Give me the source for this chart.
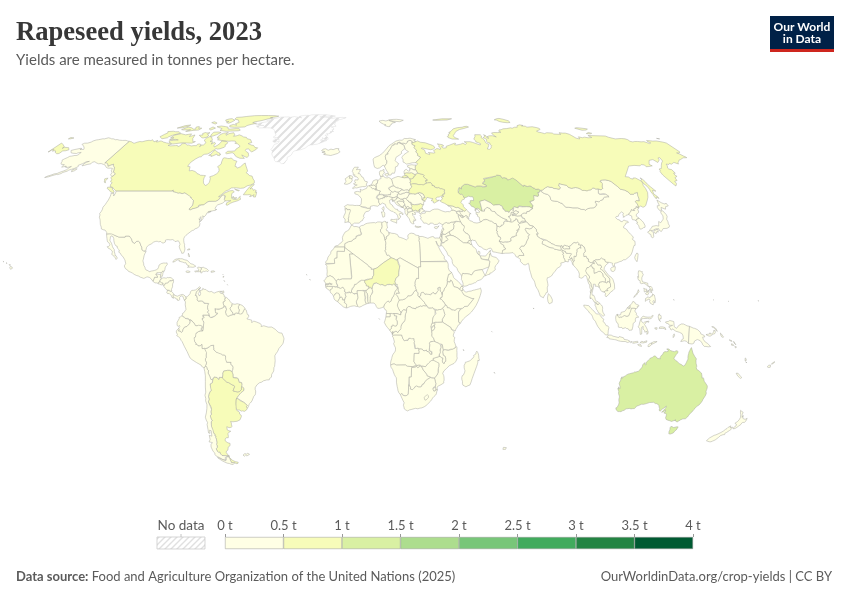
<!DOCTYPE html>
<html><head><meta charset="utf-8">
<script src="https://cdn.jsdelivr.net/npm/echarts@6/dist/echarts.min.js"></script>
<style>html,body{margin:0;background:#fff}#c{width:850px;height:600px}</style></head>
<body><div id="c"></div>
<script>
const legendTicks=[0,0.5,1,1.5,2,2.5,3,3.5,4];
const legendColors=['#ffffe5','#f7fcb9','#d9f0a3','#addd8e','#78c679','#41ab5d','#238443','#005a32'];
const yieldHalfToOne=['Canada','Russia','Argentina','Paraguay','Uruguay','Niger','Belarus','Ukraine','Lithuania','Bulgaria'];
const yieldOneToOneHalf=['Kazakhstan','Australia'];
const noDataCountries=['Greenland'];
const yieldValues={low:0.3,half:0.75,one:1.25};
const G={
"Afghanistan":"61.2,35.65 62.23,35.27 62.98,35.4 63.19,35.86 63.98,36.01 64.55,36.31 64.75,37.11 65.59,37.31 65.75,37.66 66.22,37.39 66.52,37.36 67.08,37.36 67.83,37.14 68.14,37.02 68.86,37.34 69.2,37.15 69.52,37.61 70.12,37.59 70.27,37.74 70.38,38.14 70.81,38.49 71.35,38.26 71.24,37.95 71.54,37.91 71.45,37.07 71.84,36.74 72.19,36.95 72.64,37.05 73.26,37.5 73.95,37.42 74.98,37.42 75.16,37.13 74.58,37.02 72.92,36.72 71.85,36.51 71.26,36.07 71.5,35.65 71.61,35.15 71.12,34.73 71.16,34.35 70.88,33.99 69.93,34.02 70.32,33.36 69.69,33.11 69.26,32.5 69.32,31.9 68.93,31.62 68.56,31.71 67.79,31.58 67.68,31.3 66.94,31.3 66.38,30.74 66.35,29.89 65.05,29.47 64.35,29.56 64.15,29.34 63.55,29.47 62.55,29.32 60.87,29.83 61.78,30.74 61.7,31.38 60.94,31.55 60.86,32.18 60.54,33.0 60.96,33.53 60.53,33.68 60.8,34.4 61.21,35.65",
"Angola":"16.33,-5.88 16.86,-7.22 17.47,-8.07 18.13,-7.99 18.46,-7.85 19.02,-7.99 19.17,-7.74 19.42,-7.16 20.04,-7.12 20.09,-6.94 20.6,-6.94 20.51,-7.3 21.73,-7.29 21.75,-7.92 21.95,-8.31 21.8,-8.91 21.88,-9.52 22.21,-9.89 22.16,-11.08 22.4,-10.99 22.84,-11.02 23.46,-10.87 23.91,-10.93 24.02,-11.24 23.9,-11.72 24.08,-12.19 23.93,-12.57 24.02,-12.91 21.93,-12.9 21.89,-16.08 22.56,-16.9 23.22,-17.52 21.38,-17.93 18.96,-17.79 18.26,-17.31 14.21,-17.35 13.46,-16.97 12.81,-16.94 12.22,-17.11 11.73,-17.3 11.64,-16.67 11.78,-15.79 12.12,-14.88 12.18,-14.45 12.5,-13.55 12.74,-13.14 13.31,-12.48 13.63,-12.04 13.74,-11.3 13.69,-10.73 13.39,-10.37 13.12,-9.77 12.88,-9.17 12.93,-8.96 13.24,-8.56 12.93,-7.6 12.73,-6.93 12.23,-6.29 12.32,-6.1 12.73,-5.97 13.02,-5.98 13.38,-5.86 16.33,-5.88;12.44,-5.68 12.18,-5.79 11.91,-5.04 12.32,-4.61 12.62,-4.44 12.44,-5.68",
"Albania":"20.59,41.86 20.46,41.52 20.61,41.09 21.02,40.84 20.67,40.43 20.15,39.62 19.98,39.69 19.4,40.25 19.32,40.73 19.4,41.41 19.54,41.72 19.37,41.88 19.3,42.2 19.74,42.69 19.8,42.5 20.07,42.59 20.28,42.32 20.52,42.22 20.59,41.86",
"United Arab Emirates":"51.58,24.25 51.76,24.29 51.79,24.02 52.58,24.18 53.4,24.15 54.01,24.12 54.69,24.8 55.44,25.44 56.07,26.06 56.26,25.71 56.4,24.92 55.89,24.92 55.8,24.27 55.98,24.13 55.53,23.93 55.53,23.52 55.23,23.11 55.21,22.71 55.01,22.5 52.0,23.0 51.62,24.01 51.58,24.25",
"Argentina":"-65.5,-55.2 -66.45,-55.25 -66.96,-54.9 -67.56,-54.87 -68.63,-54.87 -68.63,-52.64 -68.25,-53.1 -67.75,-53.85 -66.45,-54.45 -65.05,-54.7 -65.5,-55.2;-64.96,-22.08 -64.38,-22.8 -63.99,-21.99 -62.85,-22.03 -62.69,-22.25 -60.85,-23.88 -60.03,-24.03 -58.81,-24.77 -57.78,-25.16 -57.63,-25.6 -58.62,-27.12 -57.61,-27.4 -56.49,-27.55 -55.7,-27.39 -54.79,-26.62 -54.63,-25.74 -54.13,-25.55 -53.63,-26.12 -53.65,-26.92 -54.49,-27.47 -55.16,-27.88 -56.29,-28.85 -57.63,-30.22 -57.87,-31.02 -58.14,-32.04 -58.13,-33.04 -58.35,-33.26 -58.5,-34.43 -57.23,-35.29 -57.36,-35.98 -56.74,-36.41 -56.79,-36.9 -57.75,-38.18 -59.23,-38.72 -61.24,-38.93 -62.34,-38.83 -62.13,-39.42 -62.33,-40.17 -62.15,-40.68 -62.75,-41.03 -63.77,-41.17 -64.73,-40.8 -65.12,-41.06 -64.98,-42.06 -64.3,-42.36 -63.76,-42.04 -63.46,-42.56 -64.38,-42.87 -65.18,-43.5 -65.33,-44.5 -65.57,-45.04 -66.51,-45.04 -67.29,-45.55 -67.58,-46.3 -66.6,-47.03 -65.64,-47.24 -65.99,-48.13 -67.17,-48.7 -67.82,-49.87 -68.73,-50.26 -69.14,-50.73 -68.82,-51.77 -68.15,-52.35 -68.57,-52.3 -69.5,-52.14 -71.91,-52.01 -72.33,-51.43 -72.31,-50.68 -72.98,-50.74 -73.33,-50.38 -73.42,-49.32 -72.65,-48.88 -72.33,-48.24 -72.45,-47.74 -71.92,-46.88 -71.55,-45.56 -71.66,-44.97 -71.22,-44.78 -71.33,-44.41 -71.79,-44.21 -71.46,-43.79 -71.92,-43.41 -72.15,-42.25 -71.75,-42.05 -71.92,-40.83 -71.68,-39.81 -71.41,-38.92 -70.81,-38.55 -71.12,-37.58 -71.12,-36.66 -70.36,-36.01 -70.39,-35.17 -69.82,-34.19 -69.81,-33.27 -70.07,-33.09 -70.54,-31.37 -69.92,-30.34 -70.01,-29.37 -69.66,-28.46 -69.0,-27.52 -68.3,-26.9 -68.59,-26.51 -68.39,-26.19 -68.42,-24.52 -67.33,-24.03 -66.99,-22.99 -67.11,-22.74 -66.27,-21.83 -64.96,-22.08",
"Armenia":"43.58,41.09 44.97,41.25 45.18,40.99 45.56,40.81 45.36,40.56 45.89,40.22 45.61,39.9 46.03,39.63 46.48,39.46 46.51,38.77 46.14,38.74 45.74,39.32 45.74,39.47 45.3,39.47 45.0,39.74 44.79,39.71 44.4,40.01 43.66,40.25 43.75,40.74 43.58,41.09",
"Australia":"142.51,-10.67 143.52,-12.83 144.56,-14.17 145.37,-14.98 145.27,-15.43 145.49,-16.29 145.64,-16.78 145.89,-16.91 146.16,-17.76 146.06,-18.28 146.39,-18.96 147.47,-19.48 148.18,-19.96 148.85,-20.39 148.72,-20.63 149.29,-21.26 149.68,-22.34 150.08,-22.12 150.48,-22.56 150.73,-22.4 150.9,-23.46 151.61,-24.08 152.07,-24.46 152.86,-25.27 153.14,-26.07 153.16,-26.64 153.09,-27.26 153.57,-28.11 153.51,-28.99 153.34,-29.46 153.07,-30.35 153.09,-30.92 152.89,-31.64 152.45,-32.55 151.71,-33.04 151.34,-33.82 151.01,-34.31 150.71,-35.17 150.33,-35.67 150.08,-36.42 149.95,-37.11 149.99,-37.43 149.42,-37.77 148.3,-37.81 147.38,-38.22 146.92,-38.61 146.32,-39.04 145.49,-38.59 144.88,-38.42 145.32,-38.21 144.88,-37.9 143.61,-38.81 142.75,-38.54 142.18,-38.38 141.61,-38.31 140.64,-38.02 139.99,-37.4 139.81,-36.64 139.57,-36.14 139.08,-35.73 138.12,-35.61 138.45,-35.13 138.21,-34.38 137.72,-35.08 136.83,-35.26 137.35,-34.71 137.5,-34.13 137.89,-33.64 137.81,-32.9 136.99,-33.75 136.37,-34.09 135.99,-34.89 135.21,-34.48 135.24,-33.95 134.61,-33.22 134.09,-32.85 134.27,-32.62 132.99,-32.01 132.29,-31.98 131.33,-31.5 129.54,-31.59 128.24,-32.0 127.1,-32.28 126.15,-32.22 125.09,-32.73 124.22,-32.96 124.03,-33.48 123.66,-33.89 122.81,-33.91 122.18,-34.0 121.3,-33.82 120.58,-33.93 119.89,-33.98 119.3,-34.51 119.01,-34.46 118.51,-34.75 118.03,-35.06 117.3,-35.03 116.63,-35.03 115.56,-34.39 115.03,-34.2 115.05,-33.62 115.55,-33.49 115.71,-33.26 115.68,-32.9 115.8,-32.21 115.69,-31.61 115.16,-30.6 115.0,-30.03 115.04,-29.46 114.64,-28.81 114.62,-28.52 114.17,-28.12 114.05,-27.33 113.48,-26.54 113.34,-26.12 113.78,-26.55 113.44,-25.62 113.94,-25.91 114.23,-26.3 114.22,-25.79 113.72,-25.0 113.63,-24.68 113.39,-24.38 113.5,-23.81 113.71,-23.56 113.84,-23.06 113.74,-22.48 114.15,-21.76 114.23,-22.52 114.65,-21.83 115.46,-21.5 115.95,-21.07 116.71,-20.7 117.17,-20.62 117.44,-20.75 118.23,-20.37 118.84,-20.26 119.25,-19.95 119.81,-19.98 120.86,-19.68 121.4,-19.24 121.66,-18.71 122.24,-18.2 122.29,-17.8 122.31,-17.25 123.01,-16.41 123.43,-17.27 123.86,-17.07 123.5,-16.6 123.82,-16.11 124.26,-16.33 124.38,-15.57 124.93,-15.08 125.17,-14.68 125.67,-14.51 125.69,-14.23 126.13,-14.35 126.14,-14.1 126.58,-13.95 127.07,-13.82 127.8,-14.28 128.36,-14.87 128.99,-14.88 129.62,-14.97 129.41,-14.42 129.89,-13.62 130.34,-13.36 130.18,-13.11 130.62,-12.54 131.22,-12.18 131.74,-12.29 132.58,-12.11 132.56,-11.6 131.82,-11.27 132.36,-11.13 133.02,-11.38 133.55,-11.79 134.39,-12.04 134.68,-11.94 135.3,-12.25 135.88,-11.96 136.26,-12.05 136.49,-11.86 136.95,-12.35 136.69,-12.89 136.31,-13.29 135.96,-13.32 136.08,-13.72 135.78,-14.22 135.43,-14.72 135.5,-15.0 136.3,-15.55 137.07,-15.87 137.58,-16.22 138.3,-16.81 138.59,-16.81 139.11,-17.06 139.26,-17.37 140.22,-17.71 140.88,-17.37 141.07,-16.83 141.27,-16.39 141.4,-15.84 141.7,-15.04 141.56,-14.56 141.64,-14.27 141.52,-13.7 141.65,-12.94 141.84,-12.74 141.69,-12.41 141.93,-11.88 142.12,-11.33 142.14,-11.04 142.51,-10.67;145.4,-40.79 146.36,-41.14 146.91,-41.0 147.69,-40.81 148.29,-40.88 148.36,-42.06 148.02,-42.41 147.91,-43.21 147.56,-42.94 146.87,-43.63 146.66,-43.58 146.05,-43.55 145.43,-42.69 145.3,-42.03 144.72,-41.16 144.74,-40.7 145.4,-40.79",
"Austria":"16.98,48.12 16.9,47.71 16.34,47.71 16.53,47.5 16.2,46.85 16.01,46.68 15.14,46.66 14.63,46.43 13.81,46.51 12.38,46.77 12.15,47.12 11.16,46.94 11.05,46.75 10.44,46.89 9.93,46.92 9.48,47.1 9.63,47.35 9.59,47.53 9.9,47.58 10.4,47.3 10.54,47.57 11.43,47.52 12.14,47.7 12.62,47.67 12.93,47.47 13.03,47.64 12.88,48.29 13.24,48.42 13.6,48.88 14.34,48.56 14.9,48.96 15.25,49.04 16.03,48.73 16.5,48.79 16.96,48.6 16.88,48.47 16.98,48.12",
"Azerbaijan":"45.0,39.74 45.3,39.47 45.74,39.47 45.74,39.32 46.14,38.74 45.46,38.87 44.95,39.34 44.79,39.71 45,39.74;47.37,41.22 47.82,41.15 47.99,41.41 48.58,41.81 49.11,41.28 49.62,40.57 50.08,40.53 50.39,40.26 49.57,40.18 49.4,39.4 49.22,39.05 48.86,38.82 48.88,38.32 48.63,38.27 48.01,38.79 48.36,39.29 48.06,39.58 47.69,39.51 46.51,38.77 46.48,39.46 46.03,39.63 45.61,39.9 45.89,40.22 45.36,40.56 45.56,40.81 45.18,40.99 44.97,41.25 45.18,41.41 45.96,41.12 46.5,41.06 46.64,41.18 46.15,41.72 46.4,41.86 46.69,41.83 47.37,41.22",
"Burundi":"29.34,-4.5 29.28,-3.29 29.02,-2.92 29.63,-2.92 29.94,-2.35 30.47,-2.41 30.53,-2.81 30.74,-3.03 30.75,-3.36 30.51,-3.57 30.12,-4.09 29.75,-4.45 29.34,-4.5",
"Belgium":"3.31,51.35 4.05,51.27 4.97,51.48 5.61,51.04 6.16,50.8 6.04,50.13 5.78,50.09 5.67,49.53 4.8,50.0 4.29,49.91 3.59,50.38 3.12,50.78 2.66,50.8 2.51,51.15 3.31,51.35",
"Benin":"2.69,6.26 1.87,6.14 1.62,6.83 1.66,9.13 1.46,9.33 1.43,9.83 0.77,10.47 0.9,11.0 1.24,11.11 1.45,11.55 1.94,11.64 2.15,11.94 2.49,12.23 2.85,12.24 3.61,11.66 3.57,11.33 3.8,10.73 3.6,10.33 3.71,10.06 3.22,9.44 2.91,9.14 2.72,8.51 2.75,7.87 2.69,6.26",
"Burkina Faso":"-2.83,9.64 -3.51,9.9 -3.98,9.86 -4.33,9.61 -4.78,9.82 -4.95,10.15 -5.4,10.37 -5.47,10.95 -5.2,11.38 -5.22,11.71 -4.43,12.54 -4.28,13.23 -4.01,13.47 -3.52,13.34 -3.1,13.54 -2.97,13.8 -2.19,14.25 -2.0,14.56 -1.07,14.97 -0.52,15.12 -0.27,14.92 0.37,14.93 0.3,14.44 0.43,14.0 0.99,13.34 1.02,12.85 2.18,12.63 2.15,11.94 1.94,11.64 1.45,11.55 1.24,11.11 0.9,11.0 0.02,11.02 -0.44,11.1 -0.76,10.94 -1.2,11.01 -2.94,10.96 -2.96,10.4 -2.83,9.64",
"Bangladesh":"92.67,22.04 92.65,21.32 92.3,21.48 92.37,20.67 92.08,21.19 92.03,21.7 91.83,22.18 91.42,22.77 90.5,22.81 90.59,22.39 90.27,21.84 89.85,22.04 89.7,21.86 89.42,21.97 89.03,22.06 88.88,22.88 88.53,23.63 88.7,24.23 88.08,24.5 88.31,24.87 88.93,25.24 88.21,25.77 88.56,26.45 89.36,26.01 89.83,25.97 89.92,25.27 90.87,25.13 91.8,25.15 92.38,24.98 91.92,24.13 91.47,24.07 91.16,23.5 91.71,22.99 91.87,23.62 92.15,23.63 92.67,22.04",
"Bulgaria":"22.66,44.23 22.94,43.82 23.33,43.9 24.1,43.74 25.57,43.69 26.07,43.94 27.24,44.18 27.97,43.81 28.56,43.71 28.04,43.29 27.67,42.58 27.99,42.01 27.14,42.14 26.12,41.83 26.11,41.33 25.2,41.23 24.49,41.58 23.69,41.31 22.95,41.34 22.88,41.99 22.38,42.32 22.55,42.46 22.44,42.58 22.6,42.9 22.99,43.12 22.5,43.64 22.41,44.01 22.66,44.23",
"Bahamas":"-77.53,23.76 -77.78,23.71 -78.03,24.29 -78.41,24.58 -78.19,25.21 -77.89,25.17 -77.54,24.34 -77.53,23.76;-77.82,26.58 -78.91,26.42 -78.98,26.79 -78.51,26.87 -77.85,26.84 -77.82,26.58",
"Bosnia and Herzegovina":"19.01,44.86 19.37,44.86 19.12,44.42 19.6,44.04 19.45,43.57 19.22,43.52 18.71,43.2 18.56,42.65 17.67,43.03 17.3,43.45 16.92,43.67 16.46,44.04 16.24,44.35 15.75,44.82 15.96,45.23 16.32,45.0 16.53,45.21 17.0,45.23 17.86,45.07 18.55,45.08 19.01,44.86",
"Belarus":"23.48,53.91 24.45,53.91 25.54,54.28 25.77,54.85 26.59,55.17 26.49,55.62 27.1,55.78 28.18,56.17 29.23,55.92 29.37,55.67 29.9,55.79 30.87,55.55 31.38,55.18 30.76,54.81 31.38,54.16 31.79,53.97 31.73,53.79 32.41,53.62 32.69,53.35 32.3,53.13 31.5,53.17 31.31,53.07 31.54,52.74 31.79,52.1 30.93,52.04 30.62,51.82 30.56,51.32 30.16,51.42 29.25,51.37 28.99,51.6 28.62,51.43 28.24,51.57 27.45,51.59 26.34,51.83 25.33,51.91 24.55,51.89 24.01,51.62 23.53,51.58 23.51,52.02 23.2,52.49 23.8,52.69 23.8,53.09 23.53,53.47 23.48,53.91",
"Belize":"-89.14,17.81 -89.15,17.96 -89.03,18.0 -88.85,17.88 -88.49,18.49 -88.3,18.5 -88.11,18.35 -88.12,18.08 -88.29,17.64 -88.2,17.49 -88.3,17.13 -88.24,17.04 -88.36,16.53 -88.55,16.27 -88.73,16.23 -88.93,15.89 -89.23,15.89 -89.15,17.02 -89.14,17.81",
"Bolivia":"-62.85,-22.03 -63.99,-21.99 -64.38,-22.8 -64.96,-22.08 -66.27,-21.83 -67.11,-22.74 -67.83,-22.87 -68.22,-21.49 -68.76,-20.37 -68.44,-19.41 -68.97,-18.98 -69.1,-18.26 -69.59,-17.58 -68.96,-16.5 -69.39,-15.66 -69.16,-15.32 -69.34,-14.95 -68.95,-14.45 -68.93,-13.6 -68.88,-12.9 -68.67,-12.56 -69.53,-10.95 -68.79,-11.04 -68.27,-11.01 -68.05,-10.71 -67.17,-10.31 -66.65,-9.93 -65.34,-9.76 -65.44,-10.51 -65.32,-10.9 -65.4,-11.57 -64.32,-12.46 -63.2,-12.63 -62.8,-13.0 -62.13,-13.2 -61.71,-13.49 -61.08,-13.48 -60.5,-13.78 -60.46,-14.35 -60.26,-15.08 -60.54,-15.09 -60.16,-16.26 -58.24,-16.3 -58.39,-16.88 -58.28,-17.27 -57.73,-17.55 -57.5,-18.17 -57.68,-18.96 -57.95,-19.4 -57.85,-19.97 -58.17,-20.18 -58.18,-19.87 -59.12,-19.36 -60.04,-19.34 -61.79,-19.63 -62.27,-20.51 -62.29,-21.05 -62.69,-22.25 -62.85,-22.03",
"Brazil":"-57.63,-30.22 -56.29,-28.85 -55.16,-27.88 -54.49,-27.47 -53.65,-26.92 -53.63,-26.12 -54.13,-25.55 -54.63,-25.74 -54.43,-25.16 -54.29,-24.57 -54.29,-24.02 -54.65,-23.84 -55.03,-24.0 -55.4,-23.96 -55.52,-23.57 -55.61,-22.66 -55.8,-22.36 -56.47,-22.09 -56.88,-22.28 -57.94,-22.09 -57.87,-20.73 -58.17,-20.18 -57.85,-19.97 -57.95,-19.4 -57.68,-18.96 -57.5,-18.17 -57.73,-17.55 -58.28,-17.27 -58.39,-16.88 -58.24,-16.3 -60.16,-16.26 -60.54,-15.09 -60.26,-15.08 -60.46,-14.35 -60.5,-13.78 -61.08,-13.48 -61.71,-13.49 -62.13,-13.2 -62.8,-13.0 -63.2,-12.63 -64.32,-12.46 -65.4,-11.57 -65.32,-10.9 -65.44,-10.51 -65.34,-9.76 -66.65,-9.93 -67.17,-10.31 -68.05,-10.71 -68.27,-11.01 -68.79,-11.04 -69.53,-10.95 -70.09,-11.12 -70.55,-11.01 -70.48,-9.49 -71.3,-10.08 -72.18,-10.05 -72.56,-9.52 -73.23,-9.46 -73.02,-9.03 -73.57,-8.42 -73.99,-7.52 -73.72,-7.34 -73.72,-6.92 -73.12,-6.63 -73.22,-6.09 -72.96,-5.74 -72.89,-5.27 -71.75,-4.59 -70.93,-4.4 -70.79,-4.25 -69.89,-4.3 -69.44,-1.56 -69.42,-1.12 -69.58,-0.55 -70.02,-0.19 -70.02,0.54 -69.45,0.71 -69.25,0.6 -69.22,0.99 -69.8,1.09 -69.82,1.71 -67.87,1.69 -67.54,2.04 -67.26,1.72 -67.07,1.13 -66.88,1.25 -66.33,0.72 -65.55,0.79 -65.35,1.1 -64.61,1.33 -64.2,1.49 -64.08,1.92 -63.37,2.2 -63.42,2.41 -64.27,2.5 -64.41,3.13 -64.37,3.8 -64.82,4.06 -64.63,4.15 -63.89,4.02 -63.09,3.77 -62.8,4.01 -62.09,4.16 -60.97,4.54 -60.6,4.92 -60.73,5.2 -60.21,5.24 -59.98,5.01 -60.11,4.57 -59.77,4.42 -59.54,3.96 -59.82,3.61 -59.97,2.76 -59.72,2.25 -59.65,1.79 -59.03,1.32 -58.54,1.27 -58.43,1.46 -58.11,1.51 -57.66,1.68 -57.34,1.95 -56.78,1.86 -56.54,1.9 -55.99,1.82 -55.91,2.02 -56.07,2.22 -55.97,2.51 -55.57,2.42 -55.1,2.52 -54.52,2.31 -54.09,2.11 -53.78,2.38 -53.55,2.33 -53.42,2.05 -52.94,2.12 -52.56,2.5 -52.25,3.24 -51.66,4.16 -51.32,4.2 -51.07,3.65 -50.51,1.9 -49.97,1.74 -49.95,1.05 -50.7,0.22 -50.39,-0.08 -48.62,-0.24 -48.58,-1.24 -47.82,-0.58 -46.57,-0.94 -44.91,-1.55 -44.42,-2.14 -44.58,-2.69 -43.42,-2.38 -41.47,-2.91 -39.98,-2.87 -38.5,-3.7 -37.22,-4.82 -36.45,-5.11 -35.6,-5.15 -35.24,-5.46 -34.9,-6.74 -34.73,-7.34 -35.13,-8.99 -35.64,-9.65 -37.05,-11.04 -37.68,-12.17 -38.42,-13.04 -38.67,-13.06 -38.95,-13.79 -38.88,-15.67 -39.16,-17.21 -39.27,-17.87 -39.58,-18.26 -39.76,-19.6 -40.77,-20.9 -40.94,-21.94 -41.75,-22.37 -41.99,-22.97 -43.07,-22.97 -44.65,-23.35 -45.35,-23.8 -46.47,-24.09 -47.65,-24.89 -48.5,-25.88 -48.64,-26.62 -48.47,-27.18 -48.66,-28.19 -48.89,-28.67 -49.59,-29.22 -50.7,-30.98 -51.58,-31.78 -52.26,-32.25 -52.71,-33.2 -53.37,-33.77 -53.65,-33.2 -53.21,-32.73 -53.79,-32.05 -54.57,-31.49 -55.6,-30.85 -55.97,-30.88 -56.98,-30.11 -57.63,-30.22",
"Brunei":"114.2,4.53 114.6,4.9 115.45,5.45 115.4,4.96 115.35,4.32 114.87,4.35 114.66,4.01 114.2,4.53",
"Bhutan":"91.7,27.77 92.1,27.45 92.03,26.84 91.22,26.81 90.37,26.88 89.74,26.72 88.84,27.1 88.81,27.3 89.48,28.04 90.02,28.3 90.73,28.06 91.26,28.04 91.7,27.77",
"Botswana":"25.65,-18.54 25.85,-18.71 26.16,-19.29 27.3,-20.39 27.72,-20.5 27.73,-20.85 28.02,-21.49 28.79,-21.64 29.43,-22.09 28.02,-22.83 27.12,-23.57 26.79,-24.24 26.49,-24.62 25.94,-24.7 25.77,-25.17 25.66,-25.49 25.03,-25.72 24.21,-25.67 23.73,-25.39 23.31,-25.27 22.82,-25.5 22.58,-25.98 22.11,-26.28 21.61,-26.73 20.89,-26.83 20.67,-26.48 20.76,-25.87 20.17,-24.92 19.9,-24.77 19.9,-21.85 20.88,-21.81 20.91,-18.25 21.65,-18.22 23.2,-17.87 23.58,-18.28 24.22,-17.89 24.52,-17.89 25.08,-17.66 25.26,-17.74 25.65,-18.54",
"Central African Republic":"15.28,7.42 16.11,7.5 16.29,7.75 16.46,7.73 16.71,7.51 17.96,7.89 18.39,8.28 18.91,8.63 18.81,8.98 19.09,9.07 20.06,9.01 21.0,9.48 21.72,10.57 22.23,10.97 22.86,11.14 22.98,10.71 23.55,10.09 23.56,9.68 23.39,9.27 23.46,8.95 23.81,8.67 24.57,8.23 25.11,7.83 25.12,7.5 25.8,6.98 26.21,6.55 26.47,5.95 27.21,5.55 27.37,5.23 27.04,5.13 26.4,5.15 25.65,5.26 25.28,5.17 25.13,4.93 24.81,5.09 24.41,5.11 23.3,4.61 22.84,4.71 22.7,4.63 22.41,4.03 21.66,4.22 20.93,4.32 20.29,4.69 19.47,5.03 18.93,4.71 18.54,4.2 18.45,3.5 17.81,3.56 17.13,3.73 16.54,3.2 16.01,2.27 15.91,2.56 15.86,3.01 15.41,3.34 15.04,4.03 14.95,4.21 14.48,4.73 14.56,5.03 14.46,5.45 14.54,6.23 14.78,6.41 15.28,7.42",
"Canada":"-122.84,49.0 -122.97,49.0 -124.91,49.98 -125.62,50.42 -127.44,50.83 -127.99,51.72 -127.85,52.33 -129.13,52.76 -129.31,53.56 -130.51,54.29 -130.54,54.8 -129.98,55.28 -130.01,55.92 -131.71,56.55 -132.73,57.69 -133.36,58.41 -134.27,58.86 -134.95,59.27 -135.48,59.79 -136.48,59.46 -137.45,58.91 -138.34,59.56 -139.04,60.0 -140.01,60.28 -141.0,60.31 -141.0,69.71 -139.12,69.47 -137.55,68.99 -136.5,68.9 -135.63,69.32 -134.41,69.63 -132.93,69.51 -131.43,69.94 -129.79,70.19 -129.11,69.78 -128.36,70.01 -128.14,70.48 -127.45,70.38 -125.76,69.48 -124.42,70.16 -124.29,69.4 -123.06,69.56 -122.68,69.86 -121.47,69.8 -119.94,69.38 -117.6,69.01 -116.23,68.84 -115.25,68.91 -113.9,68.4 -115.3,67.9 -113.5,67.69 -110.8,67.81 -109.95,67.98 -108.88,67.38 -107.79,67.89 -108.81,68.31 -108.17,68.65 -106.95,68.7 -106.15,68.8 -105.34,68.56 -104.34,68.02 -103.22,68.1 -101.45,67.65 -99.9,67.81 -98.44,67.78 -98.56,68.4 -97.67,68.58 -96.12,68.24 -96.13,67.29 -95.49,68.09 -94.69,68.06 -94.23,69.07 -95.3,69.69 -96.47,70.09 -96.39,71.19 -95.21,71.92 -93.89,71.76 -92.88,71.32 -91.52,70.19 -92.41,69.7 -90.55,69.5 -90.55,68.47 -89.22,69.26 -88.02,68.62 -88.32,67.87 -87.35,67.2 -86.31,67.92 -85.58,68.78 -85.52,69.88 -84.1,69.81 -82.62,69.66 -81.28,69.16 -81.22,68.67 -81.96,68.13 -81.26,67.6 -81.39,67.11 -83.34,66.41 -84.74,66.26 -85.77,66.56 -86.07,66.06 -87.03,65.21 -87.32,64.78 -88.48,64.1 -89.91,64.03 -90.7,63.61 -90.77,62.96 -91.93,62.84 -93.16,62.02 -94.24,60.9 -94.63,60.11 -94.68,58.95 -93.22,58.78 -92.76,57.85 -92.3,57.09 -90.9,57.28 -89.04,56.85 -88.04,56.47 -87.32,55.99 -86.07,55.72 -85.01,55.3 -83.36,55.24 -82.27,55.15 -82.44,54.28 -82.13,53.28 -81.4,52.16 -79.91,51.21 -79.14,51.53 -78.6,52.56 -79.12,54.14 -79.83,54.67 -78.23,55.14 -77.1,55.84 -76.54,56.53 -76.62,57.2 -77.3,58.05 -78.52,58.8 -77.34,59.85 -77.77,60.76 -78.11,62.32 -77.41,62.55 -75.7,62.28 -74.67,62.18 -73.84,62.44 -72.91,62.11 -71.68,61.53 -71.37,61.14 -69.59,61.06 -69.62,60.22 -69.29,58.96 -68.37,58.8 -67.65,58.21 -66.2,58.77 -65.25,59.87 -64.58,60.34 -63.8,59.44 -62.5,58.17 -61.4,57.0 -61.8,56.34 -60.47,55.78 -59.57,55.2 -57.98,54.95 -57.33,54.63 -56.94,53.78 -56.16,53.27 -55.76,52.61 -55.68,52.15 -56.4,51.77 -57.13,51.42 -58.77,51.06 -60.03,50.24 -61.72,50.08 -63.86,50.29 -65.36,50.3 -66.4,50.23 -67.24,49.51 -68.51,49.07 -69.95,47.74 -71.1,46.82 -70.26,46.99 -68.65,48.3 -66.55,49.13 -65.06,49.23 -64.17,48.74 -65.12,48.07 -64.8,46.99 -64.47,46.24 -63.17,45.74 -61.52,45.88 -60.52,47.01 -60.45,46.28 -59.8,45.92 -61.04,45.27 -63.25,44.67 -64.25,44.27 -65.36,43.55 -66.12,43.62 -66.16,44.47 -64.43,45.29 -66.03,45.26 -67.14,45.14 -67.79,45.7 -67.79,47.07 -68.23,47.35 -68.91,47.19 -69.24,47.45 -70.0,46.69 -70.31,45.92 -70.66,45.46 -71.08,45.31 -71.41,45.25 -71.51,45.01 -74.87,45.0 -75.32,44.82 -76.38,44.1 -76.5,44.02 -76.82,43.63 -77.74,43.63 -78.72,43.63 -79.17,43.47 -79.01,43.27 -78.92,42.97 -78.94,42.86 -80.25,42.37 -81.28,42.21 -82.44,41.68 -82.69,41.68 -83.03,41.83 -83.14,41.98 -83.12,42.08 -82.9,42.43 -82.43,42.98 -82.14,43.57 -82.34,44.44 -82.55,45.35 -83.59,45.82 -83.47,45.99 -83.62,46.12 -83.89,46.12 -84.09,46.28 -84.14,46.51 -84.34,46.41 -84.6,46.44 -84.54,46.54 -84.78,46.64 -84.88,46.9 -88.38,48.3 -89.27,48.02 -89.6,48.01 -90.83,48.27 -91.64,48.14 -92.61,48.45 -93.63,48.61 -94.33,48.67 -94.64,48.84 -94.82,49.39 -95.16,49.38 -95.16,49.0 -122.84,49.0;-55.6,51.32 -56.13,50.69 -56.8,49.81 -56.14,50.15 -55.47,49.94 -55.82,49.59 -54.94,49.31 -54.47,49.56 -53.48,49.25 -53.79,48.52 -53.09,48.69 -52.96,47.62 -52.65,47.54 -53.07,46.66 -53.52,46.62 -54.18,46.81 -53.96,47.63 -54.24,47.75 -55.4,46.88 -55.99,46.92 -55.29,47.39 -56.25,47.63 -57.33,47.57 -59.27,47.6 -59.42,47.9 -58.4,49.13 -57.36,50.72 -56.74,51.29 -55.87,51.63 -55.41,51.59 -55.6,51.32;-123.51,48.51 -124.01,48.37 -125.66,48.83 -125.95,49.18 -126.85,49.53 -127.03,49.81 -128.06,49.99 -128.44,50.54 -128.36,50.77 -127.31,50.55 -126.7,50.4 -125.76,50.3 -125.42,49.95 -124.92,49.48 -123.92,49.06 -123.51,48.51;-132.71,54.04 -131.75,54.12 -132.05,52.98 -131.18,52.18 -131.58,52.18 -132.18,52.64 -132.55,53.1 -133.05,53.41 -133.24,53.85 -133.18,54.17 -132.71,54.04;-68.79,70.53 -67.91,70.12 -66.97,69.19 -68.81,68.72 -66.45,68.07 -64.86,67.85 -63.42,66.93 -61.85,66.86 -62.16,66.16 -63.92,65.0 -65.15,65.43 -66.72,66.39 -68.02,66.26 -68.14,65.69 -67.09,65.11 -65.73,64.65 -65.32,64.38 -64.67,63.39 -65.01,62.67 -66.28,62.95 -68.78,63.75 -67.37,62.88 -66.33,62.28 -66.17,61.93 -68.88,62.33 -71.02,62.91 -72.24,63.4 -71.89,63.68 -73.38,64.19 -74.83,64.68 -74.82,64.39 -77.71,64.23 -78.56,64.57 -77.9,65.31 -76.02,65.33 -73.96,65.45 -74.29,65.81 -73.94,66.31 -72.65,67.28 -72.93,67.73 -73.31,68.07 -74.84,68.55 -76.87,68.89 -76.23,69.15 -77.29,69.77 -78.17,69.83 -78.96,70.17 -79.49,69.87 -81.31,69.74 -84.94,69.97 -87.06,70.26 -88.68,70.41 -89.51,70.76 -88.47,71.22 -89.89,71.22 -90.2,72.24 -89.44,73.13 -88.41,73.54 -85.83,73.8 -86.56,73.16 -85.77,72.53 -84.85,73.34 -82.32,73.75 -80.6,72.72 -80.75,72.06 -78.77,72.35 -77.82,72.75 -75.61,72.24 -74.23,71.77 -74.1,71.33 -72.24,71.56 -71.2,70.92 -68.79,70.53;-104.47,70.99 -102.5,69.5 -101.1,69.6 -102.4,68.9 -105.3,68.95 -108,69.1 -113.3,68.5 -116.1,69.17 -117.3,69.96 -115.1,70.2 -112.4,70.37 -114.35,70.6 -116.49,70.52 -117.9,70.54 -118.4,70.91 -116.5,71.4 -118.56,71.36 -119.4,71.56 -118.1,72.6 -115.0,73.3 -111.3,72.75 -109.9,72.97 -108.2,73.2 -107.8,71.9 -105.4,72.7 -104.47,70.99;-121.54,74.45 -120.11,74.24 -117.56,74.19 -116.58,73.9 -115.51,73.48 -116.77,73.22 -119.22,72.52 -120.46,71.82 -120.46,71.38 -123.09,70.9 -123.62,71.34 -125.93,71.87 -125.5,72.29 -124.81,73.02 -123.94,73.68 -124.92,74.29 -121.54,74.45;-85.16,65.66 -84.98,65.22 -84.46,65.37 -83.88,65.11 -82.79,64.77 -81.64,64.46 -81.55,63.98 -80.82,64.06 -80.1,63.73 -80.99,63.41 -82.55,63.65 -83.11,64.1 -84.1,63.57 -85.52,63.05 -85.87,63.64 -87.22,63.54 -86.35,64.04 -86.22,64.82 -85.88,65.74 -85.16,65.66;-79.5,74.9 -80.5,74.66 -85,74.5 -88,74.4 -92.4,74.84 -92.2,75.7 -93.6,76.0 -95.9,76.44 -97.1,76.75 -94.7,77.1 -91.6,76.78 -89.5,76.5 -88,75.5 -86.4,75.49 -83.2,75.75 -81.1,75.71 -79.5,74.9;-78.5,76.6 -80.9,76.5 -85,76.4 -88.5,76.6 -89.5,77.3 -88,77.9 -85,77.5 -87,78.2 -85.5,79 -87,79.7 -88,80.3 -91,80.7 -92.5,81.3 -91.5,81.9 -88,82.1 -85,82.5 -80,83.0 -75,83.1 -70,83.1 -65,83 -62,82.7 -63,82.3 -67,81.7 -65,81.5 -68,80.9 -70,80.2 -72,79.7 -75,79.3 -76,78.8 -73,78.5 -76,77.9 -78,77.3 -78.5,76.6;-92,78.5 -93.9,78.8 -93.2,79.4 -95,79.4 -96.7,80.2 -95.3,80.9 -93.5,81.1 -92,80.5 -90,80.0 -91,79 -92,78.5;-117.71,75.22 -116.35,76.2 -115.4,76.48 -112.6,76.14 -110.81,75.55 -109.07,75.47 -110.5,76.43 -109.58,76.79 -108.55,76.68 -108.21,76.2 -107.82,75.85 -106.93,76.01 -105.88,75.97 -105.7,75.48 -106.31,75.01 -109.7,74.85 -112.22,74.42 -113.74,74.39 -113.87,74.72 -111.79,75.16 -116.31,75.04 -117.71,75.22;-98.36,71.27 -99.32,71.36 -100.01,71.74 -102.5,72.51 -102.48,72.83 -100.44,72.71 -101.54,73.36 -100.36,73.84 -99.16,73.63 -97.38,73.76 -97.12,73.47 -98.05,72.99 -96.54,72.56 -96.72,71.66 -98.36,71.27;-90.5,73.86 -92.42,74.1 -95.3,74 -95.5,73.1 -95,72 -93.5,72.2 -92,72.8 -90.5,73.86;-122,76 -119,77.3 -116,77.6 -116.2,77 -119,76.2 -122,76;-100.5,78.1 -104,78.8 -105.5,79.3 -103,79.3 -100,78.6 -100.5,78.1;-98.5,75 -100.5,75.6 -99.5,76.6 -97,76 -98.5,75;-63.66,46.55 -62.94,46.42 -62.01,46.44 -62.5,46.03 -62.87,45.97 -64.14,46.39 -64.39,46.73 -64.01,47.04 -63.66,46.55;-63.85,49.71 -62.5,49.4 -61.84,49.29 -61.81,49.11 -62.29,49.09 -63.59,49.4 -64.52,49.87 -64.17,49.96 -63.85,49.71",
"Switzerland":"9.59,47.53 9.63,47.35 9.48,47.1 9.93,46.92 10.44,46.89 10.36,46.48 9.92,46.31 9.18,46.44 8.97,46.04 8.49,46.01 8.32,46.16 7.76,45.82 7.27,45.78 6.84,46.0 6.5,46.43 6.02,46.27 6.04,46.73 6.77,47.29 6.74,47.54 7.19,47.45 7.47,47.62 8.32,47.61 8.52,47.83 9.59,47.53",
"Chile":"-69.59,-17.58 -69.1,-18.26 -68.97,-18.98 -68.44,-19.41 -68.76,-20.37 -68.22,-21.49 -67.83,-22.87 -67.11,-22.74 -66.99,-22.99 -67.33,-24.03 -68.42,-24.52 -68.39,-26.19 -68.59,-26.51 -68.3,-26.9 -69.0,-27.52 -69.66,-28.46 -70.01,-29.37 -69.92,-30.34 -70.54,-31.37 -70.07,-33.09 -69.81,-33.27 -69.82,-34.19 -70.39,-35.17 -70.36,-36.01 -71.12,-36.66 -71.12,-37.58 -70.81,-38.55 -71.41,-38.92 -71.68,-39.81 -71.92,-40.83 -71.75,-42.05 -72.15,-42.25 -71.92,-43.41 -71.46,-43.79 -71.79,-44.21 -71.33,-44.41 -71.22,-44.78 -71.66,-44.97 -71.55,-45.56 -71.92,-46.88 -72.45,-47.74 -72.33,-48.24 -72.65,-48.88 -73.42,-49.32 -73.33,-50.38 -72.98,-50.74 -72.31,-50.68 -72.33,-51.43 -71.91,-52.01 -69.5,-52.14 -68.57,-52.3 -69.46,-52.29 -69.94,-52.54 -70.85,-52.9 -71.01,-53.83 -71.43,-53.86 -72.56,-53.53 -73.7,-52.84 -74.95,-52.26 -75.26,-51.63 -74.98,-51.04 -75.48,-50.38 -75.61,-48.67 -75.18,-47.71 -74.13,-46.94 -75.64,-46.65 -74.69,-45.76 -74.35,-44.1 -73.24,-44.45 -72.72,-42.38 -73.39,-42.12 -73.7,-43.37 -74.33,-43.22 -74.02,-41.79 -73.68,-39.94 -73.22,-39.26 -73.51,-38.28 -73.59,-37.16 -73.17,-37.12 -72.55,-35.51 -71.86,-33.91 -71.44,-32.42 -71.67,-30.92 -71.37,-30.1 -71.49,-28.86 -70.91,-27.64 -70.72,-25.71 -70.4,-23.63 -70.09,-21.39 -70.16,-19.76 -70.37,-18.35 -69.86,-18.09 -69.59,-17.58;-68.63,-52.64 -68.63,-54.87 -67.56,-54.87 -66.96,-54.9 -67.29,-55.3 -68.15,-55.61 -68.64,-55.58 -69.23,-55.5 -69.96,-55.2 -71.01,-55.05 -72.26,-54.5 -73.29,-53.96 -74.66,-52.84 -73.84,-53.05 -72.43,-53.72 -71.11,-54.07 -70.59,-53.62 -70.27,-52.93 -69.35,-52.52 -68.63,-52.64",
"China":"110.34,18.68 109.48,18.2 108.66,18.51 108.63,19.37 109.12,19.82 110.21,20.1 110.79,20.08 111.01,19.7 110.57,19.26 110.34,18.68;127.66,49.76 129.4,49.44 130.58,48.73 131.0,47.79 132.51,47.79 133.37,48.18 135.03,48.48 134.5,47.58 134.11,47.21 133.77,46.12 133.1,45.14 131.88,45.32 131.03,44.97 131.29,44.11 131.14,42.93 130.63,42.9 130.64,42.4 129.99,42.99 129.6,42.43 128.05,41.99 128.21,41.47 127.34,41.5 126.87,41.82 126.18,41.11 125.08,40.57 124.27,39.93 122.87,39.64 122.13,39.17 121.05,38.9 121.59,39.36 121.38,39.75 122.17,40.42 121.64,40.95 120.77,40.59 119.64,39.9 119.02,39.25 118.04,39.2 117.53,38.74 118.06,38.06 118.88,37.9 118.91,37.45 119.7,37.16 120.82,37.87 121.71,37.48 122.36,37.45 122.52,36.93 121.1,36.65 120.64,36.11 119.66,35.61 119.15,34.91 120.23,34.36 120.62,33.38 121.23,32.46 121.91,31.69 121.89,30.95 121.26,30.68 121.5,30.14 122.09,29.83 121.94,29.02 121.68,28.23 121.13,28.14 120.4,27.05 119.59,25.74 118.66,24.55 117.28,23.62 115.89,22.78 114.76,22.67 114.15,22.22 113.81,22.55 113.24,22.05 111.84,21.55 110.78,21.4 110.44,20.34 109.89,20.28 109.63,21.01 109.86,21.4 108.52,21.72 108.05,21.55 107.04,21.81 106.57,22.22 106.73,22.79 105.81,22.98 105.33,23.35 104.48,22.82 103.5,22.7 102.71,22.71 102.17,22.46 101.65,22.32 101.8,21.17 101.27,21.2 101.18,21.44 101.15,21.85 100.42,21.56 99.98,21.74 99.24,22.12 99.53,22.95 98.9,23.14 98.66,24.06 97.6,23.9 97.72,25.08 98.67,25.92 98.71,26.74 98.68,27.51 98.25,27.75 97.91,28.34 97.33,28.26 96.25,28.41 96.59,28.83 96.12,29.45 95.4,29.03 94.57,29.28 93.41,28.64 92.5,27.9 91.7,27.77 91.26,28.04 90.73,28.06 90.02,28.3 89.48,28.04 88.81,27.3 88.73,28.09 88.12,27.88 86.95,27.97 85.82,28.2 85.01,28.64 84.23,28.84 83.9,29.32 83.34,29.46 82.33,30.12 81.53,30.42 81.11,30.18 79.72,30.88 78.74,31.52 78.46,32.62 79.18,32.48 79.21,32.99 78.81,33.51 78.91,34.32 77.84,35.49 76.19,35.9 75.9,36.67 75.16,37.13 74.98,37.42 74.83,37.99 74.86,38.38 74.26,38.61 73.93,38.51 73.68,39.43 73.96,39.66 73.82,39.89 74.78,40.37 75.47,40.56 76.53,40.43 76.9,41.07 78.19,41.19 78.54,41.58 80.12,42.12 80.26,42.35 80.18,42.92 80.87,43.18 79.97,44.92 81.95,45.32 82.46,45.54 83.18,47.33 85.16,47.0 85.72,47.45 85.77,48.46 86.6,48.55 87.36,49.21 87.75,49.3 88.01,48.6 88.85,48.07 90.28,47.69 90.97,46.89 90.59,45.72 90.95,45.29 92.13,45.12 93.48,44.98 94.69,44.35 95.31,44.24 95.76,43.32 96.35,42.73 97.45,42.75 99.52,42.52 101.83,42.52 103.31,41.91 104.52,41.91 104.96,41.6 106.13,42.13 107.74,42.48 109.24,42.52 110.41,42.87 111.13,43.41 111.83,43.74 111.67,44.07 111.35,44.46 111.87,45.1 112.44,45.01 113.46,44.81 114.46,45.34 115.99,45.73 116.72,46.39 117.42,46.67 118.87,46.81 119.66,46.69 119.77,47.05 118.87,47.75 118.06,48.07 117.3,47.7 116.31,47.85 115.74,47.73 115.49,48.14 116.19,49.13 116.68,49.89 117.88,49.51 119.29,50.14 119.28,50.58 120.18,51.64 120.73,51.96 120.73,52.52 120.18,52.75 121.0,53.25 122.25,53.43 123.57,53.46 125.07,53.16 125.95,52.79 126.56,51.78 126.94,51.35 127.29,50.74 127.66,49.76",
"Ivory Coast":"-2.86,4.99 -3.31,4.98 -4.01,5.18 -4.65,5.17 -5.83,4.99 -6.53,4.71 -7.52,4.34 -7.71,4.36 -7.64,5.19 -7.54,5.31 -7.57,5.71 -7.99,6.13 -8.31,6.19 -8.6,6.47 -8.39,6.91 -8.49,7.4 -8.44,7.69 -8.28,7.69 -8.22,8.12 -8.3,8.32 -8.2,8.46 -7.83,8.58 -8.08,9.38 -8.31,9.79 -8.23,10.13 -8.03,10.21 -7.9,10.3 -7.62,10.15 -6.85,10.14 -6.67,10.43 -6.49,10.41 -6.21,10.52 -6.05,10.1 -5.82,10.22 -5.4,10.37 -4.95,10.15 -4.78,9.82 -4.33,9.61 -3.98,9.86 -3.51,9.9 -2.83,9.64 -2.56,8.22 -3.01,7.38 -3.31,6.78 -3.24,6.25 -2.81,5.39 -2.86,4.99",
"Cameroon":"13.08,2.27 12.95,2.32 12.36,2.19 11.75,2.33 11.28,2.26 9.65,2.28 9.8,3.07 9.4,3.73 8.95,3.9 8.74,4.35 8.49,4.5 8.5,4.77 8.76,5.48 9.23,6.44 9.52,6.45 10.12,7.04 10.5,7.06 11.06,6.64 11.75,6.98 11.84,7.4 12.06,7.8 12.22,8.31 12.75,8.72 12.96,9.42 13.17,9.64 13.31,10.16 13.57,10.8 14.42,11.57 14.47,11.9 14.58,12.09 14.18,12.48 14.21,12.8 14.5,12.86 14.89,12.22 14.96,11.56 14.92,10.89 15.47,9.98 14.91,9.99 14.62,9.92 14.17,10.02 13.95,9.55 14.54,8.97 15.47,7.69 15.28,7.42 14.78,6.41 14.54,6.23 14.46,5.45 14.56,5.03 14.48,4.73 14.95,4.21 15.04,4.03 15.41,3.34 15.86,3.01 15.91,2.56 16.01,2.27 15.94,1.73 15.15,1.96 14.34,2.23 13.08,2.27",
"Democratic Republic of Congo":"30.83,3.51 30.77,2.34 31.17,2.2 30.85,1.85 30.47,1.58 30.09,1.06 29.88,0.6 29.82,-0.21 29.59,-0.59 29.58,-1.34 29.29,-1.62 29.25,-2.22 29.12,-2.29 29.02,-2.92 29.28,-3.29 29.34,-4.5 29.52,-5.42 29.42,-5.94 29.62,-6.52 30.2,-7.08 30.74,-8.34 30.35,-8.24 29.0,-8.41 28.73,-8.53 28.45,-9.16 28.67,-9.61 28.5,-10.79 28.37,-11.79 28.64,-11.97 29.34,-12.36 29.62,-12.18 29.7,-13.26 28.93,-13.25 28.52,-12.7 28.16,-12.27 27.39,-12.13 27.16,-11.61 26.55,-11.92 25.75,-11.78 25.42,-11.33 24.78,-11.24 24.31,-11.26 24.26,-10.95 23.91,-10.93 23.46,-10.87 22.84,-11.02 22.4,-10.99 22.16,-11.08 22.21,-9.89 21.88,-9.52 21.8,-8.91 21.95,-8.31 21.75,-7.92 21.73,-7.29 20.51,-7.3 20.6,-6.94 20.09,-6.94 20.04,-7.12 19.42,-7.16 19.17,-7.74 19.02,-7.99 18.46,-7.85 18.13,-7.99 17.47,-8.07 16.86,-7.22 16.33,-5.88 13.38,-5.86 13.02,-5.98 12.73,-5.97 12.32,-6.1 12.18,-5.79 12.44,-5.68 12.47,-5.25 12.63,-4.99 13.0,-4.78 13.26,-4.88 13.6,-4.5 14.14,-4.51 14.21,-4.79 14.58,-4.97 15.17,-4.34 15.75,-3.86 16.01,-3.54 15.97,-2.71 16.41,-1.74 16.87,-1.23 17.52,-0.74 17.64,-0.42 17.66,-0.06 17.83,0.29 17.77,0.86 17.9,1.74 18.09,2.37 18.39,2.9 18.45,3.5 18.54,4.2 18.93,4.71 19.47,5.03 20.29,4.69 20.93,4.32 21.66,4.22 22.41,4.03 22.7,4.63 22.84,4.71 23.3,4.61 24.41,5.11 24.81,5.09 25.13,4.93 25.28,5.17 25.65,5.26 26.4,5.15 27.04,5.13 27.37,5.23 27.98,4.41 28.43,4.29 28.7,4.46 29.16,4.39 29.72,4.6 29.95,4.17 30.83,3.51",
"Congo":"13.0,-4.78 12.63,-4.99 12.47,-5.25 12.44,-5.68 12.62,-4.44 12.32,-4.61 11.91,-5.04 11.09,-3.98 11.86,-3.43 11.48,-2.77 11.82,-2.51 12.5,-2.39 12.58,-1.95 13.11,-2.43 13.99,-2.47 14.3,-1.99 14.43,-1.33 14.32,-0.55 13.84,0.04 14.28,1.2 14.03,1.4 13.28,1.31 13.0,1.83 13.08,2.27 14.34,2.23 15.15,1.96 15.94,1.73 16.01,2.27 16.54,3.2 17.13,3.73 17.81,3.56 18.45,3.5 18.39,2.9 18.09,2.37 17.9,1.74 17.77,0.86 17.83,0.29 17.66,-0.06 17.64,-0.42 17.52,-0.74 16.87,-1.23 16.41,-1.74 15.97,-2.71 16.01,-3.54 15.75,-3.86 15.17,-4.34 14.58,-4.97 14.21,-4.79 14.14,-4.51 13.6,-4.5 13.26,-4.88 13.0,-4.78",
"Colombia":"-75.37,-0.15 -75.8,0.08 -76.29,0.42 -76.58,0.26 -77.42,0.4 -77.67,0.83 -77.86,0.81 -78.86,1.38 -78.99,1.69 -78.62,1.77 -78.66,2.27 -78.43,2.63 -77.93,2.7 -77.51,3.33 -77.13,3.85 -77.5,4.09 -77.31,4.67 -77.53,5.58 -77.32,5.85 -77.48,6.69 -77.88,7.22 -77.75,7.71 -77.43,7.64 -77.24,7.94 -77.47,8.52 -77.35,8.67 -76.84,8.64 -76.09,9.34 -75.67,9.44 -75.66,9.77 -75.48,10.62 -74.91,11.08 -74.28,11.1 -74.2,11.31 -73.41,11.23 -72.63,11.73 -72.24,11.96 -71.75,12.44 -71.4,12.38 -71.14,12.11 -71.33,11.78 -71.97,11.61 -72.23,11.11 -72.61,10.82 -72.91,10.45 -73.03,9.74 -73.3,9.15 -72.79,9.09 -72.66,8.63 -72.44,8.41 -72.36,8.0 -72.48,7.63 -72.44,7.42 -72.2,7.34 -71.96,6.99 -70.67,7.09 -70.09,6.96 -69.39,6.1 -68.99,6.21 -68.27,6.15 -67.7,6.27 -67.34,6.1 -67.52,5.56 -67.74,5.22 -67.82,4.5 -67.62,3.84 -67.34,3.54 -67.3,3.32 -67.81,2.82 -67.45,2.6 -67.18,2.25 -66.88,1.25 -67.07,1.13 -67.26,1.72 -67.54,2.04 -67.87,1.69 -69.82,1.71 -69.8,1.09 -69.22,0.99 -69.25,0.6 -69.45,0.71 -70.02,0.54 -70.02,-0.19 -69.58,-0.55 -69.42,-1.12 -69.44,-1.56 -69.89,-4.3 -70.39,-3.77 -70.69,-3.74 -70.05,-2.73 -70.81,-2.26 -71.41,-2.34 -71.77,-2.17 -72.33,-2.43 -73.07,-2.31 -73.66,-1.26 -74.12,-1.0 -74.44,-0.53 -75.11,-0.06 -75.37,-0.15",
"Costa Rica":"-82.97,8.23 -83.51,8.45 -83.71,8.66 -83.6,8.83 -83.63,9.05 -83.91,9.29 -84.3,9.49 -84.65,9.62 -84.71,9.91 -84.98,10.09 -84.91,9.8 -85.11,9.56 -85.34,9.83 -85.66,9.93 -85.8,10.13 -85.79,10.44 -85.66,10.75 -85.94,10.9 -85.56,11.22 -84.9,10.95 -84.67,11.08 -84.36,10.78 -84.2,10.79 -83.9,10.73 -83.66,10.94 -83.4,10.4 -83.02,10.0 -82.55,9.57 -82.93,9.48 -82.93,9.07 -82.72,8.93 -82.87,8.81 -82.83,8.63 -82.91,8.42 -82.97,8.23",
"Cuba":"-82.27,23.19 -81.4,23.12 -80.62,23.11 -79.68,22.77 -79.28,22.4 -78.35,22.51 -77.99,22.28 -77.15,21.66 -76.52,21.21 -76.19,21.22 -75.6,21.02 -75.67,20.74 -74.93,20.69 -74.18,20.28 -74.3,20.05 -74.96,19.92 -75.63,19.87 -76.32,19.95 -77.76,19.86 -77.09,20.41 -77.49,20.67 -78.14,20.74 -78.48,21.03 -78.72,21.6 -79.28,21.56 -80.22,21.83 -80.52,22.04 -81.82,22.19 -82.17,22.39 -81.8,22.64 -82.78,22.69 -83.49,22.17 -83.91,22.15 -84.05,21.91 -84.55,21.8 -84.97,21.9 -84.45,22.2 -84.23,22.57 -83.78,22.79 -83.27,22.98 -82.51,23.08 -82.27,23.19",
"Cyprus":"33.97,35.06 34.58,35.67 33.9,35.25 33.5,35.34 33,35.35 32.92,35.09 32.73,35.14 32.26,35.1 32.49,34.7 33.38,34.58 33.9,34.96 33.97,35.06",
"Czechia":"16.96,48.6 16.5,48.79 16.03,48.73 15.25,49.04 14.9,48.96 14.34,48.56 13.6,48.88 13.03,49.31 12.52,49.55 12.42,49.97 12.24,50.27 12.97,50.48 13.34,50.73 14.06,50.93 14.31,51.12 14.57,51.0 15.02,51.11 15.49,50.78 16.18,50.42 16.72,50.22 16.87,50.47 17.55,50.36 17.65,50.05 18.39,49.99 18.85,49.5 18.55,49.5 18.17,49.27 18.1,49.04 17.91,48.99 17.89,48.9 17.52,48.8 17.1,48.82 16.96,48.6",
"Germany":"9.92,54.98 9.94,54.6 10.95,54.36 10.94,54.01 11.96,54.2 12.52,54.47 13.65,54.08 14.12,53.76 14.35,53.25 14.07,52.98 14.44,52.62 14.69,52.09 14.61,51.75 15.02,51.11 14.57,51.0 14.31,51.12 14.06,50.93 13.34,50.73 12.97,50.48 12.24,50.27 12.42,49.97 12.52,49.55 13.03,49.31 13.6,48.88 13.24,48.42 12.88,48.29 13.03,47.64 12.93,47.47 12.62,47.67 12.14,47.7 11.43,47.52 10.54,47.57 10.4,47.3 9.9,47.58 9.59,47.53 8.52,47.83 8.32,47.61 7.47,47.62 7.59,48.33 8.1,49.02 6.66,49.2 6.19,49.46 6.24,49.9 6.04,50.13 6.16,50.8 5.99,51.85 6.59,51.85 6.84,52.23 7.09,53.14 6.91,53.48 7.94,53.75 8.12,53.53 8.8,54.02 8.57,54.4 8.53,54.96 9.28,54.83 9.92,54.98",
"Djibouti":"43.08,12.7 43.32,12.39 43.29,11.97 42.72,11.74 43.15,11.46 42.78,10.93 42.55,11.11 42.31,11.03 41.76,11.05 41.74,11.36 41.66,11.63 42,12.1 42.35,12.54 42.78,12.46 43.08,12.7",
"Denmark":"9.92,54.98 9.28,54.83 8.53,54.96 8.12,55.52 8.09,56.54 8.26,56.81 8.54,57.11 9.42,57.17 9.78,57.45 10.58,57.73 10.55,57.22 10.25,56.89 10.37,56.61 10.91,56.46 10.67,56.08 10.37,56.19 9.65,55.47 9.92,54.98;12.37,56.11 12.69,55.61 12.09,54.8 11.04,55.36 10.9,55.78 12.37,56.11",
"Dominican Republic":"-71.71,18.04 -71.69,18.32 -71.95,18.62 -71.7,18.79 -71.62,19.17 -71.71,19.71 -71.59,19.88 -70.81,19.88 -70.21,19.62 -69.95,19.65 -69.77,19.29 -69.22,19.31 -69.25,19.02 -68.81,18.98 -68.32,18.61 -68.69,18.21 -69.16,18.42 -69.62,18.38 -69.95,18.43 -70.13,18.25 -70.52,18.18 -70.67,18.43 -71,18.28 -71.4,17.6 -71.66,17.76 -71.71,18.04",
"Algeria":"11.99,23.47 8.57,21.57 5.68,19.6 4.27,19.16 3.16,19.06 3.15,19.69 2.68,19.86 2.06,20.14 1.82,20.61 -1.55,22.79 -4.92,24.97 -8.68,27.4 -8.67,27.59 -8.67,27.66 -8.67,28.84 -7.06,29.58 -6.06,29.73 -5.24,30.0 -4.86,30.5 -3.69,30.9 -3.65,31.64 -3.07,31.72 -2.62,32.09 -1.31,32.26 -1.12,32.65 -1.39,32.86 -1.73,33.92 -1.79,34.53 -2.17,35.17 -1.21,35.71 -0.13,35.89 0.5,36.3 1.47,36.61 3.16,36.78 4.82,36.87 5.32,36.72 6.26,37.11 7.33,37.12 7.74,36.89 8.42,36.95 8.22,36.43 8.38,35.48 8.14,34.66 7.52,34.1 7.61,33.34 8.43,32.75 8.44,32.51 9.06,32.1 9.48,30.31 9.81,29.42 9.86,28.96 9.68,28.14 9.76,27.69 9.63,27.14 9.72,26.51 9.32,26.09 9.91,25.37 9.95,24.94 10.3,24.38 10.77,24.56 11.56,24.1 11.99,23.47",
"Ecuador":"-80.3,-3.4 -79.77,-2.66 -79.99,-2.22 -80.37,-2.69 -80.97,-2.25 -80.76,-1.97 -80.93,-1.06 -80.58,-0.91 -80.4,-0.28 -80.02,0.36 -80.09,0.77 -79.54,0.98 -78.86,1.38 -77.86,0.81 -77.67,0.83 -77.42,0.4 -76.58,0.26 -76.29,0.42 -75.8,0.08 -75.37,-0.15 -75.23,-0.91 -75.54,-1.56 -76.64,-2.61 -77.84,-3.0 -78.45,-3.87 -78.64,-4.55 -79.21,-4.96 -79.62,-4.45 -80.03,-4.35 -80.44,-4.43 -80.47,-4.06 -80.18,-3.82 -80.3,-3.4",
"Egypt":"34.93,29.5 34.64,29.1 34.43,28.34 34.15,27.82 33.92,27.65 33.59,27.97 33.14,28.42 32.42,29.85 32.32,29.76 32.73,28.71 33.35,27.7 34.1,26.14 34.47,25.6 34.8,25.03 35.69,23.93 35.49,23.75 35.53,23.1 36.69,22.2 36.87,22.0 25,22 25,29.24 24.7,30.04 24.96,30.66 24.8,31.09 25.16,31.57 26.5,31.59 27.46,31.32 28.45,31.03 28.91,30.87 29.68,31.19 30.09,31.47 30.98,31.56 31.69,31.43 31.96,30.93 32.19,31.26 32.99,31.02 33.77,30.97 34.27,31.22 34.93,29.5",
"Eritrea":"42.35,12.54 42,12.1 41.66,11.63 41.74,11.36 41.23,11.66 40.88,12.1 40.03,12.29 39.34,12.4 39,12.9 38.51,14.5 37.91,14.96 37.59,14.21 36.43,14.42 36.32,14.82 36.75,16.29 36.85,16.96 37.17,17.26 37.9,17.43 38.41,18.0 38.99,16.84 39.27,15.92 39.81,15.44 41.18,14.49 42.59,13.0 43.08,12.7 42.78,12.46 42.35,12.54",
"Spain":"-9.03,41.88 -8.98,42.59 -9.39,43.03 -7.98,43.75 -6.75,43.57 -5.41,43.57 -4.35,43.4 -3.52,43.46 -1.9,43.42 -1.5,43.03 0.34,42.58 0.7,42.8 1.83,42.34 2.99,42.47 3.04,41.89 2.09,41.23 0.81,41.01 0.72,40.68 0.11,40.12 -0.28,39.31 0.11,38.74 -0.47,38.29 -0.68,37.64 -1.44,37.44 -2.15,36.67 -3.42,36.66 -4.37,36.68 -5.0,36.32 -5.38,35.95 -5.87,36.03 -6.24,36.37 -6.52,36.94 -7.45,37.1 -7.54,37.43 -7.17,37.8 -7.03,38.08 -7.37,38.37 -7.1,39.03 -7.5,39.63 -7.07,39.71 -7.03,40.18 -6.86,40.33 -6.85,41.11 -6.39,41.38 -6.67,41.88 -7.25,41.92 -7.42,41.79 -8.01,41.79 -8.26,42.28 -8.67,42.13 -9.03,41.88",
"Estonia":"24.31,57.79 24.43,58.38 24.06,58.26 23.43,58.61 23.34,59.19 24.6,59.47 25.86,59.61 26.95,59.45 27.98,59.48 28.13,59.3 27.42,58.72 27.72,57.79 27.29,57.47 26.46,57.48 25.6,57.85 25.16,58.0 24.31,57.79",
"Ethiopia":"47.79,8.0 44.96,5.0 43.66,4.96 42.77,4.25 42.13,4.23 41.86,3.92 41.17,3.92 40.77,4.26 39.85,3.84 39.56,3.42 38.89,3.5 38.67,3.62 38.44,3.59 38.12,3.6 36.86,4.45 36.16,4.45 35.82,5.34 35.3,5.51 34.71,6.59 34.25,6.83 34.08,7.23 33.57,7.71 32.95,7.78 33.29,8.35 33.83,8.38 33.97,8.68 33.96,9.58 34.26,10.63 34.73,10.91 34.83,11.32 35.26,12.08 35.86,12.58 36.27,13.56 36.43,14.42 37.59,14.21 37.91,14.96 38.51,14.5 39,12.9 39.34,12.4 40.03,12.29 40.88,12.1 41.23,11.66 41.74,11.36 41.76,11.05 42.31,11.03 42.55,11.11 42.78,10.93 42.56,10.57 43.3,9.54 43.68,9.18 46.95,7.99 47.79,8.0",
"Finland":"28.59,69.06 28.45,68.36 29.98,67.7 29.05,66.94 30.22,65.81 29.54,64.95 30.44,64.2 30.04,63.55 31.52,62.87 31.14,62.36 30.21,61.78 28.07,60.5 26.26,60.42 24.5,60.06 22.87,59.85 22.29,60.39 21.32,60.72 21.54,61.71 21.06,62.61 21.54,63.19 22.44,63.82 24.73,64.9 25.4,65.11 25.29,65.53 23.9,66.01 23.57,66.4 23.54,67.94 21.98,68.62 20.65,69.11 21.24,69.37 22.36,68.84 23.66,68.89 24.74,68.65 25.69,69.09 26.18,69.83 27.73,70.16 29.02,69.77 28.59,69.06",
"Fiji":"178.37,-17.34 178.72,-17.63 178.55,-18.15 177.93,-18.29 177.38,-18.16 177.29,-17.72 177.67,-17.38 178.13,-17.5 178.37,-17.34;179.36,-16.8 178.73,-17.01 178.6,-16.64 179.1,-16.43 179.41,-16.38 180,-16.07 179.36,-16.8",
"Falkland Islands":"-61.2,-51.85 -60,-51.25 -59.15,-51.5 -58.55,-51.1 -57.75,-51.55 -58.05,-51.9 -59.4,-52.2 -59.85,-51.85 -60.7,-52.3 -61.2,-51.85",
"France":"-52.56,2.5 -52.94,2.12 -53.42,2.05 -53.55,2.33 -53.78,2.38 -54.09,2.11 -54.52,2.31 -54.27,2.74 -54.18,3.19 -54.01,3.62 -54.4,4.21 -54.48,4.9 -53.96,5.76 -53.62,5.65 -52.88,5.41 -51.82,4.57 -51.66,4.16 -52.25,3.24 -52.56,2.5;9.56,42.15 9.23,41.38 8.78,41.58 8.54,42.26 8.75,42.63 9.39,43.01 9.56,42.15;3.59,50.38 4.29,49.91 4.8,50.0 5.67,49.53 5.9,49.44 6.19,49.46 6.66,49.2 8.1,49.02 7.59,48.33 7.47,47.62 7.19,47.45 6.74,47.54 6.77,47.29 6.04,46.73 6.02,46.27 6.5,46.43 6.84,46.0 6.8,45.71 7.1,45.33 6.75,45.03 7.1,44.67 7.55,44.13 7.44,43.69 6.53,43.13 4.56,43.4 3.1,43.08 2.99,42.47 1.83,42.34 0.7,42.8 0.34,42.58 -1.5,43.03 -1.9,43.42 -1.38,44.02 -1.19,46.01 -2.23,47.06 -2.96,47.57 -4.49,47.95 -4.59,48.68 -3.3,48.9 -1.62,48.64 -1.93,49.78 -1,49.35 1.34,50.13 1.64,50.95 2.51,51.15 2.66,50.8 3.12,50.78 3.59,50.38",
"Gabon":"11.09,-3.98 10.07,-2.97 9.41,-2.14 8.8,-1.11 8.83,-0.78 9.05,-0.46 9.29,0.27 9.49,1.01 9.83,1.07 11.29,1.06 11.29,2.26 11.75,2.33 12.36,2.19 12.95,2.32 13.08,2.27 13,1.83 13.28,1.31 14.03,1.4 14.28,1.2 13.84,0.04 14.32,-0.55 14.43,-1.33 14.3,-1.99 13.99,-2.47 13.11,-2.43 12.58,-1.95 12.5,-2.39 11.82,-2.51 11.48,-2.77 11.86,-3.43 11.09,-3.98",
"United Kingdom":"-5.66,54.55 -6.2,53.87 -6.95,54.07 -7.57,54.06 -7.37,54.6 -7.57,55.13 -6.73,55.17 -5.66,54.55;-3.01,58.64 -4.07,57.55 -3.06,57.69 -1.96,57.68 -2.22,56.87 -3.12,55.97 -2.09,55.91 -1.11,54.62 -0.43,54.46 0.18,53.33 0.47,52.93 1.68,52.74 1.56,52.1 1.05,51.81 1.45,51.29 0.55,50.77 -0.79,50.77 -2.49,50.5 -2.96,50.7 -3.62,50.23 -4.54,50.34 -5.25,49.96 -5.78,50.16 -4.31,51.21 -3.41,51.43 -4.98,51.59 -5.27,51.99 -4.22,52.3 -4.77,52.84 -4.58,53.5 -3.09,53.4 -2.95,53.98 -3.63,54.62 -4.84,54.79 -5.08,55.06 -4.72,55.51 -5.05,55.78 -5.59,55.31 -5.65,56.28 -6.15,56.79 -5.79,57.82 -5.01,58.63 -4.21,58.55 -3.01,58.64",
"Georgia":"41.55,41.54 41.7,41.96 41.45,42.65 40.88,43.01 40.32,43.13 39.96,43.43 40.08,43.55 40.92,43.38 42.39,43.22 43.76,42.74 43.93,42.55 44.54,42.71 45.47,42.5 45.78,42.09 46.4,41.86 46.15,41.72 46.64,41.18 46.5,41.06 45.96,41.12 45.18,41.41 44.97,41.25 43.58,41.09 42.62,41.58 41.55,41.54",
"Ghana":"1.06,5.93 -0.51,5.34 -1.06,5.0 -1.96,4.71 -2.86,4.99 -2.81,5.39 -3.24,6.25 -3.31,6.78 -3.01,7.38 -2.56,8.22 -2.83,9.64 -2.96,10.4 -2.94,10.96 -1.2,11.01 -0.76,10.94 -0.44,11.1 0.02,11.02 -0.05,10.71 0.37,10.19 0.37,9.47 0.46,8.68 0.71,8.31 0.49,7.41 0.57,6.91 0.84,6.28 1.06,5.93",
"Guinea":"-8.44,7.69 -8.72,7.71 -8.93,7.31 -9.21,7.31 -9.4,7.53 -9.34,7.93 -9.76,8.54 -10.02,8.43 -10.51,8.35 -10.49,8.72 -10.65,8.98 -10.62,9.27 -10.84,9.69 -11.12,10.05 -11.92,10.05 -12.15,9.86 -12.43,9.84 -12.6,9.62 -12.71,9.34 -13.25,8.9 -13.69,9.49 -14.07,9.89 -14.33,10.02 -14.58,10.21 -14.69,10.66 -14.84,10.88 -15.13,11.04 -14.69,11.51 -14.38,11.51 -14.12,11.68 -13.9,11.68 -13.74,11.81 -13.83,12.14 -13.72,12.25 -13.7,12.59 -13.22,12.58 -12.5,12.33 -12.28,12.35 -12.2,12.47 -11.66,12.39 -11.51,12.44 -11.46,12.08 -11.3,12.08 -11.04,12.21 -10.87,12.18 -10.59,11.92 -10.17,11.84 -9.89,12.06 -9.57,12.19 -9.33,12.33 -9.13,12.31 -8.91,12.09 -8.79,11.81 -8.38,11.39 -8.58,11.14 -8.62,10.81 -8.41,10.91 -8.28,10.79 -8.34,10.49 -8.03,10.21 -8.23,10.13 -8.31,9.79 -8.08,9.38 -7.83,8.58 -8.2,8.46 -8.3,8.32 -8.22,8.12 -8.28,7.69 -8.44,7.69",
"Gambia":"-16.84,13.15 -16.71,13.59 -15.62,13.62 -15.4,13.86 -15.08,13.88 -14.69,13.63 -14.38,13.63 -14.05,13.79 -13.84,13.51 -14.28,13.28 -14.71,13.3 -15.14,13.51 -15.51,13.28 -15.69,13.27 -15.93,13.13 -16.84,13.15",
"Guinea-Bissau":"-15.13,11.04 -15.66,11.46 -16.09,11.52 -16.31,11.81 -16.31,11.96 -16.61,12.17 -16.68,12.38 -16.15,12.55 -15.82,12.52 -15.55,12.63 -13.7,12.59 -13.72,12.25 -13.83,12.14 -13.74,11.81 -13.9,11.68 -14.12,11.68 -14.38,11.51 -14.69,11.51 -15.13,11.04",
"Equatorial Guinea":"9.49,1.01 9.31,1.16 9.65,2.28 11.28,2.26 11.29,1.06 9.83,1.07 9.49,1.01",
"Greece":"20.15,39.62 20.67,40.43 21.02,40.84 21.67,40.93 22.06,41.15 22.6,41.13 22.76,41.3 22.95,41.34 23.69,41.31 24.49,41.58 25.2,41.23 26.11,41.33 26.6,41.56 26.29,40.94 26.06,40.82 25.45,40.85 24.93,40.95 23.71,40.69 24.41,40.12 23.9,39.96 23.34,39.96 22.81,40.48 22.63,40.26 22.85,39.66 23.35,39.19 22.97,38.97 23.53,38.51 24.03,38.22 24.04,37.66 23.12,37.92 23.41,37.41 22.77,37.31 23.15,36.42 22.49,36.41 21.67,36.84 21.3,37.64 21.12,38.31 20.73,38.77 20.22,39.34 20.15,39.62;23.7,35.71 24.25,35.37 25.02,35.42 25.77,35.35 25.75,35.18 26.29,35.3 26.16,35.0 24.72,34.92 24.74,35.08 23.51,35.28 23.7,35.71",
"Greenland":"-46.76,82.63 -43.41,83.23 -39.9,83.18 -38.62,83.55 -35.09,83.65 -27.1,83.52 -20.85,82.73 -22.69,82.34 -26.52,82.3 -31.9,82.2 -31.4,82.02 -27.86,82.13 -24.84,81.79 -22.9,82.09 -22.07,81.73 -23.17,81.15 -20.62,81.52 -15.77,81.91 -12.77,81.72 -12.21,81.29 -16.29,80.58 -16.85,80.35 -20.05,80.18 -17.73,80.13 -18.9,79.4 -19.7,78.75 -19.67,77.64 -18.47,76.99 -21.68,76.63 -19.83,76.1 -19.6,75.25 -20.67,75.16 -19.37,74.3 -21.59,74.22 -20.43,73.82 -20.76,73.46 -22.17,73.31 -23.57,73.31 -22.31,72.63 -22.3,72.18 -24.28,72.6 -24.79,72.33 -23.44,72.08 -22.13,71.47 -21.75,70.66 -23.54,70.47 -24.31,70.86 -25.54,71.43 -25.2,70.75 -26.36,70.23 -23.73,70.18 -22.35,70.13 -25.03,69.26 -27.75,68.47 -30.67,68.12 -31.78,68.12 -32.81,67.74 -34.2,66.68 -36.35,65.98 -37.04,65.94 -38.38,65.69 -39.81,65.46 -40.67,64.84 -40.68,64.14 -41.19,63.48 -42.82,62.68 -42.42,61.9 -42.87,61.07 -43.38,60.1 -44.79,60.04 -46.26,60.85 -48.26,60.86 -49.23,61.41 -49.9,62.38 -51.63,63.63 -52.14,64.28 -52.28,65.18 -53.66,66.1 -53.3,66.84 -53.97,67.19 -52.98,68.36 -51.48,68.73 -51.08,69.15 -50.87,69.93 -52.01,69.57 -52.56,69.43 -53.46,69.28 -54.68,69.61 -54.75,70.29 -54.36,70.82 -53.43,70.84 -51.39,70.57 -53.11,71.2 -54.0,71.55 -55.0,71.41 -55.83,71.65 -54.72,72.59 -55.33,72.96 -56.12,73.65 -57.32,74.71 -58.6,75.52 -61.27,76.1 -63.39,76.18 -66.06,76.13 -68.5,76.06 -69.66,76.38 -71.4,77.01 -68.78,77.32 -66.76,77.38 -71.04,77.64 -73.3,78.04 -73.16,78.43 -69.37,78.91 -65.71,79.39 -65.32,79.76 -68.02,80.12 -67.15,80.52 -63.69,81.21 -62.23,81.32 -62.65,81.77 -60.28,82.03 -57.21,82.19 -54.13,82.2 -53.04,81.89 -50.39,82.44 -48.0,82.06 -46.6,81.99 -44.52,81.66 -46.9,82.2 -46.76,82.63",
"Guatemala":"-90.1,13.74 -90.61,13.91 -91.23,13.93 -91.69,14.13 -92.23,14.54 -91.75,16.07 -90.46,16.07 -90.44,16.41 -90.6,16.47 -91.45,17.25 -90.71,17.25 -89.15,17.02 -89.23,15.89 -88.93,15.89 -88.6,15.71 -88.52,15.86 -88.23,15.73 -88.68,15.35 -89.15,15.07 -89.23,14.87 -89.15,14.68 -89.35,14.42 -89.59,14.36 -89.53,14.24 -89.72,14.13 -90.06,13.88 -90.1,13.74",
"Guyana":"-59.76,8.37 -60.55,7.78 -60.64,7.41 -60.3,7.04 -60.54,6.86 -61.16,6.7 -61.14,6.23 -61.41,5.96 -60.73,5.2 -60.6,4.92 -59.98,5.01 -59.77,4.42 -59.54,3.96 -59.82,3.61 -59.97,2.76 -59.72,2.25 -59.65,1.79 -59.03,1.32 -58.54,1.27 -58.43,1.46 -58.11,1.51 -57.66,1.68 -57.34,1.95 -56.78,1.86 -56.54,1.9 -56.78,2.38 -57.15,3.0 -57.28,3.33 -57.6,3.33 -58.04,4.06 -57.86,4.58 -57.91,4.81 -57.31,5.07 -57.15,5.97 -58.08,6.81 -58.48,6.85 -58.45,7.35 -58.95,7.8 -59.76,8.37",
"Honduras":"-87.32,12.98 -87.49,13.3 -87.79,13.38 -87.72,13.79 -87.86,13.89 -88.07,13.96 -88.5,13.85 -88.54,13.98 -88.84,14.14 -89.06,14.34 -89.35,14.42 -89.15,14.68 -89.23,14.87 -89.15,15.07 -88.68,15.35 -88.23,15.73 -88.12,15.69 -87.9,15.86 -87.62,15.88 -87.52,15.8 -87.37,15.85 -86.9,15.76 -86.44,15.78 -86.12,15.89 -86,16 -85.68,15.95 -85.44,15.89 -85.18,15.91 -84.98,16 -84.37,15.84 -84.06,15.65 -83.77,15.42 -83.41,15.27 -83.15,14.99 -83.49,15.02 -83.63,14.88 -83.98,14.75 -84.23,14.75 -84.45,14.62 -84.65,14.67 -84.82,14.82 -84.92,14.79 -85.05,14.55 -85.15,14.56 -85.17,14.35 -85.51,14.08 -85.7,13.96 -85.8,13.84 -86.1,14.04 -86.31,13.77 -86.52,13.78 -86.76,13.75 -86.73,13.26 -86.88,13.25 -87,13.03 -87.32,12.98",
"Croatia":"18.83,45.91 19.07,45.52 19.39,45.24 19.01,44.86 18.55,45.08 17.86,45.07 17,45.23 16.53,45.21 16.32,45 15.96,45.23 15.75,44.82 16.24,44.35 16.46,44.04 16.92,43.67 17.3,43.45 17.67,43.03 18.56,42.65 18.45,42.48 17.51,42.85 16.93,43.21 16.02,43.51 15.17,44.24 15.38,44.32 14.92,44.74 14.9,45.08 14.26,45.23 13.95,44.8 13.66,45.14 13.68,45.48 13.72,45.5 14.41,45.47 14.6,45.63 14.94,45.47 15.33,45.45 15.32,45.73 15.67,45.83 15.77,46.24 16.56,46.5 16.88,46.38 17.63,45.95 18.46,45.76 18.83,45.91",
"Haiti":"-73.19,19.92 -72.58,19.87 -71.71,19.71 -71.62,19.17 -71.7,18.79 -71.95,18.62 -71.69,18.32 -71.71,18.04 -72.37,18.21 -72.84,18.15 -73.45,18.22 -73.92,18.03 -74.46,18.34 -74.37,18.66 -73.45,18.53 -72.69,18.45 -72.33,18.67 -72.79,19.1 -72.78,19.48 -73.41,19.64 -73.19,19.92",
"Hungary":"16.2,46.85 16.53,47.5 16.34,47.71 16.9,47.71 16.98,48.12 17.49,47.87 17.86,47.76 18.7,47.88 18.78,48.08 19.17,48.11 19.66,48.27 19.77,48.2 20.24,48.33 20.47,48.56 20.8,48.62 21.87,48.32 22.09,48.42 22.64,48.15 22.71,47.88 22.1,47.67 21.63,46.99 21.02,46.32 20.22,46.13 19.6,46.17 18.83,45.91 18.46,45.76 17.63,45.95 16.88,46.38 16.56,46.5 16.37,46.84 16.2,46.85",
"Indonesia":"120.72,-10.24 120.3,-10.26 119.56,-9.98 118.97,-9.56 119.9,-9.36 120.43,-9.67 120.78,-9.97 120.72,-10.24;117.9,4.14 117.31,3.23 118.05,2.29 117.88,1.83 118.99,0.9 117.81,0.78 117.48,0.1 117.52,-0.8 116.56,-1.49 116.53,-2.48 116.15,-4.01 116,-3.66 114.86,-4.11 114.47,-3.5 113.76,-3.44 113.26,-3.12 112.07,-3.48 111.7,-3 111.05,-3.05 110.22,-2.93 110.07,-1.59 109.57,-1.31 109.09,-0.46 109.02,0 108.95,0.42 109.07,1.34 109.66,2.01 109.83,1.34 110.51,0.77 111.16,0.98 111.79,0.9 112.38,1.41 112.86,1.5 113.81,1.22 114.62,1.43 115.13,2.82 115.52,3.17 115.87,4.31 117.02,4.31 117.9,4.14;129.37,-2.8 130.47,-3.09 130.83,-3.86 129.99,-3.45 129.16,-3.36 128.59,-3.43 127.9,-3.39 128.14,-2.84 129.37,-2.8;127,-3.13 127.25,-3.46 126.87,-3.79 126.18,-3.61 125.99,-3.18 127,-3.13;105.82,-5.85 104.71,-5.87 103.87,-5.04 102.58,-4.22 102.16,-3.61 101.4,-2.8 100.9,-2.05 100.14,-0.65 99.26,0.18 98.97,1.04 98.6,1.82 97.7,2.45 97.18,3.31 96.42,3.87 95.38,4.97 95.29,5.48 95.94,5.44 97.48,5.25 98.37,4.27 99.14,3.59 99.69,3.17 100.64,2.1 101.66,2.08 102.5,1.4 103.08,0.56 103.84,0.1 103.44,-0.71 104.01,-1.06 104.37,-1.08 104.54,-1.78 104.89,-2.34 105.62,-2.43 106.11,-3.06 105.86,-4.31 105.82,-5.85;108.49,-6.42 108.62,-6.78 110.54,-6.88 110.76,-6.47 112.61,-6.95 112.98,-7.59 114.48,-7.78 115.71,-8.37 114.56,-8.75 113.46,-8.35 112.56,-8.38 111.52,-8.3 110.59,-8.12 109.43,-7.74 108.69,-7.64 108.28,-7.77 106.45,-7.35 106.28,-6.92 105.37,-6.85 106.05,-5.9 107.27,-5.95 108.07,-6.35 108.49,-6.42;134.72,-6.21 134.21,-6.9 134.11,-6.14 134.29,-5.78 134.5,-5.45 134.73,-5.74 134.72,-6.21;134.14,-0.78 134.42,-2.77 135.46,-3.37 136.29,-2.31 137.44,-1.7 138.33,-1.7 139.18,-2.05 139.93,-2.41 141,-2.6 141.03,-9.12 140.14,-8.3 139.13,-8.1 138.88,-8.38 137.61,-8.41 138.04,-7.6 138.67,-7.32 138.41,-6.23 137.93,-5.39 136.79,-4.89 135.16,-4.46 133.66,-3.54 133.37,-4.02 132.98,-4.11 132.76,-3.75 132.75,-3.31 131.99,-2.82 133.7,-2.21 132.23,-2.21 131.84,-1.62 130.94,-1.43 130.52,-0.94 131.87,-0.7 132.38,-0.37 134.14,-0.78;125.24,1.42 124.44,0.43 123.69,0.24 122.72,0.43 121.06,0.38 120.18,0.24 120.04,-0.52 120.94,-1.41 121.48,-0.96 123.34,-0.62 123.26,-1.08 122.45,-0.76 121.51,-1.9 122.45,-3.19 122.27,-3.53 123.17,-4.68 123.16,-5.34 122.63,-5.63 122.24,-5.28 122.72,-4.46 121.74,-4.85 121.49,-4.57 121.62,-4.19 120.9,-3.6 120.97,-2.63 120.31,-2.93 120.39,-4.1 120.43,-5.53 119.8,-5.67 119.37,-5.38 119.65,-4.46 119.5,-3.49 119.08,-3.49 118.77,-2.8 119.18,-2.15 119.32,-1.35 119.83,0.15 120.04,0.57 120.89,1.31 121.67,1.01 122.93,0.88 124.08,0.92 125.07,1.64 125.24,1.42;122.9,-8.09 122.76,-8.65 121.25,-8.93 119.92,-8.81 119.92,-8.44 120.72,-8.24 121.34,-8.54 122.9,-8.09;118.26,-8.36 118.88,-8.28 119.13,-8.71 117.97,-8.91 117.28,-9.04 116.74,-9.03 117.08,-8.46 117.63,-8.45 118.26,-8.36;116.1,-8.41 116.56,-8.42 116.53,-8.75 115.86,-8.87 116.1,-8.41;124.97,-8.89 125.07,-9.09 125.09,-9.39 124.44,-10.14 123.58,-10.36 123.46,-10.24 123.55,-9.9 123.98,-9.29 124.97,-8.89;127.93,2.17 128.0,1.63 128.59,1.54 128.69,1.13 128.64,0.26 128.12,0.36 127.97,-0.25 128.38,-0.78 128.1,-0.9 127.7,-0.26 127.4,1.01 127.6,1.81 127.93,2.17",
"India":"77.84,35.49 78.91,34.32 78.81,33.51 79.21,32.99 79.18,32.48 78.46,32.62 78.74,31.52 79.72,30.88 81.11,30.18 80.48,29.73 80.09,28.79 81.06,28.42 81.99,27.93 83.3,27.36 84.68,27.23 85.25,26.73 86.02,26.63 87.23,26.4 88.06,26.41 88.17,26.81 88.04,27.45 88.12,27.88 88.73,28.09 88.81,27.3 88.84,27.1 89.74,26.72 90.37,26.88 91.22,26.81 92.03,26.84 92.1,27.45 91.7,27.77 92.5,27.9 93.41,28.64 94.57,29.28 95.4,29.03 96.12,29.45 96.59,28.83 96.25,28.41 97.33,28.26 97.4,27.88 97.05,27.7 97.13,27.08 96.42,27.26 95.12,26.57 95.16,26.0 94.6,25.16 94.55,24.68 94.11,23.85 93.33,24.08 93.29,23.04 93.06,22.7 93.17,22.28 92.67,22.04 92.15,23.63 91.87,23.62 91.71,22.99 91.16,23.5 91.47,24.07 91.92,24.13 92.38,24.98 91.8,25.15 90.87,25.13 89.92,25.27 89.83,25.97 89.36,26.01 88.56,26.45 88.21,25.77 88.93,25.24 88.31,24.87 88.08,24.5 88.7,24.23 88.53,23.63 88.88,22.88 89.03,22.06 88.89,21.69 88.21,21.7 86.98,21.5 87.03,20.74 86.5,20.15 85.06,19.48 83.94,18.3 83.19,17.67 82.19,16.56 82.19,16.6 81.69,16.31 80.79,15.95 80.32,15.9 80.03,15.14 80.23,13.84 80.29,13.01 79.86,12.06 79.86,10.36 79.34,10.31 78.89,9.55 79.19,9.22 78.28,8.93 77.94,8.25 77.54,7.97 76.59,8.9 76.13,10.3 75.75,11.31 75.4,11.78 74.86,12.74 74.62,13.99 74.44,14.62 73.53,15.99 73.12,17.93 72.82,19.21 72.82,20.42 72.63,21.36 71.18,20.76 70.47,20.88 69.16,22.09 69.64,22.45 69.35,22.84 68.18,23.69 68.84,24.36 71.04,24.36 70.84,25.22 70.28,25.72 70.17,26.49 69.51,26.94 70.62,27.99 71.78,27.91 72.82,28.96 73.45,29.98 74.42,30.98 74.41,31.69 75.26,32.27 74.45,32.76 74.1,33.44 73.75,34.32 74.24,34.75 75.76,34.5 76.87,34.65 77.84,35.49",
"Ireland":"-6.2,53.87 -6.03,53.15 -6.79,52.26 -8.56,51.67 -9.98,51.82 -9.17,52.86 -9.69,53.88 -8.33,54.66 -7.57,55.13 -7.37,54.6 -7.57,54.06 -6.95,54.07 -6.2,53.87",
"Iran":"53.92,37.2 54.8,37.39 55.51,37.96 56.18,37.94 56.62,38.12 57.33,38.03 58.44,37.52 59.23,37.41 60.38,36.53 61.12,36.49 61.21,35.65 60.8,34.4 60.53,33.68 60.96,33.53 60.54,33 60.86,32.18 60.94,31.55 61.7,31.38 61.78,30.74 60.87,29.83 61.37,29.3 61.77,28.7 62.73,28.26 62.76,27.38 63.23,27.22 63.32,26.76 61.87,26.24 61.5,25.08 59.62,25.38 58.53,25.61 57.4,25.74 56.97,26.97 56.49,27.14 55.72,26.96 54.72,26.48 53.49,26.81 52.48,27.58 51.52,27.87 50.85,28.81 50.12,30.15 49.58,29.99 48.94,30.32 48.57,29.93 48.01,30.45 48,30.99 47.69,31 47.85,31.71 47.33,32.47 46.11,33.02 45.42,33.97 45.65,34.75 46.15,35.09 46.08,35.68 45.42,35.98 44.77,37.17 44.23,37.97 44.42,38.28 44.11,39.43 44.79,39.71 44.95,39.34 45.46,38.87 46.14,38.74 46.51,38.77 47.69,39.51 48.06,39.58 48.36,39.29 48.01,38.79 48.63,38.27 48.88,38.32 49.2,37.58 50.15,37.37 50.84,36.87 52.26,36.7 53.83,36.97 53.92,37.2",
"Iraq":"45.42,35.98 46.08,35.68 46.15,35.09 45.65,34.75 45.42,33.97 46.11,33.02 47.33,32.47 47.85,31.71 47.69,31 48,30.99 48.01,30.45 48.57,29.93 47.97,29.98 47.3,30.06 46.57,29.1 44.71,29.18 41.89,31.19 40.4,31.89 39.2,32.16 38.79,33.38 41.01,34.42 41.38,35.63 41.29,36.36 41.84,36.61 42.35,37.23 42.78,37.39 43.94,37.26 44.29,37.0 44.77,37.17 45.42,35.98",
"Iceland":"-14.51,66.46 -14.74,65.81 -13.61,65.13 -14.91,64.36 -17.79,63.68 -18.66,63.5 -19.97,63.64 -22.76,63.96 -21.78,64.4 -23.96,64.89 -22.18,65.08 -22.23,65.38 -24.33,65.61 -23.65,66.26 -22.13,66.41 -20.58,65.73 -19.06,66.28 -17.8,66.0 -16.17,66.53 -14.51,66.46",
"Israel":"35.72,32.71 35.55,32.39 35.18,32.53 34.97,31.87 35.23,31.75 34.97,31.62 34.93,31.35 35.4,31.49 35.42,31.1 34.92,29.5 34.27,31.22 34.56,31.55 34.49,31.61 34.75,32.07 34.96,32.83 35.1,33.08 35.13,33.09 35.46,33.09 35.55,33.26 35.82,33.28 35.84,32.87 35.72,32.71",
"Palestine":"35.55,32.39 35.55,31.78 35.4,31.49 34.93,31.35 34.97,31.62 35.23,31.75 34.97,31.87 35.18,32.53 35.55,32.39",
"Italy":"15.52,38.23 15.16,37.44 15.31,37.13 15.1,36.62 14.34,37.0 13.83,37.1 12.43,37.61 12.57,38.13 13.74,38.03 14.76,38.14 15.52,38.23;9.21,41.21 9.81,40.5 9.67,39.18 9.21,39.24 8.81,38.91 8.43,39.17 8.39,40.38 8.16,40.95 8.71,40.9 9.21,41.21;12.38,46.77 13.81,46.51 13.7,46.02 13.94,45.59 13.14,45.74 12.33,45.38 12.38,44.89 12.26,44.6 12.59,44.09 13.53,43.59 14.03,42.76 15.14,41.96 15.93,41.96 16.17,41.74 15.89,41.54 16.79,41.18 17.52,40.88 18.38,40.36 18.48,40.17 18.29,39.81 17.74,40.28 16.87,40.44 16.45,39.8 17.17,39.42 17.05,38.9 16.64,38.84 16.1,37.99 15.68,37.91 15.69,38.21 15.89,38.75 16.11,39.02 15.72,39.54 15.41,40.05 14.99,40.17 14.7,40.6 14.06,40.79 13.63,41.19 12.89,41.25 12.11,41.7 11.19,42.36 10.51,42.93 10.2,43.92 9.7,44.04 8.89,44.37 8.43,44.23 7.85,43.77 7.44,43.69 7.55,44.13 7.1,44.67 6.75,45.03 7.1,45.33 6.8,45.71 6.84,46 7.27,45.78 7.76,45.82 8.32,46.16 8.49,46.01 8.97,46.04 9.18,46.44 9.92,46.31 10.36,46.48 10.44,46.89 11.05,46.75 11.16,46.94 12.15,47.12 12.38,46.77",
"Jamaica":"-77.57,18.49 -76.9,18.4 -76.37,18.16 -76.2,17.89 -76.9,17.87 -77.21,17.7 -77.77,17.86 -78.34,18.23 -78.22,18.45 -77.8,18.52 -77.57,18.49",
"Jordan":"35.55,32.39 35.72,32.71 36.83,32.31 38.79,33.38 39.2,32.16 39.0,32.01 37,31.51 37.99,30.51 37.67,30.34 37.5,30 36.74,29.87 36.5,29.51 36.07,29.2 34.96,29.36 34.92,29.5 35.42,31.1 35.4,31.49 35.55,31.78 35.55,32.39",
"Japan":"134.64,34.15 134.77,33.81 134.2,33.2 133.79,33.52 133.28,33.29 133.01,32.7 132.36,32.99 132.37,33.46 132.92,34.06 133.49,33.94 133.9,34.36 134.64,34.15;140.98,37.14 140.6,36.34 140.77,35.84 140.25,35.14 138.98,34.67 137.22,34.61 135.79,33.46 135.12,33.85 135.08,34.6 133.34,34.38 132.16,33.9 130.99,33.89 132,33.15 131.33,31.45 130.69,31.03 130.2,31.42 130.45,32.32 129.81,32.61 129.41,33.3 130.35,33.6 130.88,34.23 131.88,34.75 132.62,35.43 134.61,35.73 135.68,35.53 136.72,37.3 137.39,36.83 138.86,37.83 139.43,38.22 140.05,39.44 139.88,40.56 140.31,41.2 141.37,41.38 141.91,39.99 141.88,39.18 140.96,38.17 140.98,37.14;143.91,44.17 144.61,43.96 145.32,44.38 145.54,43.26 144.06,42.99 143.18,41.99 141.61,42.68 141.07,41.58 139.96,41.57 139.82,42.56 140.31,43.33 141.38,43.39 141.67,44.77 141.97,45.55 143.14,44.51 143.91,44.17",
"Kazakhstan":"70.96,42.27 70.39,42.08 69.07,41.38 68.63,40.67 68.26,40.66 67.99,41.14 66.71,41.17 66.51,41.99 66.02,42 66.1,43 64.9,43.73 63.19,43.65 62.01,43.5 61.06,44.41 60.24,44.78 58.69,45.5 58.5,45.59 55.93,45 55.97,41.31 55.46,41.26 54.76,42.04 54.08,42.32 52.94,42.12 52.5,41.78 52.45,42.03 52.69,42.44 52.5,42.79 51.34,43.13 50.89,44.03 50.34,44.28 50.31,44.61 51.28,44.51 51.32,45.25 52.17,45.41 53.04,45.26 53.22,46.23 53.04,46.85 52.04,46.8 51.19,47.05 50.03,46.61 49.1,46.4 48.59,46.56 48.69,47.08 48.06,47.74 47.32,47.72 46.47,48.39 47.04,49.15 46.75,49.36 47.55,50.45 48.58,49.87 48.7,50.61 50.77,51.69 52.33,51.72 54.53,51.03 55.72,50.62 56.78,51.04 58.36,51.06 59.64,50.55 59.93,50.84 61.34,50.8 61.59,51.27 59.97,51.96 60.93,52.45 60.74,52.72 61.7,52.98 60.98,53.66 61.44,54.01 65.18,54.35 65.67,54.6 68.17,54.97 69.07,55.39 70.87,55.17 71.18,54.13 72.22,54.38 73.51,54.04 73.43,53.49 74.38,53.55 76.89,54.49 76.53,54.18 77.8,53.4 80.04,50.86 80.57,51.39 81.95,50.81 83.38,51.07 83.93,50.89 84.42,50.31 85.12,50.12 85.54,49.69 86.83,49.83 87.36,49.21 86.6,48.55 85.77,48.46 85.72,47.45 85.16,47 83.18,47.33 82.46,45.54 81.95,45.32 79.97,44.92 80.87,43.18 80.18,42.92 80.26,42.35 79.64,42.5 79.14,42.86 77.66,42.96 76,42.99 75.64,42.88 74.21,43.3 73.65,43.09 73.49,42.5 71.84,42.85 71.19,42.7 70.96,42.27",
"Kenya":"40.99,-0.86 41.59,-1.68 40.88,-2.08 40.64,-2.5 40.26,-2.57 40.12,-3.28 39.8,-3.68 39.6,-4.35 39.2,-4.68 37.77,-3.68 37.7,-3.1 34.07,-1.06 33.9,-0.95 33.89,0.11 34.18,0.52 34.67,1.18 35.04,1.91 34.6,3.05 34.48,3.56 34.01,4.25 34.62,4.85 35.3,5.51 35.82,5.34 36.16,4.45 36.86,4.45 38.12,3.6 38.44,3.59 38.67,3.62 38.89,3.5 39.56,3.42 39.85,3.84 40.77,4.26 41.17,3.92 41.86,3.92 40.98,2.78 40.99,-0.86",
"Kyrgyzstan":"70.96,42.27 71.19,42.7 71.84,42.85 73.49,42.5 73.65,43.09 74.21,43.3 75.64,42.88 76,42.99 77.66,42.96 79.14,42.86 79.64,42.5 80.26,42.35 80.12,42.12 78.54,41.58 78.19,41.19 76.9,41.07 76.53,40.43 75.47,40.56 74.78,40.37 73.82,39.89 73.96,39.66 73.68,39.43 71.78,39.28 70.55,39.6 69.46,39.53 69.56,40.1 70.65,39.94 71.01,40.24 71.77,40.15 73.06,40.87 71.87,41.39 71.16,41.14 70.42,41.52 71.26,42.17 70.96,42.27",
"Cambodia":"103.5,10.63 103.09,11.15 102.58,12.19 102.35,13.39 102.99,14.23 104.28,14.42 105.22,14.27 106.04,13.88 106.5,14.57 107.38,14.2 107.61,13.54 107.49,12.34 105.81,11.57 106.25,10.96 105.2,10.89 104.33,10.49 103.5,10.63",
"South Korea":"128.35,38.61 129.21,37.43 129.46,36.78 129.47,35.63 129.09,35.08 128.19,34.89 127.39,34.48 126.49,34.39 126.37,34.93 126.56,35.68 126.12,36.73 126.86,36.89 126.17,37.75 126.24,37.84 126.68,37.8 127.07,38.26 127.78,38.3 128.21,38.37 128.35,38.61",
"Kosovo":"20.07,42.59 20.28,42.32 20.52,42.22 20.76,42.05 21.35,42.21 21.58,42.25 21.54,42.32 21.66,42.44 21.78,42.68 21.63,42.68 21.44,42.86 21.27,42.91 21.14,43.07 20.96,43.13 20.81,43.27 20.63,43.22 20.5,42.88 20.26,42.81 20.07,42.59",
"Kuwait":"47.97,29.98 48.18,29.53 48.09,29.31 48.42,28.55 47.71,28.53 47.46,29 46.57,29.1 47.3,30.06 47.97,29.98",
"Laos":"105.22,14.27 105.54,14.72 105.59,15.57 104.78,16.44 104.72,17.43 103.96,18.24 103.2,18.31 102.41,17.93 101.06,17.51 101.04,18.41 101.28,19.46 100.6,19.51 100.55,20.11 100.12,20.42 100.33,20.79 101.18,21.44 101.27,21.2 101.8,21.17 101.65,22.32 102.17,22.46 102.75,21.68 103.2,20.77 104.44,20.76 104.82,19.89 104.18,19.62 103.9,19.27 105.09,18.67 105.93,17.49 106.56,16.6 107.31,15.91 107.56,15.2 107.38,14.2 106.5,14.57 106.04,13.88 105.22,14.27",
"Lebanon":"35.82,33.28 35.55,33.26 35.46,33.09 35.13,33.09 35.48,33.91 35.98,34.61 36,34.64 36.45,34.59 36.61,34.2 36.07,33.82 35.82,33.28",
"Liberia":"-7.71,4.36 -7.97,4.36 -9,4.83 -9.91,5.59 -10.76,6.14 -11.44,6.79 -11.2,7.11 -11.15,7.4 -10.7,7.94 -10.23,8.41 -10.02,8.43 -9.76,8.54 -9.34,7.93 -9.4,7.53 -9.21,7.31 -8.93,7.31 -8.72,7.71 -8.44,7.69 -8.49,7.4 -8.39,6.91 -8.6,6.47 -8.31,6.19 -7.99,6.13 -7.57,5.71 -7.54,5.31 -7.64,5.19 -7.71,4.36",
"Libya":"14.85,22.86 14.14,22.49 13.58,23.04 12,23.47 11.56,24.1 10.77,24.56 10.3,24.38 9.95,24.94 9.91,25.37 9.32,26.09 9.72,26.51 9.63,27.14 9.76,27.69 9.68,28.14 9.86,28.96 9.81,29.42 9.48,30.31 9.97,30.54 10.06,30.96 9.95,31.38 10.64,31.76 10.94,32.08 11.43,32.37 11.49,33.14 12.66,32.79 13.08,32.88 13.92,32.71 15.25,32.27 15.71,31.38 16.61,31.18 18.02,30.76 19.09,30.27 19.57,30.53 20.05,30.99 19.82,31.75 20.13,32.24 20.85,32.71 21.54,32.84 22.9,32.64 23.24,32.19 23.61,32.19 23.93,32.02 24.92,31.9 25.16,31.57 24.8,31.09 24.96,30.66 24.7,30.04 25,29.24 25,22 25,20 24,20 24,19.5 16,23.45 14.85,22.86",
"Sri Lanka":"81.79,7.52 81.64,6.48 81.22,6.2 80.35,5.97 79.87,6.76 79.7,8.2 80.15,9.82 80.84,9.27 81.3,8.56 81.79,7.52",
"Lithuania":"22.73,54.33 22.65,54.58 22.76,54.86 22.32,55.02 21.27,55.19 21.06,56.03 22.2,56.34 23.88,56.27 24.86,56.37 25.53,56.1 26.49,55.62 26.59,55.17 25.77,54.85 25.54,54.28 24.45,53.91 23.48,53.91 23.24,54.22 22.73,54.33",
"Luxembourg":"6.04,50.13 6.24,49.9 6.19,49.46 5.9,49.44 5.67,49.53 5.78,50.09 6.04,50.13",
"Latvia":"21.06,56.03 21.06,56.78 21.58,57.41 22.52,57.75 23.32,57.01 24.12,57.03 24.31,57.79 25.16,58 25.6,57.85 26.46,57.48 27.29,57.47 27.77,57.24 27.86,56.76 28.18,56.17 27.1,55.78 26.49,55.62 25.53,56.1 24.86,56.37 23.88,56.27 22.2,56.34 21.06,56.03",
"Western Sahara":"-8.67,27.66 -8.67,27.4 -8.69,25.88 -11.97,25.93 -11.94,23.37 -12.87,23.28 -13.12,22.77 -12.93,21.33 -16.85,21.33 -17.06,21 -17.02,21.42 -16.97,21.89 -16.59,22.16 -16.26,22.68 -16.33,23.02 -15.98,23.72 -15.43,24.36 -15.09,24.52 -14.82,25.1 -14.8,25.64 -14.44,26.25 -13.77,26.62 -13.14,27.64 -8.67,27.66",
"Morocco":"-5.19,35.76 -4.59,35.33 -3.64,35.4 -2.6,35.18 -2.17,35.17 -1.79,34.53 -1.73,33.92 -1.39,32.86 -1.12,32.65 -1.31,32.26 -2.62,32.09 -3.07,31.72 -3.65,31.64 -3.69,30.9 -4.86,30.5 -5.24,30 -6.06,29.73 -7.06,29.58 -8.67,28.84 -8.67,27.66 -13.14,27.64 -12.62,28.04 -11.69,28.15 -10.9,28.83 -10.4,29.1 -9.56,29.93 -9.81,31.18 -9.43,32.04 -8.66,33.24 -7.65,33.7 -6.91,34.11 -6.24,35.15 -5.93,35.76 -5.19,35.76",
"Moldova":"26.62,48.22 26.86,48.37 27.52,48.47 28.26,48.16 28.67,48.12 29.12,47.85 29.05,47.51 29.42,47.35 29.56,46.93 29.91,46.67 29.84,46.53 30.02,46.42 29.76,46.35 29.17,46.38 28.86,46.44 28.93,46.26 28.66,45.94 28.49,45.6 28.23,45.49 28.05,45.94 28.16,46.37 28.13,46.81 27.55,47.41 27.23,47.83 26.92,48.12 26.62,48.22",
"Madagascar":"49.54,-12.47 49.81,-12.9 50.06,-13.56 50.22,-14.76 50.48,-15.23 50.38,-15.71 50.2,-16 49.86,-15.41 49.67,-15.71 49.86,-16.45 49.77,-16.88 49.5,-17.11 49.44,-17.95 48.55,-20.5 47.93,-22.39 47.55,-23.78 47.1,-24.94 46.28,-25.18 45.41,-25.6 44.83,-25.35 44.04,-25 43.76,-24.46 43.7,-23.57 43.35,-22.78 43.25,-22.06 43.43,-21.34 43.89,-21.16 43.9,-20.83 44.37,-20.07 44.46,-19.44 44.23,-18.96 44.04,-18.33 43.96,-17.41 44.31,-16.85 44.45,-16.22 44.94,-16.18 45.5,-15.97 45.87,-15.79 46.31,-15.78 46.88,-15.21 47.71,-14.59 48,-14.09 47.87,-13.66 48.29,-13.78 48.85,-13.09 48.86,-12.49 49.19,-12.04 49.54,-12.47",
"Mexico":"-97.14,25.87 -97.53,24.99 -97.7,24.27 -97.78,22.93 -97.87,22.44 -97.7,21.9 -97.39,21.41 -97.19,20.64 -96.53,19.89 -96.29,19.32 -95.9,18.83 -94.84,18.56 -94.43,18.14 -93.55,18.42 -92.79,18.52 -92.04,18.7 -91.41,18.88 -90.77,19.28 -90.53,19.87 -90.45,20.71 -90.28,21 -89.6,21.26 -88.54,21.49 -87.66,21.46 -87.05,21.54 -86.81,21.33 -86.85,20.85 -87.38,20.25 -87.62,19.65 -87.44,19.47 -87.59,19.04 -87.84,18.26 -88.09,18.52 -88.3,18.5 -88.49,18.49 -88.85,17.88 -89.03,18 -89.15,17.96 -89.14,17.81 -90.07,17.82 -91,17.82 -91,17.25 -91.45,17.25 -90.6,16.47 -90.44,16.41 -90.46,16.07 -91.75,16.07 -92.23,14.54 -93.36,15.62 -93.88,15.94 -94.69,16.2 -95.25,16.13 -96.05,15.75 -96.56,15.65 -97.26,15.92 -98.01,16.11 -98.95,16.57 -99.7,16.71 -100.83,17.17 -101.67,17.65 -101.92,17.92 -102.48,17.98 -103.5,18.29 -103.92,18.75 -105,19.32 -105.49,19.95 -105.73,20.43 -105.4,20.53 -105.5,20.82 -105.27,21.08 -105.27,21.42 -105.6,21.87 -105.69,22.27 -106.03,22.77 -106.91,23.77 -107.92,24.55 -108.4,25.17 -109.26,25.58 -109.44,25.82 -109.29,26.44 -109.8,26.68 -110.39,27.16 -110.64,27.86 -111.18,27.94 -111.76,28.47 -112.23,28.95 -112.27,29.27 -112.81,30.02 -113.16,30.79 -113.15,31.17 -113.87,31.57 -114.21,31.52 -114.78,31.8 -114.94,31.39 -114.77,30.91 -114.67,30.16 -114.33,29.75 -113.59,29.06 -113.42,28.83 -113.27,28.75 -113.14,28.41 -112.96,28.43 -112.76,27.78 -112.46,27.53 -112.24,27.17 -111.62,26.66 -111.28,25.73 -110.99,25.29 -110.71,24.83 -110.66,24.3 -110.17,24.27 -109.77,23.81 -109.41,23.36 -109.43,23.19 -109.85,22.82 -110.03,22.82 -110.3,23.43 -110.95,24 -111.67,24.48 -112.18,24.74 -112.15,25.47 -112.3,26.01 -112.78,26.32 -113.46,26.77 -113.6,26.64 -113.85,26.9 -114.47,27.14 -115.06,27.72 -114.98,27.8 -114.57,27.74 -114.2,28.12 -114.16,28.57 -114.93,29.28 -115.52,29.56 -115.89,30.18 -116.26,30.84 -116.72,31.64 -117.13,32.54 -115.99,32.61 -114.72,32.72 -114.81,32.53 -113.3,32.04 -111.02,31.33 -108.24,31.34 -108.24,31.75 -106.51,31.75 -106.14,31.4 -105.63,31.08 -105.04,30.64 -104.71,30.12 -104.46,29.57 -103.94,29.27 -103.11,28.97 -102.48,29.76 -101.66,29.78 -100.96,29.38 -100.46,28.7 -100.11,28.11 -99.52,27.54 -99.3,26.84 -99.02,26.37 -98.24,26.06 -97.53,25.84 -97.14,25.87",
"North Macedonia":"20.59,41.86 20.72,41.85 20.76,42.05 21.35,42.21 21.58,42.25 21.92,42.3 22.38,42.32 22.88,41.99 22.95,41.34 22.76,41.3 22.6,41.13 22.06,41.15 21.67,40.93 21.02,40.84 20.61,41.09 20.46,41.52 20.59,41.86",
"Mali":"-12.17,14.62 -11.83,14.8 -11.67,15.39 -11.35,15.41 -10.65,15.13 -10.09,15.33 -9.7,15.26 -9.55,15.49 -5.54,15.5 -5.32,16.2 -5.49,16.33 -6.45,24.96 -4.92,24.97 -1.55,22.79 1.82,20.61 2.06,20.14 2.68,19.86 3.15,19.69 3.16,19.06 4.27,19.16 4.27,16.85 3.72,16.18 3.64,15.57 2.75,15.41 1.39,15.32 1.02,14.97 0.37,14.93 -0.27,14.92 -0.52,15.12 -1.07,14.97 -2,14.56 -2.19,14.25 -2.97,13.8 -3.1,13.54 -3.52,13.34 -4.01,13.47 -4.28,13.23 -4.43,12.54 -5.22,11.71 -5.2,11.38 -5.47,10.95 -5.4,10.37 -5.82,10.22 -6.05,10.1 -6.21,10.52 -6.49,10.41 -6.67,10.43 -6.85,10.14 -7.62,10.15 -7.9,10.3 -8.03,10.21 -8.34,10.49 -8.28,10.79 -8.41,10.91 -8.62,10.81 -8.58,11.14 -8.38,11.39 -8.79,11.81 -8.91,12.09 -9.13,12.31 -9.33,12.33 -9.57,12.19 -9.89,12.06 -10.17,11.84 -10.59,11.92 -10.87,12.18 -11.04,12.21 -11.3,12.08 -11.46,12.08 -11.51,12.44 -11.47,12.75 -11.55,13.14 -11.93,13.42 -12.12,13.99 -12.17,14.62",
"Myanmar":"99.54,20.19 98.96,19.75 98.25,19.71 97.8,18.63 97.38,18.45 97.86,17.57 98.49,16.84 98.9,16.18 98.54,15.31 98.19,15.12 98.43,14.62 99.1,13.83 99.21,13.27 99.2,12.8 99.59,11.89 99.04,10.96 98.55,9.93 98.46,10.68 98.76,11.44 98.43,12.03 98.51,13.12 98.1,13.64 97.78,14.84 97.6,16.1 97.16,16.93 96.51,16.43 95.37,15.71 94.81,15.8 94.19,16.04 94.53,17.28 94.32,18.21 93.54,19.37 93.66,19.73 93.08,19.86 92.37,20.67 92.3,21.48 92.65,21.32 92.67,22.04 93.17,22.28 93.06,22.7 93.29,23.04 93.33,24.08 94.11,23.85 94.55,24.68 94.6,25.16 95.16,26 95.12,26.57 96.42,27.26 97.13,27.08 97.05,27.7 97.4,27.88 97.33,28.26 97.91,28.34 98.25,27.75 98.68,27.51 98.71,26.74 98.67,25.92 97.72,25.08 97.6,23.9 98.66,24.06 98.9,23.14 99.53,22.95 99.24,22.12 99.98,21.74 100.42,21.56 101.15,21.85 101.18,21.44 100.33,20.79 100.12,20.42 99.54,20.19",
"Montenegro":"19.8,42.5 19.74,42.69 19.3,42.2 19.37,41.88 19.16,41.96 18.88,42.28 18.45,42.48 18.56,42.65 18.71,43.2 19.03,43.43 19.22,43.52 19.48,43.35 19.63,43.21 19.96,43.11 20.34,42.9 20.26,42.81 20.07,42.59 19.8,42.5",
"Mongolia":"87.75,49.3 88.81,49.47 90.71,50.33 92.23,50.8 93.1,50.5 94.15,50.48 94.82,50.01 95.81,49.98 97.26,49.73 98.23,50.42 97.83,51.01 98.23,51.46 98.86,52.05 99.98,51.63 100.89,51.52 102.06,51.26 102.26,50.51 103.68,50.09 104.62,50.28 105.89,50.41 106.89,50.27 107.87,49.79 108.48,49.28 109.4,49.29 110.66,49.13 111.58,49.38 112.9,49.54 114.36,50.25 114.96,50.14 115.49,49.81 116.68,49.89 116.19,49.13 115.49,48.14 115.74,47.73 116.31,47.85 117.3,47.7 118.06,48.07 118.87,47.75 119.77,47.05 119.66,46.69 118.87,46.81 117.42,46.67 116.72,46.39 115.99,45.73 114.46,45.34 113.46,44.81 112.44,45.01 111.87,45.1 111.35,44.46 111.67,44.07 111.83,43.74 111.13,43.41 110.41,42.87 109.24,42.52 107.74,42.48 106.13,42.13 104.96,41.6 104.52,41.91 103.31,41.91 101.83,42.52 99.52,42.52 97.45,42.75 96.35,42.73 95.76,43.32 95.31,44.24 94.69,44.35 93.48,44.98 92.13,45.12 90.95,45.29 90.59,45.72 90.97,46.89 90.28,47.69 88.85,48.07 88.01,48.6 87.75,49.3",
"Mozambique":"34.56,-11.52 35.31,-11.44 36.51,-11.72 36.78,-11.59 37.47,-11.57 37.83,-11.27 38.43,-11.29 39.52,-10.9 40.32,-10.32 40.48,-10.77 40.44,-11.76 40.56,-12.64 40.6,-14.2 40.78,-14.69 40.48,-15.41 40.09,-16.1 39.45,-16.72 38.54,-17.1 37.41,-17.59 36.28,-18.66 35.9,-18.84 35.2,-19.55 34.79,-19.78 34.7,-20.5 35.18,-21.25 35.37,-21.84 35.39,-22.14 35.56,-22.09 35.53,-23.07 35.37,-23.54 35.61,-23.71 35.46,-24.12 35.04,-24.48 34.22,-24.82 33.01,-25.36 32.57,-25.73 32.66,-26.15 32.92,-26.22 32.83,-26.74 32.07,-26.73 31.99,-26.29 31.84,-25.84 31.75,-25.48 31.93,-24.37 31.67,-23.66 31.19,-22.25 32.24,-21.12 32.51,-20.4 32.66,-20.3 32.77,-19.72 32.61,-19.42 32.65,-18.67 32.85,-17.98 32.85,-16.71 32.33,-16.39 31.85,-16.32 31.64,-16.07 31.17,-15.86 30.34,-15.88 30.27,-15.51 30.18,-14.8 33.21,-13.97 33.79,-14.45 34.06,-14.36 34.46,-14.61 34.52,-15.01 34.31,-15.48 34.38,-16.18 35.03,-16.8 35.34,-16.11 35.77,-15.9 35.69,-14.61 35.27,-13.89 34.91,-13.57 34.56,-13.58 34.28,-12.28 34.56,-11.52",
"Mauritania":"-12.17,14.62 -12.83,15.3 -13.44,16.04 -14.1,16.3 -14.58,16.6 -15.14,16.59 -15.62,16.37 -16.12,16.46 -16.46,16.14 -16.55,16.67 -16.27,17.17 -16.15,18.11 -16.26,19.1 -16.38,19.59 -16.28,20.09 -16.54,20.57 -17.06,21 -16.85,21.33 -12.93,21.33 -13.12,22.77 -12.87,23.28 -11.94,23.37 -11.97,25.93 -8.69,25.88 -8.68,27.4 -4.92,24.97 -6.45,24.96 -5.49,16.33 -5.32,16.2 -5.54,15.5 -9.55,15.49 -9.7,15.26 -10.09,15.33 -10.65,15.13 -11.35,15.41 -11.67,15.39 -11.83,14.8 -12.17,14.62",
"Malawi":"34.56,-11.52 34.28,-12.28 34.56,-13.58 34.91,-13.57 35.27,-13.89 35.69,-14.61 35.77,-15.9 35.34,-16.11 35.03,-16.8 34.38,-16.18 34.31,-15.48 34.52,-15.01 34.46,-14.61 34.06,-14.36 33.79,-14.45 33.21,-13.97 32.69,-13.71 33.2,-12.59 33.11,-12.14 33.31,-11.6 33.49,-10.53 33.48,-9.62 34.03,-9.49 34.56,-11.52",
"Malaysia":"101.08,6.2 101.15,5.69 101.81,5.81 102.14,6.22 102.37,6.13 102.96,5.52 103.38,4.85 103.44,4.18 103.33,3.73 103.43,3.38 103.5,2.79 103.85,2.52 104.25,1.63 103.52,1.23 102.57,1.97 101.39,2.76 101.27,3.27 100.69,3.94 100.56,4.77 100.2,5.31 100.31,6.04 100.09,6.46 100.26,6.64 101.08,6.2;117.88,4.14 117.02,4.31 115.87,4.31 115.52,3.17 115.13,2.82 114.62,1.43 113.81,1.22 112.86,1.5 112.38,1.41 111.79,0.9 111.16,0.98 110.51,0.77 109.83,1.34 109.66,2.01 110.4,1.66 111.17,1.85 111.37,2.7 111.8,2.89 113,3.1 113.71,3.89 114.2,4.53 114.66,4.01 114.87,4.35 115.35,4.32 115.4,4.96 115.45,5.45 116.22,6.14 116.73,6.92 117.13,6.93 117.64,6.42 117.69,5.99 118.35,5.71 119.18,5.41 119.11,5.02 118.44,4.97 118.62,4.48 117.88,4.14",
"Namibia":"16.34,-28.58 15.6,-27.82 15.21,-27.09 14.99,-26.12 14.74,-25.39 14.41,-23.85 14.39,-22.66 14.26,-22.11 13.87,-21.7 13.35,-20.87 12.83,-19.67 12.61,-19.05 11.79,-18.07 11.73,-17.3 12.22,-17.11 12.81,-16.94 13.46,-16.97 14.21,-17.35 18.26,-17.31 18.96,-17.79 21.38,-17.93 23.22,-17.52 24.03,-17.3 24.68,-17.35 25.08,-17.58 25.08,-17.66 24.52,-17.89 24.22,-17.89 23.58,-18.28 23.2,-17.87 21.65,-18.22 20.91,-18.25 20.88,-21.81 19.9,-21.85 19.9,-24.77 19.89,-28.46 19,-28.97 18.46,-29.05 17.84,-28.86 17.39,-28.78 17.22,-28.36 16.82,-28.08 16.34,-28.58",
"New Caledonia":"165.78,-21.08 166.6,-21.7 167.12,-22.16 166.74,-22.4 166.19,-22.13 165.47,-21.68 164.83,-21.15 164.17,-20.44 164.03,-20.11 164.46,-20.12 165.02,-20.46 165.46,-20.8 165.78,-21.08",
"Niger":"2.15,11.94 2.18,12.63 1.02,12.85 0.99,13.34 0.43,14 0.3,14.44 0.37,14.93 1.02,14.97 1.39,15.32 2.75,15.41 3.64,15.57 3.72,16.18 4.27,16.85 4.27,19.16 5.68,19.6 8.57,21.57 12,23.47 13.58,23.04 14.14,22.49 14.85,22.86 15.1,21.31 15.47,21.05 15.49,20.73 15.9,20.39 15.69,19.96 15.3,17.93 15.25,16.63 13.97,15.68 13.54,14.37 13.96,13.35 14,12.46 13.32,13.56 13.08,13.6 12.3,13.04 11.53,13.33 10.99,13.39 10.7,13.25 10.11,13.28 9.52,12.85 9.01,12.83 7.8,13.34 7.33,13.1 6.82,13.12 6.45,13.49 5.44,13.87 4.37,13.75 4.11,13.53 3.97,12.96 3.68,12.55 3.61,11.66 2.85,12.24 2.49,12.23 2.15,11.94",
"Nigeria":"8.5,4.77 7.46,4.41 7.08,4.46 6.7,4.24 5.9,4.26 5.36,4.89 5.03,5.61 4.33,6.27 2.69,6.26 2.75,7.87 2.72,8.51 2.91,9.14 3.22,9.44 3.71,10.06 3.6,10.33 3.8,10.73 3.57,11.33 3.61,11.66 3.68,12.55 3.97,12.96 4.11,13.53 4.37,13.75 5.44,13.87 6.45,13.49 6.82,13.12 7.33,13.1 7.8,13.34 9.01,12.83 9.52,12.85 10.11,13.28 10.7,13.25 10.99,13.39 11.53,13.33 12.3,13.04 13.08,13.6 13.32,13.56 14,12.46 14.18,12.48 14.58,12.09 14.47,11.9 14.42,11.57 13.57,10.8 13.31,10.16 13.17,9.64 12.96,9.42 12.75,8.72 12.22,8.31 12.06,7.8 11.84,7.4 11.75,6.98 11.06,6.64 10.5,7.06 10.12,7.04 9.52,6.45 9.23,6.44 8.76,5.48 8.5,4.77",
"Nicaragua":"-85.71,11.09 -86.06,11.4 -86.53,11.81 -86.75,12.14 -87.17,12.46 -87.67,12.91 -87.56,13.06 -87.39,12.91 -87.32,12.98 -87,13.03 -86.88,13.25 -86.73,13.26 -86.76,13.75 -86.52,13.78 -86.31,13.77 -86.1,14.04 -85.8,13.84 -85.7,13.96 -85.51,14.08 -85.17,14.35 -85.15,14.56 -85.05,14.55 -84.92,14.79 -84.82,14.82 -84.65,14.67 -84.45,14.62 -84.23,14.75 -83.98,14.75 -83.63,14.88 -83.49,15.02 -83.15,14.99 -83.23,14.9 -83.28,14.68 -83.18,14.31 -83.41,13.97 -83.52,13.57 -83.55,13.13 -83.5,12.87 -83.47,12.42 -83.63,12.32 -83.72,11.89 -83.65,11.63 -83.86,11.37 -83.81,11.1 -83.66,10.94 -83.9,10.73 -84.2,10.79 -84.36,10.78 -84.67,11.08 -84.9,10.95 -85.56,11.22 -85.71,11.09",
"Netherlands":"6.07,53.51 6.91,53.48 7.09,53.14 6.84,52.23 6.59,51.85 5.99,51.85 6.16,50.8 5.61,51.04 4.97,51.48 4.05,51.27 3.31,51.35 3.83,51.62 4.71,53.09 6.07,53.51",
"Norway":"28.17,71.19 31.29,70.45 30,70.19 31.1,69.56 29.4,69.16 28.59,69.06 29.02,69.77 27.73,70.16 26.18,69.83 25.69,69.09 24.74,68.65 23.66,68.89 22.36,68.84 21.24,69.37 20.65,69.11 20.03,69.07 19.88,68.41 17.99,68.57 17.73,68.01 16.77,68.01 16.11,67.3 15.11,66.19 13.56,64.79 13.92,64.45 13.57,64.05 12.58,64.07 11.93,63.13 11.99,61.8 12.63,61.29 12.3,60.12 11.47,59.43 11.03,58.86 10.36,59.47 8.38,58.31 7.05,58.08 5.67,58.59 5.31,59.66 4.99,61.97 5.91,62.61 8.55,63.45 10.53,64.49 12.36,65.88 14.76,67.81 16.44,68.56 19.18,69.82 21.38,70.26 23.02,70.2 24.55,71.03 26.37,70.99 28.17,71.19;15.14,79.67 15.52,80.02 16.99,80.05 18.25,79.7 21.54,78.96 19.03,78.56 18.47,77.83 17.59,77.64 17.12,76.81 15.91,76.77 13.76,77.38 14.67,77.74 13.17,78.02 11.22,78.87 10.44,79.65 13.17,80.01 13.72,79.66 15.14,79.67;17.37,80.32 20.45,80.6 22.92,80.66 25.45,80.41 27.41,80.06 24.72,79.3 20.08,79.57 18,79.8 17.37,80.32",
"Nepal":"88.12,27.88 88.04,27.45 88.17,26.81 88.06,26.41 87.23,26.4 86.02,26.63 85.25,26.73 84.68,27.23 83.3,27.36 81.99,27.93 81.06,28.42 80.09,28.79 80.48,29.73 81.11,30.18 81.53,30.42 82.33,30.12 83.34,29.46 83.9,29.32 84.23,28.84 85.01,28.64 85.82,28.2 86.95,27.97 88.12,27.88",
"New Zealand":"173.02,-40.92 173.25,-41.33 173.96,-40.93 174.25,-41.35 174.25,-41.77 173.88,-42.23 173.22,-42.97 172.71,-43.37 173.08,-43.85 172.31,-43.87 171.45,-44.24 171.19,-44.9 170.62,-45.91 169.83,-46.36 169.33,-46.64 168.41,-46.62 167.76,-46.29 166.68,-46.22 166.51,-45.85 167.05,-45.11 168.3,-44.12 168.95,-43.94 169.67,-43.56 170.52,-43.03 171.13,-42.51 171.57,-41.77 171.95,-41.51 172.1,-40.96 172.8,-40.49 173.02,-40.92;174.61,-36.16 175.34,-37.21 175.36,-36.53 175.81,-36.8 175.96,-37.56 176.76,-37.88 177.44,-37.96 178.01,-37.58 178.52,-37.69 178.27,-38.58 177.97,-39.17 177.21,-39.15 176.94,-39.45 177.03,-39.88 176.89,-40.07 176.51,-40.6 176.01,-41.29 175.24,-41.69 175.07,-41.43 174.65,-41.28 175.23,-40.46 174.9,-39.91 173.82,-39.51 173.85,-39.15 174.57,-38.8 174.74,-38.03 174.7,-37.38 174.29,-36.71 174.32,-36.53 173.84,-36.12 173.05,-35.24 172.64,-34.53 173.01,-34.45 173.55,-35.01 174.33,-35.27 174.61,-36.16",
"Oman":"58.86,21.11 59.28,21.43 59.8,22.31 59.81,22.53 59.44,22.66 58.73,23.57 57.4,23.88 56.48,24.24 56.4,24.92 55.89,24.92 55.8,24.27 55.98,24.13 55.53,23.93 55.53,23.52 55.23,23.11 55.21,22.71 55.01,22.5 55.67,22 55,20 53.11,16.65 53.57,16.71 54.24,17.04 55.27,17.23 55.27,17.63 55.95,17.76 56.51,18.09 57.79,18.95 57.69,19.74 58.03,20.48 58.86,21.11;56.39,25.9 56.26,25.71 56.07,26.06 56.36,26.4 56.49,26.31 56.39,25.9",
"Pakistan":"75.16,37.13 75.9,36.67 76.19,35.9 77.84,35.49 76.87,34.65 75.76,34.5 74.24,34.75 73.75,34.32 74.1,33.44 74.45,32.76 75.26,32.27 74.41,31.69 74.42,30.98 73.45,29.98 72.82,28.96 71.78,27.91 70.62,27.99 69.51,26.94 70.17,26.49 70.28,25.72 70.84,25.22 71.04,24.36 68.84,24.36 68.18,23.69 67.44,23.94 67.15,24.66 66.37,25.43 64.53,25.24 62.91,25.22 61.5,25.08 61.87,26.24 63.32,26.76 63.23,27.22 62.76,27.38 62.73,28.26 61.77,28.7 61.37,29.3 60.87,29.83 62.55,29.32 63.55,29.47 64.15,29.34 64.35,29.56 65.05,29.47 66.35,29.89 66.38,30.74 66.94,31.3 67.68,31.3 67.79,31.58 68.56,31.71 68.93,31.62 69.32,31.9 69.26,32.5 69.69,33.11 70.32,33.36 69.93,34.02 70.88,33.99 71.16,34.35 71.12,34.73 71.61,35.15 71.5,35.65 71.26,36.07 71.85,36.51 72.92,36.72 74.58,37.02 75.16,37.13",
"Panama":"-77.88,7.22 -78.21,7.51 -78.43,8.05 -78.18,8.32 -78.44,8.39 -78.62,8.72 -79.12,8.99 -79.56,8.93 -79.76,8.58 -80.16,8.33 -80.38,8.3 -80.48,8.09 -80,7.55 -80.28,7.42 -80.42,7.27 -80.89,7.22 -81.06,7.82 -81.19,7.65 -81.52,7.71 -81.72,8.11 -82.13,8.18 -82.39,8.29 -82.82,8.29 -82.85,8.07 -82.97,8.23 -82.91,8.42 -82.83,8.63 -82.87,8.81 -82.72,8.93 -82.93,9.07 -82.93,9.48 -82.55,9.57 -82.19,9.21 -81.81,8.95 -81.71,9.03 -81.44,8.79 -80.95,8.86 -80.52,9.11 -79.91,9.31 -79.57,9.61 -79.02,9.55 -79.06,9.45 -78.5,9.42 -78.06,9.25 -77.73,8.95 -77.35,8.67 -77.47,8.52 -77.24,7.94 -77.43,7.64 -77.75,7.71 -77.88,7.22",
"Peru":"-69.59,-17.58 -69.86,-18.09 -70.37,-18.35 -71.38,-17.77 -71.46,-17.36 -73.44,-16.36 -75.24,-15.27 -76.01,-14.65 -76.42,-13.82 -76.26,-13.54 -77.11,-12.22 -78.09,-10.38 -79.04,-8.39 -79.45,-7.93 -79.76,-7.19 -80.54,-6.54 -81.25,-6.14 -80.93,-5.69 -81.41,-4.74 -81.1,-4.04 -80.3,-3.4 -80.18,-3.82 -80.47,-4.06 -80.44,-4.43 -80.03,-4.35 -79.62,-4.45 -79.21,-4.96 -78.64,-4.55 -78.45,-3.87 -77.84,-3 -76.64,-2.61 -75.54,-1.56 -75.23,-0.91 -75.37,-0.15 -75.11,-0.06 -74.44,-0.53 -74.12,-1 -73.66,-1.26 -73.07,-2.31 -72.33,-2.43 -71.77,-2.17 -71.41,-2.34 -70.81,-2.26 -70.05,-2.73 -70.69,-3.74 -70.39,-3.77 -69.89,-4.3 -70.79,-4.25 -70.93,-4.4 -71.75,-4.59 -72.89,-5.27 -72.96,-5.74 -73.22,-6.09 -73.12,-6.63 -73.72,-6.92 -73.72,-7.34 -73.99,-7.52 -73.57,-8.42 -73.02,-9.03 -73.23,-9.46 -72.56,-9.52 -72.18,-10.05 -71.3,-10.08 -70.48,-9.49 -70.55,-11.01 -70.09,-11.12 -69.53,-10.95 -68.67,-12.56 -68.88,-12.9 -68.93,-13.6 -68.95,-14.45 -69.34,-14.95 -69.16,-15.32 -69.39,-15.66 -68.96,-16.5 -69.59,-17.58",
"Philippines":"126.38,8.41 126.48,7.75 126.54,7.19 126.2,6.27 125.83,7.29 125.36,6.79 125.68,6.05 125.4,5.58 124.22,6.16 123.94,6.89 124.24,7.36 123.61,7.83 123.3,7.42 122.83,7.46 122.09,6.9 121.92,7.19 122.31,8.03 122.94,8.32 123.49,8.69 123.84,8.24 124.6,8.51 124.76,8.96 125.47,8.99 125.41,9.76 126.22,9.29 126.31,8.78 126.38,8.41;123.98,10.28 123.62,9.95 123.31,9.32 122.95,9.02 122.38,9.71 122.59,9.98 122.84,10.26 122.95,10.88 123.5,10.94 123.34,10.27 124.08,11.23 123.98,10.28;118.5,9.32 117.17,8.37 117.66,9.07 118.39,9.68 118.99,10.38 119.51,11.37 119.69,10.55 119.03,10 118.5,9.32;122.34,18.22 122.17,17.81 122.52,17.09 121.66,15.93 121.51,15.12 121.73,14.33 122.26,14.22 122.7,14.34 123.95,13.78 123.86,13.24 124.18,12.99 124.08,12.54 123.3,13.03 122.93,13.55 122.67,13.19 122.03,13.78 121.13,13.64 120.63,13.86 120.68,14.27 120.99,14.53 120.69,14.76 120.56,14.4 120.07,14.97 119.92,15.41 119.88,16.36 120.29,16.03 120.39,17.6 120.72,18.51 121.32,18.5 121.94,18.22 122.25,18.48 122.34,18.22;122.04,11.42 121.88,11.89 122.48,11.58 123.12,11.58 123.1,11.17 122.64,10.74 122.0,10.44 121.97,10.91 122.04,11.42;125.5,12.16 125.78,11.05 125.01,11.31 125.03,10.98 125.28,10.36 124.8,10.13 124.76,10.84 124.46,10.89 124.3,11.5 124.89,11.42 124.88,11.79 124.27,12.56 125.23,12.54 125.5,12.16",
"Papua New Guinea":"155.88,-6.82 155.6,-6.92 155.17,-6.54 154.73,-5.9 154.51,-5.14 154.65,-5.04 154.76,-5.34 155.06,-5.57 155.55,-6.2 156.02,-6.54 155.88,-6.82;151.98,-5.48 151.46,-5.56 151.3,-5.84 150.24,-6.32 149.71,-6.32 148.89,-6.03 148.32,-5.75 148.4,-5.44 149.3,-5.58 149.85,-5.51 149.99,-5.03 150.14,-5.0 150.24,-5.53 150.81,-5.46 151.09,-5.11 151.65,-4.76 151.54,-4.17 152.14,-4.15 152.34,-4.31 152.32,-4.87 151.98,-5.48;146.97,-6.72 147.89,-6.61 147.59,-6.08 146.05,-5.47 145.83,-4.88 145.18,-4.37 144.58,-3.86 143.29,-3.37 142.75,-3.29 141,-2.6 141.03,-9.12 142.63,-9.33 143.41,-8.98 143.56,-8.2 143.29,-7.97 144.74,-7.63 145.3,-7.8 146.05,-8.07 146.97,-9 147.19,-9.51 148.08,-10.27 148.73,-10.25 149.78,-10.39 150.8,-10.29 150.03,-9.68 149.74,-9.87 149.31,-9.07 148.92,-9.1 148.29,-8.58 147.38,-7.63 146.97,-6.72;152.64,-3.66 153.02,-3.98 153.14,-4.5 152.83,-4.77 152.64,-4.18 152.41,-3.79 151.95,-3.46 151.38,-3.04 150.66,-2.74 150.94,-2.5 151.48,-2.78 151.82,-3 152.24,-3.24 152.64,-3.66",
"Poland":"15.02,51.11 14.61,51.75 14.69,52.09 14.44,52.62 14.07,52.98 14.35,53.25 14.12,53.76 14.8,54.05 16.36,54.51 17.62,54.85 18.62,54.68 18.7,54.44 19.66,54.43 20.89,54.31 22.73,54.33 23.24,54.22 23.48,53.91 23.53,53.47 23.8,53.09 23.8,52.69 23.2,52.49 23.51,52.02 23.53,51.58 24.03,50.71 23.92,50.42 23.43,50.31 22.52,49.48 22.78,49.03 22.56,49.09 21.61,49.47 20.89,49.33 20.42,49.43 19.83,49.22 19.32,49.57 18.91,49.44 18.85,49.5 18.39,49.99 17.65,50.05 17.55,50.36 16.87,50.47 16.72,50.22 16.18,50.42 15.49,50.78 15.02,51.11",
"Puerto Rico":"-65.59,18.23 -65.85,17.98 -66.6,17.98 -67.18,17.95 -67.24,18.37 -67.1,18.52 -66.28,18.51 -65.77,18.43 -65.59,18.23",
"North Korea":"130.64,42.4 130.78,42.22 130.4,42.28 129.97,41.94 129.67,41.6 129.71,40.88 129.19,40.66 129.01,40.49 128.63,40.19 127.97,40.03 127.53,39.76 127.5,39.32 127.39,39.21 127.78,39.05 128.35,38.61 128.21,38.37 127.78,38.3 127.07,38.26 126.68,37.8 126.24,37.84 126.17,37.75 125.69,37.94 125.57,37.75 125.28,37.67 125.24,37.86 124.98,37.95 124.71,38.11 124.99,38.55 125.22,38.67 125.13,38.85 125.39,39.39 125.32,39.55 124.74,39.66 124.27,39.93 125.08,40.57 126.18,41.11 126.87,41.82 127.34,41.5 128.21,41.47 128.05,41.99 129.6,42.43 129.99,42.99 130.64,42.4",
"Portugal":"-9.03,41.88 -8.67,42.13 -8.26,42.28 -8.01,41.79 -7.42,41.79 -7.25,41.92 -6.67,41.88 -6.39,41.38 -6.85,41.11 -6.86,40.33 -7.03,40.18 -7.07,39.71 -7.5,39.63 -7.1,39.03 -7.37,38.37 -7.03,38.08 -7.17,37.8 -7.54,37.43 -7.45,37.1 -7.86,36.84 -8.38,36.98 -8.9,36.87 -8.75,37.65 -8.84,38.27 -9.29,38.36 -9.53,38.74 -9.45,39.39 -9.05,39.76 -8.98,40.16 -8.77,40.76 -8.79,41.18 -8.99,41.54 -9.03,41.88",
"Paraguay":"-62.69,-22.25 -62.29,-21.05 -62.27,-20.51 -61.79,-19.63 -60.04,-19.34 -59.12,-19.36 -58.18,-19.87 -58.17,-20.18 -57.87,-20.73 -57.94,-22.09 -56.88,-22.28 -56.47,-22.09 -55.8,-22.36 -55.61,-22.66 -55.52,-23.57 -55.4,-23.96 -55.03,-24 -54.65,-23.84 -54.29,-24.02 -54.29,-24.57 -54.43,-25.16 -54.63,-25.74 -54.79,-26.62 -55.7,-27.39 -56.49,-27.55 -57.61,-27.4 -58.62,-27.12 -57.63,-25.6 -57.78,-25.16 -58.81,-24.77 -60.03,-24.03 -60.85,-23.88 -62.69,-22.25",
"Qatar":"50.81,24.75 50.74,25.48 51.01,26.01 51.29,26.11 51.59,25.8 51.61,25.22 51.39,24.63 51.11,24.56 50.81,24.75",
"Romania":"22.71,47.88 23.14,48.1 23.76,47.99 24.4,47.98 24.87,47.74 25.21,47.89 25.95,47.99 26.2,48.22 26.62,48.22 26.92,48.12 27.23,47.83 27.55,47.41 28.13,46.81 28.16,46.37 28.05,45.94 28.23,45.49 28.68,45.3 29.15,45.46 29.6,45.29 29.63,45.04 29.14,44.82 28.84,44.91 28.56,43.71 27.97,43.81 27.24,44.18 26.07,43.94 25.57,43.69 24.1,43.74 23.33,43.9 22.94,43.82 22.66,44.23 22.47,44.41 22.71,44.58 22.46,44.7 22.15,44.48 21.56,44.77 21.48,45.18 20.87,45.42 20.76,45.73 20.22,46.13 21.02,46.32 21.63,46.99 22.1,47.67 22.71,47.88",
"Russia":"143.65,50.75 144.65,48.98 143.17,49.31 142.56,47.86 143.53,46.84 143.51,46.14 142.75,46.74 142.09,45.97 141.91,46.81 142.02,47.78 141.9,48.86 142.14,49.62 142.18,50.95 141.59,51.94 141.68,53.3 142.61,53.76 142.21,54.23 142.65,54.37 142.91,53.7 143.26,52.74 143.24,51.76 143.65,50.75;28.59,69.06 29.4,69.16 31.1,69.56 32.13,69.91 33.78,69.3 36.51,69.06 40.29,67.93 41.06,67.46 41.13,66.79 40.02,66.27 38.38,66 33.92,66.76 33.18,66.63 34.81,65.9 34.88,65.44 34.94,64.41 36.23,64.11 37.01,63.85 37.14,64.33 36.54,64.76 37.18,65.14 39.59,64.52 40.44,64.76 39.76,65.5 42.09,66.48 43.02,66.42 43.95,66.07 44.53,66.76 43.7,67.35 44.19,67.95 43.45,68.57 46.25,68.25 46.82,67.69 45.56,67.57 45.56,67.01 46.35,66.67 47.89,66.88 48.14,67.52 50.23,67.99 53.72,68.86 54.47,68.81 53.49,68.2 54.73,68.1 55.44,68.44 57.32,68.47 58.8,68.88 59.94,68.28 61.08,68.94 60.03,69.52 60.55,69.85 63.5,69.55 64.89,69.23 68.51,68.09 69.18,68.62 68.16,69.14 68.14,69.36 66.93,69.45 67.26,69.93 66.72,70.71 66.69,71.03 68.54,71.93 69.2,72.84 69.94,73.04 72.59,72.78 72.8,72.22 71.85,71.41 72.47,71.09 72.79,70.39 72.56,69.02 73.67,68.41 73.24,67.74 71.28,66.32 72.42,66.17 72.82,66.53 73.92,66.79 74.19,67.28 75.05,67.76 74.47,68.33 74.94,68.99 73.84,69.07 73.6,69.63 74.4,70.63 73.1,71.45 74.89,72.12 74.66,72.83 75.16,72.85 75.68,72.3 75.29,71.34 76.36,71.15 75.9,71.87 77.58,72.27 79.65,72.32 81.5,71.75 80.61,72.58 80.51,73.65 82.25,73.85 84.66,73.81 86.82,73.94 86.01,74.46 87.17,75.12 88.32,75.14 90.26,75.64 92.9,75.77 93.23,76.05 95.86,76.14 96.68,75.92 98.92,76.45 100.76,76.43 101.04,76.86 101.99,77.29 104.35,77.7 106.07,77.37 104.71,77.13 106.97,76.97 107.24,76.48 108.15,76.72 111.08,76.71 113.33,76.22 114.13,75.85 113.89,75.33 112.78,75.03 110.15,74.48 109.4,74.18 110.64,74.04 112.12,73.79 113.02,73.98 113.53,73.34 113.97,73.59 115.57,73.75 118.78,73.59 119.02,73.12 123.2,72.97 123.26,73.74 125.38,73.56 126.98,73.57 128.59,73.04 129.05,72.4 128.46,71.98 129.72,71.19 131.29,70.79 132.25,71.84 133.86,71.39 135.56,71.66 137.5,71.35 138.23,71.63 139.87,71.49 139.15,72.42 140.47,72.85 149.5,72.2 150.35,71.61 152.97,70.84 157.01,71.03 159,70.87 159.83,70.45 159.71,69.72 160.94,69.44 162.28,69.64 164.05,69.67 165.94,69.47 167.84,69.58 169.58,68.69 170.82,69.01 170.01,69.65 170.45,70.1 173.64,69.82 175.72,69.88 178.6,69.4 180,68.96 180,64.98 178.71,64.53 177.41,64.61 178.31,64.08 178.91,63.25 179.37,62.98 179.49,62.57 179.23,62.3 177.36,62.52 174.57,61.77 173.68,61.65 172.15,60.95 170.7,60.34 170.33,59.88 168.9,60.57 166.29,59.79 165.84,60.16 164.88,59.73 163.54,59.87 163.22,59.21 162.02,58.24 162.05,57.84 163.19,57.62 163.06,56.16 162.13,56.12 161.7,55.29 162.12,54.86 160.37,54.34 160.02,53.2 158.53,52.96 158.23,51.94 156.79,51.01 156.42,51.7 155.99,53.16 155.43,55.38 155.91,56.77 156.76,57.36 156.81,57.83 158.36,58.06 160.15,59.31 161.87,60.34 163.67,61.14 164.47,62.55 163.26,62.47 162.66,61.64 160.12,60.54 159.3,61.77 156.72,61.43 154.22,59.76 155.04,59.14 152.81,58.88 151.27,58.78 151.34,59.5 149.78,59.66 148.54,59.16 145.49,59.34 142.2,59.04 138.96,57.09 135.13,54.73 136.7,54.6 137.19,53.98 138.16,53.76 138.8,54.25 139.9,54.19 141.35,53.09 141.38,52.24 140.6,51.24 140.51,50.05 140.06,48.45 138.55,46.6 138.22,46.31 136.86,45.14 135.52,43.99 134.87,43.4 133.54,42.81 132.91,42.8 132.28,43.28 130.94,42.55 130.78,42.22 130.64,42.4 130.63,42.9 131.14,42.93 131.29,44.11 131.03,44.97 131.88,45.32 133.1,45.14 133.77,46.12 134.11,47.21 134.5,47.58 135.03,48.48 133.37,48.18 132.51,47.79 131,47.79 130.58,48.73 129.4,49.44 127.66,49.76 127.29,50.74 126.94,51.35 126.56,51.78 125.95,52.79 125.07,53.16 123.57,53.46 122.25,53.43 121,53.25 120.18,52.75 120.73,52.52 120.73,51.96 120.18,51.64 119.28,50.58 119.29,50.14 117.88,49.51 116.68,49.89 115.49,49.81 114.96,50.14 114.36,50.25 112.9,49.54 111.58,49.38 110.66,49.13 109.4,49.29 108.48,49.28 107.87,49.79 106.89,50.27 105.89,50.41 104.62,50.28 103.68,50.09 102.26,50.51 102.06,51.26 100.89,51.52 99.98,51.63 98.86,52.05 98.23,51.46 97.83,51.01 98.23,50.42 97.26,49.73 95.81,49.98 94.82,50.01 94.15,50.48 93.1,50.5 92.23,50.8 90.71,50.33 88.81,49.47 87.75,49.3 87.36,49.21 86.83,49.83 85.54,49.69 85.12,50.12 84.42,50.31 83.93,50.89 83.38,51.07 81.95,50.81 80.57,51.39 80.04,50.86 77.8,53.4 76.53,54.18 76.89,54.49 74.38,53.55 73.43,53.49 73.51,54.04 72.22,54.38 71.18,54.13 70.87,55.17 69.07,55.39 68.17,54.97 65.67,54.6 65.18,54.35 61.44,54.01 60.98,53.66 61.7,52.98 60.74,52.72 60.93,52.45 59.97,51.96 61.59,51.27 61.34,50.8 59.93,50.84 59.64,50.55 58.36,51.06 56.78,51.04 55.72,50.62 54.53,51.03 52.33,51.72 50.77,51.69 48.7,50.61 48.58,49.87 47.55,50.45 46.75,49.36 47.04,49.15 46.47,48.39 47.32,47.72 48.06,47.74 48.69,47.08 48.59,46.56 49.1,46.4 48.65,45.81 47.68,45.64 46.68,44.61 47.59,43.66 47.49,43 48.58,41.81 47.99,41.41 47.82,41.15 47.37,41.22 46.69,41.83 46.4,41.86 45.78,42.09 45.47,42.5 44.54,42.71 43.93,42.55 43.76,42.74 42.39,43.22 40.92,43.38 40.08,43.55 39.96,43.43 38.68,44.28 37.54,44.66 36.68,45.24 37.4,45.4 38.23,46.24 37.67,46.64 39.15,47.04 39.12,47.26 38.22,47.1 38.26,47.55 38.77,47.83 39.74,47.9 39.9,48.23 39.67,48.78 40.08,49.31 40.07,49.6 38.59,49.93 38.01,49.92 37.39,50.38 36.63,50.23 35.36,50.58 35.38,51.04 34.22,51.26 34.14,51.57 34.39,51.77 33.75,52.34 32.72,52.24 32.41,52.29 32.16,52.06 31.79,52.1 31.54,52.74 31.31,53.07 31.5,53.17 32.3,53.13 32.69,53.35 32.41,53.62 31.73,53.79 31.79,53.97 31.38,54.16 30.76,54.81 31.38,55.18 30.87,55.55 29.9,55.79 29.37,55.67 29.23,55.92 28.18,56.17 27.86,56.76 27.77,57.24 27.29,57.47 27.72,57.79 27.42,58.72 28.13,59.3 27.98,59.48 29.12,60.03 28.07,60.5 30.21,61.78 31.14,62.36 31.52,62.87 30.04,63.55 30.44,64.2 29.54,64.95 30.22,65.81 29.05,66.94 29.98,67.7 28.45,68.36 28.59,69.06;-180,68.96 -177.55,68.2 -174.93,67.21 -175.01,66.58 -174.34,66.34 -174.57,67.06 -171.86,66.91 -169.9,65.98 -170.89,65.54 -172.53,65.44 -172.56,64.46 -172.96,64.25 -173.89,64.28 -174.65,64.63 -175.98,64.92 -176.21,65.36 -177.22,65.52 -178.36,65.39 -178.9,65.74 -178.69,66.11 -179.88,65.87 -179.43,65.4 -180,64.98 -180,68.96;21.27,55.19 22.32,55.02 22.76,54.86 22.65,54.58 22.73,54.33 20.89,54.31 19.66,54.43 19.89,54.87 21.27,55.19;53.51,73.75 55.9,74.63 55.63,75.08 57.87,75.61 61.17,76.25 64.5,76.44 66.21,76.81 68.16,76.94 68.85,76.54 68.18,76.23 64.64,75.74 61.58,75.26 58.48,74.31 56.99,73.33 55.42,72.37 55.62,71.54 57.54,70.72 56.94,70.63 53.68,70.76 53.41,71.21 51.6,71.47 51.46,72.01 52.48,72.23 52.44,72.77 54.43,73.63 53.51,73.75;93.78,81.02 95.94,81.25 97.88,80.75 100.19,79.78 99.94,78.88 97.76,78.76 94.97,79.04 93.31,79.43 92.55,80.14 91.18,80.34 93.78,81.02;139.86,73.37 140.81,73.77 142.09,73.86 143.48,73.47 143.6,73.21 142.09,73.21 140.04,73.32 139.86,73.37;137.5,75.95 139,76.2 141,76.1 145,75.6 143,75 140,74.9 137.5,75.95;178.7,71.1 180,71.5 180,70.83 178.7,71.1;-180,71.5 -177.58,71.27 -177.66,71.13 -178.69,70.89 -180,70.83 -180,71.5;48,80.2 55,81 62,81 58,80.2 50,80 48,80.2",
"Rwanda":"30.42,-1.13 30.82,-1.7 30.76,-2.29 30.47,-2.41 29.94,-2.35 29.63,-2.92 29.02,-2.92 29.12,-2.29 29.25,-2.22 29.29,-1.62 29.58,-1.34 29.82,-1.44 30.42,-1.13",
"Saudi Arabia":"42.78,16.35 42.65,16.77 42.35,17.08 42.27,17.47 41.75,17.83 41.22,18.67 40.94,19.49 40.25,20.17 39.8,20.34 39.14,21.29 39.02,21.99 39.07,22.58 38.49,23.69 38.02,24.08 37.48,24.29 37.15,24.86 37.21,25.08 36.93,25.6 36.64,25.83 36.25,26.57 35.64,27.38 35.13,28.06 34.63,28.06 34.79,28.61 34.83,29 34.96,29.36 36.07,29.2 36.5,29.51 36.74,29.87 37.5,30 37.67,30.34 37.99,30.51 37,31.51 39,32.01 39.2,32.16 40.4,31.89 41.89,31.19 44.71,29.18 46.57,29.1 47.46,29 47.71,28.53 48.42,28.55 48.81,27.69 49.3,27.46 49.47,27.11 50.15,26.69 50.21,26.28 50.11,25.94 50.24,25.61 50.53,25.33 50.66,24.9 50.81,24.75 51.11,24.56 51.39,24.63 51.58,24.25 51.62,24.01 52,23 55.01,22.5 55.21,22.71 55.67,22 55,20 52,19 49.12,18.62 48.18,18.17 47.47,17.12 47,16.95 46.75,17.28 46.37,17.23 45.4,17.33 45.22,17.43 44.06,17.41 43.79,17.32 43.38,17.58 43.12,17.09 43.22,16.67 42.78,16.35",
"Sudan":"33.96,9.46 33.82,9.48 33.84,9.98 33.72,10.33 33.21,10.72 33.09,11.44 33.21,12.18 32.74,12.25 32.68,12.02 32.07,11.97 32.31,11.68 32.4,11.08 31.85,10.53 31.35,9.81 30.84,9.71 29.99,10.29 29.62,10.08 29.52,9.79 29,9.6 28.97,9.4 27.97,9.4 27.83,9.6 27.11,9.64 26.75,9.47 26.48,9.55 25.96,10.14 25.79,10.41 25.07,10.27 24.79,9.81 24.54,8.92 24.19,8.73 23.89,8.62 23.81,8.67 23.46,8.95 23.39,9.27 23.56,9.68 23.55,10.09 22.98,10.71 22.86,11.14 22.88,11.38 22.51,11.68 22.5,12.26 22.29,12.65 21.94,12.59 22.04,12.96 22.3,13.37 22.18,13.79 22.51,14.09 22.3,14.33 22.57,14.94 23.02,15.68 23.89,15.61 23.84,19.58 24,19.5 24,20 25,20 25,22 36.87,22 37.19,21.02 36.97,20.84 37.11,19.81 37.48,18.61 37.86,18.37 38.41,18 37.9,17.43 37.17,17.26 36.85,16.96 36.75,16.29 36.32,14.82 36.43,14.42 36.27,13.56 35.86,12.58 35.26,12.08 34.83,11.32 34.73,10.91 34.26,10.63 33.96,9.58 33.96,9.46",
"South Sudan":"33.96,9.46 33.97,8.68 33.83,8.38 33.29,8.35 32.95,7.78 33.57,7.71 34.08,7.23 34.25,6.83 34.71,6.59 35.3,5.51 34.62,4.85 34.01,4.25 33.39,3.79 32.69,3.79 31.88,3.56 31.25,3.78 30.83,3.51 29.95,4.17 29.72,4.6 29.16,4.39 28.7,4.46 28.43,4.29 27.98,4.41 27.37,5.23 27.21,5.55 26.47,5.95 26.21,6.55 25.8,6.98 25.12,7.5 25.11,7.83 24.57,8.23 23.89,8.62 24.19,8.73 24.54,8.92 24.79,9.81 25.07,10.27 25.79,10.41 25.96,10.14 26.48,9.55 26.75,9.47 27.11,9.64 27.83,9.6 27.97,9.4 28.97,9.4 29,9.6 29.52,9.79 29.62,10.08 29.99,10.29 30.84,9.71 31.35,9.81 31.85,10.53 32.4,11.08 32.31,11.68 32.07,11.97 32.68,12.02 32.74,12.25 33.21,12.18 33.09,11.44 33.21,10.72 33.72,10.33 33.84,9.98 33.82,9.48 33.96,9.46",
"Senegal":"-16.71,13.59 -17.13,14.37 -17.63,14.73 -17.19,14.92 -16.7,15.62 -16.46,16.14 -16.12,16.46 -15.62,16.37 -15.14,16.59 -14.58,16.6 -14.1,16.3 -13.44,16.04 -12.83,15.3 -12.17,14.62 -12.12,13.99 -11.93,13.42 -11.55,13.14 -11.47,12.75 -11.51,12.44 -11.66,12.39 -12.2,12.47 -12.28,12.35 -12.5,12.33 -13.22,12.58 -13.7,12.59 -15.55,12.63 -15.82,12.52 -16.15,12.55 -16.68,12.38 -16.84,13.15 -15.93,13.13 -15.69,13.27 -15.51,13.28 -15.14,13.51 -14.71,13.3 -14.28,13.28 -13.84,13.51 -14.05,13.79 -14.38,13.63 -14.69,13.63 -15.08,13.88 -15.4,13.86 -15.62,13.62 -16.71,13.59",
"Solomon Islands":"162.12,-10.48 161.7,-10.82 161.32,-10.2 161.92,-10.45 162.12,-10.48;160.85,-9.87 160.46,-9.9 159.85,-9.79 159.64,-9.64 159.7,-9.24 160.36,-9.4 160.69,-9.61 160.85,-9.87;161.68,-9.6 161.53,-9.78 160.79,-8.92 160.58,-8.32 160.92,-8.32 161.28,-9.12 161.68,-9.6;159.88,-8.34 159.92,-8.54 159.13,-8.11 158.59,-7.75 158.21,-7.42 158.82,-7.56 159.64,-8.02 159.88,-8.34",
"Sierra Leone":"-11.44,6.79 -11.71,6.86 -12.43,7.26 -12.95,7.8 -13.12,8.16 -13.25,8.9 -12.71,9.34 -12.6,9.62 -12.43,9.84 -12.15,9.86 -11.92,10.05 -11.12,10.05 -10.84,9.69 -10.62,9.27 -10.65,8.98 -10.49,8.72 -10.51,8.35 -10.23,8.41 -10.7,7.94 -11.15,7.4 -11.2,7.11 -11.44,6.79",
"El Salvador":"-87.79,13.38 -88.48,13.16 -88.84,13.26 -89.26,13.46 -89.81,13.52 -90.1,13.74 -90.06,13.88 -89.72,14.13 -89.53,14.24 -89.59,14.36 -89.35,14.42 -89.06,14.34 -88.84,14.14 -88.54,13.98 -88.5,13.85 -88.07,13.96 -87.86,13.89 -87.72,13.79 -87.79,13.38",
"Somalia":"49.73,11.58 50.26,11.68 50.73,12.02 51.11,12.02 51.13,11.75 51.04,11.17 51.05,10.64 50.83,10.28 50.55,9.2 50.07,8.08 49.45,6.8 48.59,5.34 47.74,4.22 46.56,2.86 45.56,2.05 44.07,1.05 43.14,0.29 42.04,-0.92 41.81,-1.45 41.59,-1.68 40.99,-0.86 40.98,2.78 41.86,3.92 42.13,4.23 42.77,4.25 43.66,4.96 44.96,5 47.79,8 46.95,7.99 43.68,9.18 43.3,9.54 42.56,10.57 42.78,10.93 43.15,11.46 43.47,11.28 43.67,10.86 44.12,10.45 44.61,10.44 45.56,10.7 46.65,10.82 47.53,11.13 48.02,11.19 48.38,11.38 48.95,11.41 49.27,11.43 49.73,11.58",
"Serbia":"20.87,45.42 21.48,45.18 21.56,44.77 22.15,44.48 22.46,44.7 22.71,44.58 22.47,44.41 22.66,44.23 22.41,44.01 22.5,43.64 22.99,43.12 22.6,42.9 22.44,42.58 22.55,42.46 22.38,42.32 21.92,42.3 21.58,42.25 21.54,42.32 21.66,42.44 21.78,42.68 21.63,42.68 21.44,42.86 21.27,42.91 21.14,43.07 20.96,43.13 20.81,43.27 20.63,43.22 20.5,42.88 20.26,42.81 20.34,42.9 19.96,43.11 19.63,43.21 19.48,43.35 19.22,43.52 19.45,43.57 19.6,44.04 19.12,44.42 19.37,44.86 19.01,44.86 19.39,45.24 19.07,45.52 18.83,45.91 19.6,46.17 20.22,46.13 20.76,45.73 20.87,45.42",
"Suriname":"-57.15,5.97 -55.95,5.77 -55.84,5.95 -55.03,6.03 -53.96,5.76 -54.48,4.9 -54.4,4.21 -54.01,3.62 -54.18,3.19 -54.27,2.74 -54.52,2.31 -55.1,2.52 -55.57,2.42 -55.97,2.51 -56.07,2.22 -55.91,2.02 -55.99,1.82 -56.54,1.9 -56.78,2.38 -57.15,3 -57.28,3.33 -57.6,3.33 -58.04,4.06 -57.86,4.58 -57.91,4.81 -57.31,5.07 -57.15,5.97",
"Slovakia":"18.85,49.5 18.91,49.44 19.32,49.57 19.83,49.22 20.42,49.43 20.89,49.33 21.61,49.47 22.56,49.09 22.28,48.83 22.09,48.42 21.87,48.32 20.8,48.62 20.47,48.56 20.24,48.33 19.77,48.2 19.66,48.27 19.17,48.11 18.78,48.08 18.7,47.88 17.86,47.76 17.49,47.87 16.98,48.12 16.88,48.47 16.96,48.6 17.1,48.82 17.52,48.8 17.89,48.9 18.1,49.04 18.17,49.27 18.55,49.5 18.85,49.5",
"Slovenia":"13.81,46.51 14.63,46.43 15.14,46.66 16.01,46.68 16.2,46.85 16.37,46.84 16.56,46.5 15.77,46.24 15.67,45.83 15.32,45.73 15.33,45.45 14.94,45.47 14.6,45.63 14.41,45.47 13.72,45.5 13.94,45.59 13.7,46.02 13.81,46.51",
"Sweden":"11.03,58.86 11.47,59.43 12.3,60.12 12.63,61.29 11.99,61.8 11.93,63.13 12.58,64.07 13.57,64.05 13.92,64.45 13.56,64.79 15.11,66.19 16.11,67.3 16.77,68.01 17.73,68.01 17.99,68.57 19.88,68.41 20.03,69.07 20.65,69.11 21.98,68.62 23.54,67.94 23.57,66.4 23.9,66.01 22.18,65.72 21.21,65.03 21.37,64.41 19.78,63.61 17.85,62.75 17.12,61.34 17.83,60.64 18.79,60.08 17.87,58.95 16.83,58.72 16.45,57.04 15.88,56.1 14.67,56.2 14.1,55.41 12.94,55.36 12.63,56.31 11.79,57.44 11.03,58.86",
"Eswatini":"32.07,-26.73 31.87,-27.18 31.28,-27.29 30.69,-26.74 30.68,-26.4 30.95,-26.02 31.04,-25.73 31.33,-25.66 31.84,-25.84 31.99,-26.29 32.07,-26.73",
"Syria":"38.79,33.38 36.83,32.31 35.72,32.71 35.84,32.87 35.82,33.28 36.07,33.82 36.61,34.2 36.45,34.59 36,34.64 35.91,35.41 36.15,35.82 36.42,36.04 36.69,36.26 36.74,36.82 37.07,36.62 38.17,36.9 38.7,36.71 39.52,36.72 40.67,37.09 41.21,37.07 42.35,37.23 41.84,36.61 41.29,36.36 41.38,35.63 41.01,34.42 38.79,33.38",
"Chad":"14.5,12.86 14.6,13.33 13.95,13.35 13.54,14.37 13.97,15.68 15.25,16.63 15.3,17.93 15.69,19.96 15.9,20.39 15.49,20.73 15.47,21.05 15.1,21.31 14.85,22.86 16,23.45 24,19.5 23.84,19.58 23.89,15.61 23.02,15.68 22.57,14.94 22.3,14.33 22.51,14.09 22.18,13.79 22.3,13.37 22.04,12.96 21.94,12.59 22.29,12.65 22.5,12.26 22.51,11.68 22.88,11.38 22.86,11.14 22.23,10.97 21.72,10.57 21,9.48 20.06,9.01 19.09,9.07 18.81,8.98 18.91,8.63 18.39,8.28 17.96,7.89 16.71,7.51 16.46,7.73 16.29,7.75 16.11,7.5 15.28,7.42 15.47,7.69 14.54,8.97 13.95,9.55 14.17,10.02 14.62,9.92 14.91,9.99 15.47,9.98 14.92,10.89 14.96,11.56 14.89,12.22 14.5,12.86",
"Togo":"0.9,11 0.77,10.47 1.43,9.83 1.46,9.33 1.66,9.13 1.62,6.83 1.87,6.14 1.06,5.93 0.84,6.28 0.57,6.91 0.49,7.41 0.71,8.31 0.46,8.68 0.37,9.47 0.37,10.19 -0.05,10.71 0.02,11.02 0.9,11",
"Thailand":"102.58,12.19 101.69,12.65 100.83,12.63 100.98,13.41 100.1,13.41 100.02,12.31 99.48,10.85 99.15,9.96 99.22,9.24 99.87,9.21 100.28,8.3 100.46,7.43 101.02,6.86 101.62,6.74 102.14,6.22 101.81,5.81 101.15,5.69 101.08,6.2 100.26,6.64 100.09,6.46 99.69,6.85 99.52,7.34 98.99,7.91 98.5,8.38 98.34,7.79 98.15,8.35 98.26,8.97 98.55,9.93 99.04,10.96 99.59,11.89 99.2,12.8 99.21,13.27 99.1,13.83 98.43,14.62 98.19,15.12 98.54,15.31 98.9,16.18 98.49,16.84 97.86,17.57 97.38,18.45 97.8,18.63 98.25,19.71 98.96,19.75 99.54,20.19 100.12,20.42 100.55,20.11 100.6,19.51 101.28,19.46 101.04,18.41 101.06,17.51 102.41,17.93 103.2,18.31 103.96,18.24 104.72,17.43 104.78,16.44 105.59,15.57 105.54,14.72 105.22,14.27 104.28,14.42 102.99,14.23 102.35,13.39 102.58,12.19",
"Tajikistan":"71.01,40.24 70.65,39.94 69.56,40.1 69.46,39.53 70.55,39.6 71.78,39.28 73.68,39.43 73.93,38.51 74.26,38.61 74.86,38.38 74.83,37.99 74.98,37.42 73.95,37.42 73.26,37.5 72.64,37.05 72.19,36.95 71.84,36.74 71.45,37.07 71.54,37.91 71.24,37.95 71.35,38.26 70.81,38.49 70.38,38.14 70.27,37.74 70.12,37.59 69.52,37.61 69.2,37.15 68.86,37.34 68.14,37.02 67.83,37.14 68.39,38.16 67.44,39.14 68.18,39.15 68.61,39.53 69.01,40.09 69.33,40.73 70.67,40.96 70.46,40.5 71.01,40.24",
"Turkmenistan":"61.21,35.65 61.12,36.49 60.38,36.53 59.23,37.41 58.44,37.52 57.33,38.03 56.62,38.12 56.18,37.94 55.51,37.96 54.8,37.39 53.92,37.2 53.74,37.91 53.88,38.95 53.1,39.29 53.36,39.98 52.69,40.03 52.92,40.88 53.86,40.63 54.74,40.95 54.01,41.55 53.72,42.12 52.92,41.87 52.81,41.14 52.5,41.78 52.94,42.12 54.08,42.32 54.76,42.04 55.46,41.26 55.97,41.31 57.1,41.32 56.93,41.83 57.79,42.17 58.63,42.75 59.98,42.22 60.08,41.43 60.47,41.22 61.55,41.27 61.88,41.08 62.37,40.05 63.52,39.36 64.17,38.89 65.22,38.4 66.55,37.97 66.52,37.36 66.22,37.39 65.75,37.66 65.59,37.31 64.75,37.11 64.55,36.31 63.98,36.01 63.19,35.86 62.98,35.4 62.23,35.27 61.21,35.65",
"Timor-Leste":"124.97,-8.89 125.09,-8.66 125.95,-8.43 126.64,-8.4 126.96,-8.27 127.34,-8.4 126.97,-8.67 125.93,-9.11 125.09,-9.39 125.07,-9.09 124.97,-8.89",
"Trinidad and Tobago":"-61.68,10.76 -61.1,10.89 -60.9,10.86 -60.94,10.11 -61.77,10 -61.95,10.09 -61.66,10.36 -61.68,10.76",
"Tunisia":"9.48,30.31 9.06,32.1 8.44,32.51 8.43,32.75 7.61,33.34 7.52,34.1 8.14,34.66 8.38,35.48 8.22,36.43 8.42,36.95 9.51,37.35 10.21,37.23 10.18,36.72 11.03,37.09 11.1,36.9 10.6,36.41 10.59,35.95 10.94,35.7 10.81,34.83 10.15,34.33 10.34,33.79 10.86,33.77 11.11,33.29 11.49,33.14 11.43,32.37 10.94,32.08 10.64,31.76 9.95,31.38 10.06,30.96 9.97,30.54 9.48,30.31",
"Turkey":"36.91,41.34 38.35,40.95 39.51,41.1 40.37,41.01 41.55,41.54 42.62,41.58 43.58,41.09 43.75,40.74 43.66,40.25 44.4,40.01 44.79,39.71 44.11,39.43 44.42,38.28 44.23,37.97 44.77,37.17 44.29,37 43.94,37.26 42.78,37.39 42.35,37.23 41.21,37.07 40.67,37.09 39.52,36.72 38.7,36.71 38.17,36.9 37.07,36.62 36.74,36.82 36.69,36.26 36.42,36.04 36.15,35.82 35.78,36.27 36.16,36.65 35.55,36.57 34.71,36.8 34.03,36.22 32.51,36.11 31.7,36.64 30.62,36.68 30.39,36.26 29.7,36.14 28.73,36.68 27.64,36.66 27.05,37.65 26.32,38.21 26.8,38.99 26.17,39.46 27.28,40.42 28.82,40.46 29.24,41.22 31.15,41.09 32.35,41.74 33.51,42.02 35.17,42.04 36.91,41.34;26.12,41.83 27.14,42.14 27.99,42.01 28.12,41.62 28.99,41.3 28.81,41.05 27.62,41 27.19,40.69 26.36,40.15 26.04,40.62 26.06,40.82 26.29,40.94 26.6,41.56 26.12,41.83",
"Taiwan":"121.78,24.39 121.18,22.79 120.75,21.97 120.22,22.81 120.11,23.56 120.69,24.54 121.5,25.3 121.95,25 121.78,24.39",
"Tanzania":"33.9,-0.95 34.07,-1.06 37.7,-3.1 37.77,-3.68 39.2,-4.68 38.74,-5.91 38.8,-6.48 39.44,-6.84 39.47,-7.1 39.19,-7.7 39.25,-8.01 39.19,-8.49 39.54,-9.11 39.95,-10.1 40.32,-10.32 39.52,-10.9 38.43,-11.29 37.83,-11.27 37.47,-11.57 36.78,-11.59 36.51,-11.72 35.31,-11.44 34.56,-11.52 34.03,-9.49 33.74,-9.42 32.76,-9.23 32.19,-8.93 31.56,-8.76 31.16,-8.59 30.74,-8.34 30.2,-7.08 29.62,-6.52 29.42,-5.94 29.52,-5.42 29.34,-4.5 29.75,-4.45 30.12,-4.09 30.51,-3.57 30.75,-3.36 30.74,-3.03 30.53,-2.81 30.47,-2.41 30.76,-2.29 30.82,-1.7 30.42,-1.13 30.77,-1.01 31.87,-1.03 33.9,-0.95",
"Uganda":"31.87,-1.03 30.77,-1.01 30.42,-1.13 29.82,-1.44 29.58,-1.34 29.59,-0.59 29.82,-0.21 29.88,0.6 30.09,1.06 30.47,1.58 30.85,1.85 31.17,2.2 30.77,2.34 30.83,3.51 31.25,3.78 31.88,3.56 32.69,3.79 33.39,3.79 34.01,4.25 34.48,3.56 34.6,3.05 35.04,1.91 34.67,1.18 34.18,0.52 33.89,0.11 33.9,-0.95 31.87,-1.03",
"Ukraine":"31.79,52.1 32.16,52.06 32.41,52.29 32.72,52.24 33.75,52.34 34.39,51.77 34.14,51.57 34.22,51.26 35.38,51.04 35.36,50.58 36.63,50.23 37.39,50.38 38.01,49.92 38.59,49.93 40.07,49.6 40.08,49.31 39.67,48.78 39.9,48.23 39.74,47.9 38.77,47.83 38.26,47.55 38.22,47.1 37.43,47.02 36.76,46.7 35.82,46.65 34.96,46.27 35.02,45.65 35.51,45.41 36.53,45.47 36.33,45.11 35.24,44.94 33.88,44.36 33.33,44.56 33.55,45.03 32.45,45.33 32.63,45.52 33.59,46.06 33.3,46.08 31.74,46.33 31.68,46.71 30.75,46.58 30.38,46.03 29.6,45.29 29.15,45.46 28.68,45.3 28.23,45.49 28.49,45.6 28.66,45.94 28.93,46.26 28.86,46.44 29.17,46.38 29.76,46.35 30.02,46.42 29.84,46.53 29.91,46.67 29.56,46.93 29.42,47.35 29.05,47.51 29.12,47.85 28.67,48.12 28.26,48.16 27.52,48.47 26.86,48.37 26.62,48.22 26.2,48.22 25.95,47.99 25.21,47.89 24.87,47.74 24.4,47.98 23.76,47.99 23.14,48.1 22.71,47.88 22.64,48.15 22.09,48.42 22.28,48.83 22.56,49.09 22.78,49.03 22.52,49.48 23.43,50.31 23.92,50.42 24.03,50.71 23.53,51.58 24.01,51.62 24.55,51.89 25.33,51.91 26.34,51.83 27.45,51.59 28.24,51.57 28.62,51.43 28.99,51.6 29.25,51.37 30.16,51.42 30.56,51.32 30.62,51.82 30.93,52.04 31.79,52.1",
"Uruguay":"-57.63,-30.22 -56.98,-30.11 -55.97,-30.88 -55.6,-30.85 -54.57,-31.49 -53.79,-32.05 -53.21,-32.73 -53.65,-33.2 -53.37,-33.77 -53.81,-34.4 -54.94,-34.95 -55.67,-34.75 -56.22,-34.86 -57.14,-34.43 -57.82,-34.46 -58.43,-33.91 -58.35,-33.26 -58.13,-33.04 -58.14,-32.04 -57.87,-31.02 -57.63,-30.22",
"United States":"-155.54,19.08 -155.69,18.92 -155.94,19.06 -155.91,19.34 -156.07,19.7 -155.86,20.27 -155.2,19.99 -154.81,19.51 -155.54,19.08;-156.7,20.9 -156.3,20.95 -156.0,20.75 -156.4,20.6 -156.7,20.9;-158.25,21.55 -158.0,21.7 -157.7,21.35 -158.1,21.3 -158.25,21.55;-159.75,22.1 -159.4,22.2 -159.3,21.95 -159.6,21.9 -159.75,22.1;-94.82,49.39 -94.64,48.84 -94.33,48.67 -93.63,48.61 -92.61,48.45 -91.64,48.14 -90.83,48.27 -89.6,48.01 -89.27,48.02 -88.38,48.3 -84.88,46.9 -84.78,46.64 -84.54,46.54 -84.6,46.44 -84.34,46.41 -84.14,46.51 -84.09,46.28 -83.89,46.12 -83.62,46.12 -83.47,45.99 -83.59,45.82 -82.55,45.35 -82.34,44.44 -82.14,43.57 -82.43,42.98 -82.9,42.43 -83.12,42.08 -83.14,41.98 -83.03,41.83 -82.69,41.68 -82.44,41.68 -81.28,42.21 -80.25,42.37 -78.94,42.86 -78.92,42.97 -79.01,43.27 -79.17,43.47 -78.72,43.63 -77.74,43.63 -76.82,43.63 -76.5,44.02 -76.38,44.1 -75.32,44.82 -74.87,45 -71.51,45.01 -71.41,45.25 -71.08,45.31 -70.66,45.46 -70.31,45.92 -70,46.69 -69.24,47.45 -68.91,47.19 -68.23,47.35 -67.79,47.07 -67.79,45.7 -67.14,45.14 -66.96,44.81 -68.03,44.33 -69.06,43.98 -70.12,43.68 -70.65,43.09 -70.81,42.87 -70.82,42.33 -70.5,41.81 -70.08,41.78 -70.18,42.15 -69.88,41.92 -69.97,41.64 -70.64,41.48 -71.12,41.49 -71.86,41.32 -72.88,41.22 -73.71,40.93 -72.24,41.12 -71.95,40.93 -73.35,40.63 -73.98,40.63 -73.95,40.75 -74.26,40.47 -73.96,40.43 -74.18,39.71 -74.91,38.94 -74.98,39.2 -75.2,39.25 -75.53,39.5 -75.32,38.96 -75.07,38.78 -75.06,38.4 -75.38,38.02 -75.94,37.22 -76.03,37.26 -75.72,37.94 -76.23,38.32 -76.35,39.15 -76.54,38.72 -76.33,38.08 -76.99,38.24 -76.3,37.92 -76.26,36.97 -75.97,36.9 -75.87,36.55 -75.73,35.55 -76.36,34.81 -77.4,34.51 -78.05,33.93 -78.55,33.86 -79.06,33.49 -79.2,33.16 -80.3,32.51 -80.86,32.03 -81.34,31.44 -81.49,30.73 -81.31,30.04 -80.98,29.18 -80.54,28.47 -80.53,28.04 -80.06,26.88 -80.09,26.21 -80.13,25.82 -80.38,25.21 -80.68,25.08 -81.17,25.2 -81.33,25.64 -81.71,25.87 -82.24,26.73 -82.7,27.5 -82.86,27.89 -82.65,28.55 -82.93,29.1 -83.71,29.94 -84.1,30.09 -85.11,29.64 -85.29,29.69 -85.77,30.15 -86.4,30.4 -87.53,30.27 -88.42,30.38 -89.18,30.32 -89.59,30.16 -89.41,29.89 -89.43,29.49 -89.22,29.29 -89.41,29.16 -89.78,29.31 -90.15,29.12 -90.88,29.15 -91.63,29.68 -92.5,29.55 -93.23,29.78 -93.85,29.71 -94.69,29.48 -95.6,28.74 -96.59,28.31 -97.14,27.83 -97.37,27.38 -97.38,26.69 -97.33,26.21 -97.14,25.87 -97.53,25.84 -98.24,26.06 -99.02,26.37 -99.3,26.84 -99.52,27.54 -100.11,28.11 -100.46,28.7 -100.96,29.38 -101.66,29.78 -102.48,29.76 -103.11,28.97 -103.94,29.27 -104.46,29.57 -104.71,30.12 -105.04,30.64 -105.63,31.08 -106.14,31.4 -106.51,31.75 -108.24,31.75 -108.24,31.34 -111.02,31.33 -113.3,32.04 -114.81,32.53 -114.72,32.72 -115.99,32.61 -117.13,32.54 -117.3,33.05 -117.94,33.62 -118.41,33.74 -118.52,34.03 -119.08,34.08 -119.44,34.35 -120.37,34.45 -120.62,34.61 -120.74,35.16 -121.71,36.16 -122.55,37.55 -122.51,37.78 -122.95,38.11 -123.73,38.95 -123.87,39.77 -124.4,40.31 -124.18,41.14 -124.21,41.99 -124.53,42.77 -124.14,43.71 -124.02,44.62 -123.9,45.52 -124.08,46.86 -124.4,47.72 -124.69,48.18 -124.57,48.38 -123.12,48.04 -122.59,47.1 -122.34,47.36 -122.5,48.18 -122.84,49 -95.16,49 -95.16,49.38 -94.82,49.39;-156.6,71.36 -155.07,71.15 -154.34,70.7 -153.9,70.89 -152.21,70.83 -152.27,70.6 -150.74,70.43 -149.72,70.53 -147.61,70.21 -145.69,70.12 -144.92,69.99 -143.59,70.15 -142.07,69.85 -140.99,69.71 -141,60.31 -140.01,60.28 -139.04,60 -138.34,59.56 -137.45,58.91 -136.48,59.46 -135.48,59.79 -134.95,59.27 -134.27,58.86 -133.36,58.41 -132.73,57.69 -131.71,56.55 -130.01,55.92 -129.98,55.28 -130.54,54.8 -131.09,55.18 -131.97,55.5 -132.25,56.37 -133.54,57.18 -134.08,58.12 -135.04,58.19 -136.63,58.21 -137.8,58.5 -139.87,59.54 -140.83,59.73 -142.57,60.08 -143.96,60 -145.93,60.46 -147.11,60.88 -148.22,60.67 -148.02,59.98 -149.73,59.71 -150.61,59.37 -151.72,59.16 -151.86,59.74 -151.41,60.73 -150.35,61.03 -150.62,61.28 -151.9,60.73 -152.58,60.06 -154.02,59.35 -153.29,58.86 -154.23,58.15 -155.31,57.73 -156.31,57.42 -156.56,56.98 -158.12,56.46 -158.43,55.99 -159.6,55.57 -160.29,55.64 -161.22,55.36 -162.24,55.02 -163.07,54.69 -164.79,54.4 -164.94,54.57 -163.85,55.04 -162.87,55.35 -161.8,55.89 -160.56,56.01 -160.07,56.42 -158.68,57.02 -158.46,57.22 -157.72,57.57 -157.55,58.33 -157.04,58.92 -158.19,58.62 -158.52,58.79 -159.06,58.42 -159.71,58.93 -159.98,58.57 -160.36,59.07 -161.36,58.67 -161.97,58.67 -162.05,59.27 -161.87,59.63 -162.52,59.99 -163.82,59.8 -164.66,60.27 -165.35,60.51 -165.35,61.07 -166.12,61.5 -165.73,62.07 -164.92,62.63 -164.56,63.15 -163.75,63.22 -163.07,63.06 -162.26,63.54 -161.53,63.46 -160.77,63.77 -160.96,64.22 -161.52,64.4 -160.78,64.79 -161.39,64.78 -162.45,64.56 -162.76,64.34 -163.55,64.56 -164.96,64.45 -166.43,64.69 -166.85,65.09 -168.11,65.67 -166.71,66.09 -164.47,66.58 -163.65,66.58 -163.79,66.08 -161.68,66.12 -162.49,66.74 -163.72,67.12 -164.43,67.62 -165.39,68.04 -166.76,68.36 -166.2,68.88 -164.43,68.92 -163.17,69.37 -162.93,69.86 -161.91,70.33 -160.93,70.45 -159.04,70.89 -158.12,70.82 -156.6,71.36;-153.23,57.97 -152.56,57.9 -152.14,57.59 -153,57.12 -154,56.74 -154.52,56.99 -154.67,57.46 -153.76,57.82 -153.23,57.97",
"Uzbekistan":"66.52,37.36 66.55,37.97 65.22,38.4 64.17,38.89 63.52,39.36 62.37,40.05 61.88,41.08 61.55,41.27 60.47,41.22 60.08,41.43 59.98,42.22 58.63,42.75 57.79,42.17 56.93,41.83 57.1,41.32 55.97,41.31 55.93,45 58.5,45.59 58.69,45.5 60.24,44.78 61.06,44.41 62.01,43.5 63.19,43.65 64.9,43.73 66.1,43 66.02,42 66.51,41.99 66.71,41.17 67.99,41.14 68.26,40.66 68.63,40.67 69.07,41.38 70.39,42.08 70.96,42.27 71.26,42.17 70.42,41.52 71.16,41.14 71.87,41.39 73.06,40.87 71.77,40.15 71.01,40.24 70.46,40.5 70.67,40.96 69.33,40.73 69.01,40.09 68.61,39.53 68.18,39.15 67.44,39.14 68.39,38.16 67.83,37.14 67.08,37.36 66.52,37.36",
"Venezuela":"-71.33,11.78 -71.36,11.54 -71.95,11.42 -71.62,10.97 -71.63,10.45 -72.07,9.87 -71.7,9.07 -71.26,9.14 -71.04,9.86 -71.35,10.21 -71.4,10.97 -70.16,11.38 -70.29,11.85 -69.94,12.16 -69.58,11.46 -68.88,11.44 -68.23,10.89 -68.19,10.55 -67.3,10.55 -66.23,10.65 -65.66,10.2 -64.89,10.08 -64.33,10.39 -64.32,10.64 -63.08,10.7 -61.88,10.72 -62.73,10.42 -62.39,9.95 -61.59,9.87 -60.83,9.38 -60.67,8.58 -60.15,8.6 -59.76,8.37 -60.55,7.78 -60.64,7.41 -60.3,7.04 -60.54,6.86 -61.16,6.7 -61.14,6.23 -61.41,5.96 -60.73,5.2 -60.6,4.92 -60.97,4.54 -62.09,4.16 -62.8,4.01 -63.09,3.77 -63.89,4.02 -64.63,4.15 -64.82,4.06 -64.37,3.8 -64.41,3.13 -64.27,2.5 -63.42,2.41 -63.37,2.2 -64.08,1.92 -64.2,1.49 -64.61,1.33 -65.35,1.1 -65.55,0.79 -66.33,0.72 -66.88,1.25 -67.18,2.25 -67.45,2.6 -67.81,2.82 -67.3,3.32 -67.34,3.54 -67.62,3.84 -67.82,4.5 -67.74,5.22 -67.52,5.56 -67.34,6.1 -67.7,6.27 -68.27,6.15 -68.99,6.21 -69.39,6.1 -70.09,6.96 -70.67,7.09 -71.96,6.99 -72.2,7.34 -72.44,7.42 -72.48,7.63 -72.36,8 -72.44,8.41 -72.66,8.63 -72.79,9.09 -73.3,9.15 -73.03,9.74 -72.91,10.45 -72.61,10.82 -72.23,11.11 -71.97,11.61 -71.33,11.78",
"Vietnam":"108.05,21.55 106.72,20.7 105.88,19.75 105.66,19.06 106.43,18 107.36,16.7 108.27,16.08 108.88,15.28 109.34,13.43 109.2,11.67 108.37,11.01 107.22,10.36 106.41,9.53 105.16,8.6 104.8,9.24 105.08,9.92 104.33,10.49 105.2,10.89 106.25,10.96 105.81,11.57 107.49,12.34 107.61,13.54 107.38,14.2 107.56,15.2 107.31,15.91 106.56,16.6 105.93,17.49 105.09,18.67 103.9,19.27 104.18,19.62 104.82,19.89 104.44,20.76 103.2,20.77 102.75,21.68 102.17,22.46 102.71,22.71 103.5,22.7 104.48,22.82 105.33,23.35 105.81,22.98 106.73,22.79 106.57,22.22 107.04,21.81 108.05,21.55",
"Vanuatu":"167.84,-16.47 167.52,-16.6 167.18,-16.16 167.22,-15.89 167.84,-16.47;167.11,-14.93 167.27,-15.74 167,-15.61 166.79,-15.67 166.65,-15.39 166.63,-14.63 167.11,-14.93",
"Yemen":"53.11,16.65 52.39,16.38 52.19,15.94 52.17,15.6 51.17,15.18 49.57,14.71 48.68,14 48.24,13.95 47.94,14.01 47.35,13.59 46.72,13.4 45.88,13.35 45.63,13.29 45.41,13.03 45.14,12.95 44.99,12.7 44.49,12.72 44.18,12.59 43.48,12.64 43.22,13.22 43.25,13.77 43.09,14.06 42.89,14.8 42.6,15.21 42.81,15.26 42.7,15.72 42.82,15.91 42.78,16.35 43.22,16.67 43.12,17.09 43.38,17.58 43.79,17.32 44.06,17.41 45.22,17.43 45.4,17.33 46.37,17.23 46.75,17.28 47,16.95 47.47,17.12 48.18,18.17 49.12,18.62 52,19 53.11,16.65",
"South Africa":"31.52,-29.26 31.33,-29.4 30.9,-29.91 30.62,-30.42 30.06,-31.14 28.93,-32.17 28.22,-32.77 27.46,-33.23 26.42,-33.61 25.91,-33.67 25.78,-33.94 25.17,-33.8 24.68,-33.99 23.59,-33.79 22.99,-33.92 22.57,-33.86 21.54,-34.26 20.69,-34.42 20.07,-34.8 19.62,-34.82 19.19,-34.46 18.86,-34.44 18.42,-33.99 18.38,-34.14 18.24,-33.87 18.25,-33.28 17.93,-32.61 18.25,-32.43 18.22,-31.66 17.57,-30.73 17.06,-29.88 16.34,-28.58 16.82,-28.08 17.22,-28.36 17.39,-28.78 17.84,-28.86 18.46,-29.05 19,-28.97 19.89,-28.46 19.9,-24.77 20.17,-24.92 20.76,-25.87 20.67,-26.48 20.89,-26.83 21.61,-26.73 22.11,-26.28 22.58,-25.98 22.82,-25.5 23.31,-25.27 23.73,-25.39 24.21,-25.67 25.03,-25.72 25.66,-25.49 25.77,-25.17 25.94,-24.7 26.49,-24.62 26.79,-24.24 27.12,-23.57 28.02,-22.83 29.43,-22.09 29.84,-22.1 30.32,-22.27 30.66,-22.15 31.19,-22.25 31.67,-23.66 31.93,-24.37 31.75,-25.48 31.84,-25.84 31.33,-25.66 31.04,-25.73 30.95,-26.02 30.68,-26.4 30.69,-26.74 31.28,-27.29 31.87,-27.18 32.07,-26.73 32.83,-26.74 32.58,-27.47 32.46,-28.3 32.2,-28.75 31.52,-29.26",
"Lesotho":"28.98,-28.96 29.33,-29.26 29.02,-29.74 28.54,-30.13 28.07,-30.65 27.53,-30.65 27.05,-29.66 27.53,-29.24 28.07,-28.85 28.54,-28.65 28.98,-28.96",
"Zambia":"32.76,-9.23 33.23,-9.68 33.49,-10.53 33.31,-10.8 33.11,-11.61 33.31,-12.44 32.99,-12.78 32.69,-13.71 33.21,-13.97 30.18,-14.8 30.27,-15.51 29.52,-15.64 28.95,-16.04 28.83,-16.39 28.47,-16.47 27.6,-17.29 27.04,-17.94 26.71,-17.96 26.38,-17.85 25.26,-17.74 25.08,-17.66 25.08,-17.58 24.68,-17.35 24.03,-17.3 23.22,-17.52 22.56,-16.9 21.89,-16.08 21.93,-12.9 24.02,-12.91 23.93,-12.57 24.08,-12.19 23.9,-11.72 24.02,-11.24 23.91,-10.93 24.26,-10.95 24.31,-11.26 24.78,-11.24 25.42,-11.33 25.75,-11.78 26.55,-11.92 27.16,-11.61 27.39,-12.13 28.16,-12.27 28.52,-12.7 28.93,-13.25 29.7,-13.26 29.62,-12.18 29.34,-12.36 28.64,-11.97 28.37,-11.79 28.5,-10.79 28.67,-9.61 28.45,-9.16 28.73,-8.53 29,-8.41 30.35,-8.24 30.74,-8.34 31.16,-8.59 31.56,-8.76 32.19,-8.93 32.76,-9.23",
"Zimbabwe":"31.19,-22.25 30.66,-22.15 30.32,-22.27 29.84,-22.1 29.43,-22.09 28.79,-21.64 28.02,-21.49 27.73,-20.85 27.72,-20.5 27.3,-20.39 26.16,-19.29 25.85,-18.71 25.65,-18.54 25.26,-17.74 26.38,-17.85 26.71,-17.96 27.04,-17.94 27.6,-17.29 28.47,-16.47 28.83,-16.39 28.95,-16.04 29.52,-15.64 30.27,-15.51 30.34,-15.88 31.17,-15.86 31.64,-16.07 31.85,-16.32 32.33,-16.39 32.85,-16.71 32.85,-17.98 32.65,-18.67 32.61,-19.42 32.77,-19.72 32.66,-20.3 32.51,-20.4 32.24,-21.12 31.19,-22.25",
"Cape Verde":"-25.3,17.1 -25.0,17.15 -24.95,16.9 -25.2,16.85 -25.3,17.1;-23.75,15.3 -23.45,15.3 -23.45,14.95 -23.7,14.95 -23.75,15.3",
"Mauritius":"57.35,-20.05 57.75,-20.1 57.7,-20.5 57.35,-20.45 57.35,-20.05",
"Comoros":"43.25,-11.4 43.5,-11.4 43.5,-11.9 43.25,-11.9 43.25,-11.4",
"Sao Tome and Principe":"6.5,0.35 6.75,0.35 6.75,0.05 6.5,0.05 6.5,0.35",
"Seychelles":"55.35,-4.55 55.6,-4.55 55.6,-4.8 55.35,-4.8 55.35,-4.55",
"Maldives":"73.4,4.4 73.6,4.4 73.6,4.0 73.4,4.0 73.4,4.4",
"Antigua and Barbuda":"-61.9,17.15 -61.7,17.15 -61.7,16.95 -61.9,16.95 -61.9,17.15",
"Guadeloupe":"-61.75,16.4 -61.3,16.35 -61.5,16.0 -61.75,16.0 -61.75,16.4",
"Martinique":"-61.2,14.85 -60.85,14.7 -60.9,14.45 -61.2,14.5 -61.2,14.85",
"Barbados":"-59.65,13.3 -59.45,13.3 -59.45,13.05 -59.65,13.05 -59.65,13.3",
"Micronesia":"158.1,7.0 158.35,7.0 158.35,6.8 158.1,6.8 158.1,7.0;151.7,7.5 151.95,7.5 151.95,7.3 151.7,7.3 151.7,7.5",
"Palau":"134.45,7.65 134.65,7.65 134.6,7.3 134.45,7.3 134.45,7.65",
"Marshall Islands":"171.0,7.2 171.35,7.2 171.35,7.05 171.0,7.05 171.0,7.2",
"Samoa":"-172.8,-13.45 -172.25,-13.45 -172.25,-13.8 -172.8,-13.8 -172.8,-13.45",
"Kerguelen":"69.0,-48.8 70.5,-48.9 70.4,-49.6 69.1,-49.6 69.0,-48.8"
};
function parsePolys(s){return s.split(';').map(p=>p.trim().split(/\s+/).map(q=>q.split(',').map(Number)));}
const features=Object.keys(G).map(n=>({type:'Feature',properties:{name:n},geometry:{type:'MultiPolygon',coordinates:parsePolys(G[n]).map(r=>[r])}}));
const LATS=[0,5,10,15,20,25,30,35,40,45,50,55,60,65,70,75,80,85,90];
const PLEN=[1,.9986,.9954,.99,.9822,.973,.96,.9427,.9216,.8962,.8679,.835,.7986,.7597,.7186,.6732,.6213,.5722,.5322];
const PDFE=[0,.062,.124,.186,.248,.31,.372,.434,.4958,.5571,.6176,.6769,.7346,.7903,.8435,.8936,.9394,.9761,1];
const PXLON=2.31,PXLAT=212,CX=364,CY=319.5;
function interp(t,lat){const a=Math.min(Math.abs(lat),89.999),i=Math.floor(a/5),f=(a-i*5)/5;return t[i]+(t[i+1]-t[i])*f;}
const robinson={
 project(c){const sign=c[1]<0?-1:1;return [c[0]*PXLON*interp(PLEN,c[1]),-sign*PXLAT*interp(PDFE,c[1])];},
 unproject(p){const y=Math.abs(p[1])/PXLAT;let i=0;while(i<17&&PDFE[i+1]<y)i++;const lat=(i+(y-PDFE[i])/(PDFE[i+1]-PDFE[i]))*5;const l=p[1]>0?-lat:lat;return [p[0]/(PXLON*interp(PLEN,l)),l];}
};
let minX=1e9,minY=1e9,maxX=-1e9,maxY=-1e9;
features.forEach(f=>f.geometry.coordinates.forEach(r=>r[0].forEach(c=>{const p=robinson.project(c);minX=Math.min(minX,p[0]);maxX=Math.max(maxX,p[0]);minY=Math.min(minY,p[1]);maxY=Math.max(maxY,p[1]);})));
function hatch(s,w){const c=document.createElement('canvas');c.width=c.height=s;const x=c.getContext('2d');x.fillStyle='#fff';x.fillRect(0,0,s,s);x.strokeStyle='#e0e0e0';x.lineWidth=w;x.beginPath();x.moveTo(-1,s+1);x.lineTo(s+1,-1);x.moveTo(-1,1);x.lineTo(1,-1);x.moveTo(s-1,s+1);x.lineTo(s+1,s-1);x.stroke();return {image:c,repeat:'repeat'};}
const mapHatch=hatch(8,2);
const swatchHatch=hatch(6,1.4);
function binColor(v){const i=Math.min(legendColors.length-1,Math.floor(v/0.5));return legendColors[i];}
const mapData=Object.keys(G).map(n=>{
 if(noDataCountries.includes(n))return {name:n,value:null,itemStyle:{areaColor:mapHatch,borderColor:'#dcdcdc'}};
 const v=yieldHalfToOne.includes(n)?yieldValues.half:yieldOneToOneHalf.includes(n)?yieldValues.one:yieldValues.low;
 return {name:n,value:v,itemStyle:{areaColor:binColor(v)}};
});
echarts.registerMap('world',{type:'FeatureCollection',features});
const chart=echarts.init(document.getElementById('c'),null,{renderer:'canvas'});
const BODY='Lato,"Noto Sans",sans-serif';
const legendSeries=legendColors.map(col=>({type:'bar',xAxisIndex:0,yAxisIndex:0,stack:'legend',barWidth:'100%',data:[0.5],silent:true,itemStyle:{color:col,borderColor:'#999',borderWidth:0.5}}));
chart.setOption({
 animation:false,backgroundColor:'#fff',
 title:[
  {text:'Rapeseed yields, 2023',left:16,top:20,padding:0,textStyle:{fontFamily:'"Liberation Serif",serif',fontSize:26.6,fontWeight:'bold',color:'#373737'}},
  {text:'Yields are measured in tonnes per hectare.',left:16,top:53,padding:0,textStyle:{fontFamily:BODY,fontSize:15,fontWeight:'normal',color:'#5b5b5b'}}
 ],
 grid:{left:225,top:537,width:468,height:12,containLabel:false},
 xAxis:{type:'value',position:'top',min:legendTicks[0],max:legendTicks[legendTicks.length-1],interval:0.5,splitLine:{show:false},axisLine:{show:false},axisTick:{show:true,length:3,lineStyle:{color:'#999',width:1}},axisLabel:{color:'#5b5b5b',fontFamily:BODY,fontSize:13,margin:5,formatter:v=>v+' t'}},
 yAxis:{type:'category',data:[''],show:false},
 series:[{type:'map',map:'world',projection:robinson,roam:false,silent:true,left:CX+minX,top:CY+minY,width:maxX-minX,height:maxY-minY,label:{show:false},itemStyle:{borderColor:'#a8a8a0',borderWidth:0.5,areaColor:'#fff'},emphasis:{disabled:true},select:{disabled:true},data:mapData}].concat(legendSeries),
 graphic:[
  {type:'rect',left:770,top:16,shape:{width:64,height:36},style:{fill:'#002147'}},
  {type:'rect',left:770,top:49,shape:{width:64,height:3},style:{fill:'#ce261e'}},
  {type:'text',x:802,y:27,style:{text:'Our World',fill:'#fff',font:'bold 12px Lato,sans-serif',align:'center',verticalAlign:'middle'}},
  {type:'text',x:802,y:39,style:{text:'in Data',fill:'#fff',font:'bold 12px Lato,sans-serif',align:'center',verticalAlign:'middle'}},
  {type:'text',x:181,y:526,style:{text:'No data',fill:'#5b5b5b',font:'13.5px Lato,sans-serif',align:'center',verticalAlign:'middle'}},
  {type:'line',shape:{x1:181,y1:534,x2:181,y2:537},style:{stroke:'#c4c4c4',lineWidth:1}},
  {type:'rect',shape:{x:157,y:537,width:48,height:12},style:{fill:swatchHatch,stroke:'#c4c4c4',lineWidth:0.7}},
  {type:'text',x:16,y:577,style:{rich:{b:{font:'bold 13px Lato,sans-serif',fill:'#5b5b5b'},n:{font:'13px Lato,sans-serif',fill:'#5b5b5b'}},text:'{b|Data source:} {n|Food and Agriculture Organization of the United Nations (2025)}',verticalAlign:'middle'}},
  {type:'text',x:832,y:577,style:{text:'OurWorldinData.org/crop-yields | CC BY',fill:'#5b5b5b',font:'13px Lato,sans-serif',align:'right',verticalAlign:'middle'}}
 ]
});
</script></body></html>
